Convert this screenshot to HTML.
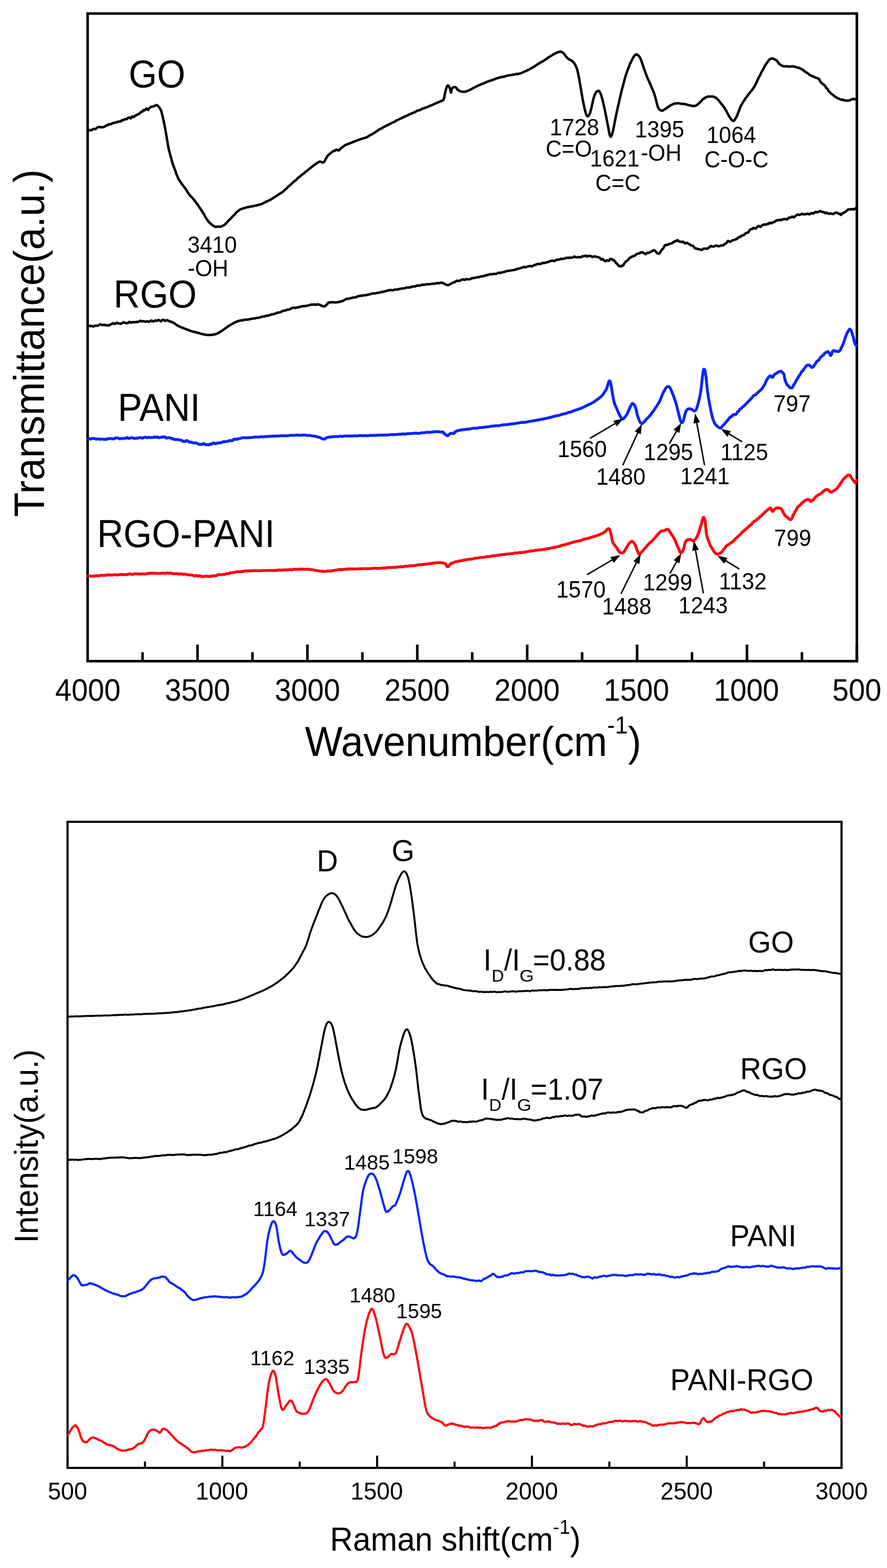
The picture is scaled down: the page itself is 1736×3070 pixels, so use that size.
<!DOCTYPE html>
<html><head><meta charset="utf-8"><title>FTIR and Raman spectra</title>
<style>
html,body{margin:0;padding:0;background:#fff;}
body{width:1736px;height:3070px;overflow:hidden;}
svg{display:block;}
text{font-family:"Liberation Sans",Arial,sans-serif;fill:#000;}
</style></head><body>
<svg width="1736" height="3070" viewBox="0 0 1736 3070">
<rect width="1736" height="3070" fill="#fff"/>
<rect x="171.5" y="26.5" width="1505.5" height="1268.0" fill="none" stroke="#000" stroke-width="5"/>
<line x1="1677.0" y1="1294.5" x2="1677.0" y2="1262" stroke="#000" stroke-width="5"/>
<text transform="translate(1628.97,1371.80) scale(0.9540,1)" font-size="60.3">500</text>
<line x1="1569.5" y1="1294.5" x2="1569.5" y2="1277" stroke="#000" stroke-width="5"/>
<line x1="1461.9" y1="1294.5" x2="1461.9" y2="1262" stroke="#000" stroke-width="5"/>
<text transform="translate(1396.92,1371.80) scale(0.9540,1)" font-size="60.3">1000</text>
<line x1="1354.4" y1="1294.5" x2="1354.4" y2="1277" stroke="#000" stroke-width="5"/>
<line x1="1246.9" y1="1294.5" x2="1246.9" y2="1262" stroke="#000" stroke-width="5"/>
<text transform="translate(1181.85,1371.80) scale(0.9540,1)" font-size="60.3">1500</text>
<line x1="1139.3" y1="1294.5" x2="1139.3" y2="1277" stroke="#000" stroke-width="5"/>
<line x1="1031.8" y1="1294.5" x2="1031.8" y2="1262" stroke="#000" stroke-width="5"/>
<text transform="translate(967.50,1371.80) scale(0.9540,1)" font-size="60.3">2000</text>
<line x1="924.2" y1="1294.5" x2="924.2" y2="1277" stroke="#000" stroke-width="5"/>
<line x1="816.7" y1="1294.5" x2="816.7" y2="1262" stroke="#000" stroke-width="5"/>
<text transform="translate(752.43,1371.80) scale(0.9540,1)" font-size="60.3">2500</text>
<line x1="709.2" y1="1294.5" x2="709.2" y2="1277" stroke="#000" stroke-width="5"/>
<line x1="601.6" y1="1294.5" x2="601.6" y2="1262" stroke="#000" stroke-width="5"/>
<text transform="translate(537.72,1371.80) scale(0.9540,1)" font-size="60.3">3000</text>
<line x1="494.1" y1="1294.5" x2="494.1" y2="1277" stroke="#000" stroke-width="5"/>
<line x1="386.6" y1="1294.5" x2="386.6" y2="1262" stroke="#000" stroke-width="5"/>
<text transform="translate(322.65,1371.80) scale(0.9540,1)" font-size="60.3">3500</text>
<line x1="279.0" y1="1294.5" x2="279.0" y2="1277" stroke="#000" stroke-width="5"/>
<line x1="171.5" y1="1294.5" x2="171.5" y2="1262" stroke="#000" stroke-width="5"/>
<text transform="translate(108.01,1371.80) scale(0.9540,1)" font-size="60.3">4000</text>
<path d="M172.4,256.0 173.2,255.2 174.1,254.7 175.1,255.2 176.3,255.2 177.5,254.6 178.9,254.7 180.3,254.5 181.7,253.2 183.3,252.3 184.9,252.5 186.5,252.6 188.1,252.0 189.8,250.2 191.5,249.4 193.2,248.7 194.8,248.2 196.5,249.0 198.1,249.1 199.7,248.7 201.2,249.2 202.6,249.0 204.0,248.2 205.4,247.6 206.8,246.7 208.3,245.3 209.8,245.4 211.2,244.7 212.7,243.2 214.2,243.3 215.7,243.2 217.2,243.0 218.6,242.0 220.1,241.5 221.5,241.0 223.0,240.3 224.4,240.3 225.7,239.9 227.1,239.4 228.4,238.9 229.7,239.1 230.9,238.6 232.1,237.8 233.8,237.8 235.4,238.1 236.9,237.2 238.3,235.3 239.7,235.5 241.1,235.3 242.4,234.2 243.7,233.6 245.0,233.8 246.2,233.0 247.5,233.3 248.7,233.0 250.0,231.1 251.3,230.4 252.7,230.1 254.0,230.9 255.3,231.9 256.7,231.0 258.1,228.3 259.5,227.9 260.9,228.8 262.3,229.0 263.6,227.5 265.0,226.1 266.3,225.7 267.6,225.1 268.9,224.2 270.1,223.5 271.2,223.5 272.3,223.1 273.3,222.1 274.9,220.5 276.4,218.9 277.6,218.7 278.8,218.6 279.9,216.8 280.8,215.5 281.8,216.0 282.7,216.1 283.6,215.8 285.1,214.0 286.4,212.6 287.6,212.7 288.8,214.8 290.0,215.3 291.1,212.9 292.1,211.6 293.1,211.3 294.1,210.1 295.3,209.4 296.6,209.0 297.9,209.0 299.3,208.7 300.8,207.9 302.3,207.3 303.8,206.6 305.2,206.1 306.5,205.7 307.8,206.4 309.1,207.5 310.2,208.5 311.3,209.7 312.2,211.0 313.1,212.3 313.7,213.4 314.3,214.4 314.7,215.3 315.2,216.4 315.6,217.6 316.0,219.0 316.4,220.5 316.7,221.7 317.1,223.1 317.4,224.3 317.7,225.4 318.0,226.6 318.4,228.1 318.7,229.8 319.0,231.3 319.4,232.7 319.7,233.9 320.0,235.2 320.3,236.9 320.5,238.3 320.8,239.7 321.1,240.9 321.4,241.9 321.6,243.3 321.9,244.8 322.2,246.2 322.4,247.7 322.7,249.0 323.0,250.3 323.3,251.5 323.5,252.9 323.8,254.4 324.0,255.9 324.3,257.4 324.5,258.9 324.8,260.5 325.0,261.9 325.3,263.3 325.5,264.7 325.8,266.1 326.0,267.5 326.3,269.0 326.5,270.5 326.8,272.0 327.0,273.4 327.2,274.7 327.5,276.3 327.7,277.6 327.9,279.0 328.1,280.5 328.4,282.0 328.6,283.5 328.9,284.8 329.1,286.0 329.3,287.5 329.6,289.0 329.9,290.5 330.3,291.7 330.6,293.1 331.0,294.6 331.3,296.1 331.7,297.3 332.0,298.6 332.4,300.0 332.8,301.1 333.1,302.6 333.5,304.2 333.8,305.5 334.2,306.8 334.6,308.2 334.9,309.5 335.3,310.8 335.7,312.2 336.0,313.5 336.4,314.8 336.8,316.2 337.1,317.4 337.5,318.6 337.9,320.1 338.3,321.8 338.8,323.0 339.2,324.0 339.6,325.3 340.1,326.4 340.5,327.6 341.0,328.7 341.4,329.8 342.0,331.3 342.5,332.8 342.9,333.9 343.4,335.0 343.9,336.4 344.4,338.0 344.9,339.7 345.4,341.3 346.0,342.6 346.5,343.9 347.1,345.0 347.6,346.2 348.1,347.6 348.7,349.0 349.2,350.0 349.9,351.5 350.7,352.7 351.4,353.6 352.1,354.5 352.9,355.7 353.6,356.8 354.4,357.9 355.2,359.1 356.0,360.3 356.8,361.2 357.6,362.3 358.5,363.6 359.3,364.7 360.2,365.8 361.1,366.8 362.0,368.1 362.8,369.4 363.6,370.2 364.3,371.0 365.1,372.4 365.7,373.6 366.3,374.5 366.8,375.4 367.4,376.5 368.1,377.4 368.8,378.7 369.8,379.9 370.6,380.9 371.4,382.2 372.4,383.2 373.4,384.2 374.5,385.5 375.6,386.5 376.7,387.5 377.7,388.9 378.8,390.3 379.8,391.6 380.7,392.6 381.5,393.6 382.6,394.9 383.6,396.2 384.4,397.5 385.3,398.6 386.0,399.7 386.8,400.7 387.6,401.6 388.4,402.9 389.2,404.3 389.9,405.4 390.7,406.4 391.5,407.6 392.3,408.7 393.0,409.9 393.8,411.0 394.5,412.1 395.2,413.1 396.0,414.5 396.7,415.5 397.4,416.5 398.1,417.7 398.7,419.0 399.4,420.0 400.1,421.1 400.7,422.5 401.4,424.1 402.1,424.8 402.7,425.9 403.3,427.0 404.0,428.1 404.7,429.0 405.5,430.2 406.4,431.6 407.3,432.9 408.3,434.1 409.3,435.0 410.4,436.3 411.4,437.5 412.4,438.0 413.6,438.8 414.7,439.9 415.9,440.9 417.0,441.8 418.1,442.4 419.3,442.8 420.6,443.6 421.8,444.4 423.1,444.3 424.5,443.8 426.2,443.7 427.3,443.8 428.5,443.8 429.7,443.8 431.1,443.8 432.4,443.5 433.8,443.0 435.3,442.3 436.7,441.6 438.2,440.9 439.1,440.3 440.1,439.5 441.1,438.5 442.1,437.7 443.1,436.7 444.1,435.5 445.2,434.3 446.2,433.2 447.2,431.9 448.3,430.8 449.3,430.1 450.3,429.1 451.4,428.0 452.4,427.1 453.4,426.0 454.4,424.7 455.5,423.3 456.5,422.4 457.5,421.7 458.6,420.8 459.6,419.8 460.6,418.4 461.6,416.8 462.7,415.6 463.7,415.0 464.7,414.2 465.8,413.4 466.8,412.6 468.1,411.5 469.4,410.6 470.7,410.1 471.9,409.5 473.2,409.0 474.5,408.5 475.8,408.0 477.1,407.6 478.5,407.2 479.8,406.9 481.2,406.4 482.5,405.9 483.9,405.6 485.2,405.6 486.6,405.3 488.0,405.0 489.4,404.7 490.9,404.3 492.3,404.0 493.7,404.0 495.0,403.8 496.4,403.5 497.7,403.0 499.2,402.7 500.6,402.6 502.0,402.3 503.3,401.7 504.6,401.5 506.0,401.2 507.4,400.8 508.9,400.3 510.4,399.9 512.1,399.4 513.2,398.9 514.4,398.3 515.6,397.6 516.8,397.0 518.1,396.5 519.4,395.8 520.7,395.0 522.0,394.4 523.4,393.9 524.7,393.3 526.1,392.5 527.4,391.8 528.7,391.3 530.1,390.7 531.4,389.9 532.7,389.0 533.9,388.1 535.1,387.3 536.3,386.7 537.5,386.1 538.8,385.2 540.0,384.3 541.2,383.5 542.4,382.8 543.6,382.0 544.8,381.1 546.0,380.3 547.2,379.7 548.5,378.8 549.7,377.9 550.9,377.4 552.1,376.6 553.3,375.5 554.4,374.7 555.5,373.6 556.6,372.6 557.6,371.6 558.7,370.7 559.8,370.0 560.9,369.0 562.0,367.8 563.1,366.6 564.1,365.5 565.2,364.7 566.3,363.8 567.4,362.5 568.5,361.6 569.6,360.8 570.6,360.0 571.7,359.0 572.8,357.7 573.9,356.7 575.0,355.8 576.0,354.9 577.1,354.0 578.1,353.4 579.2,352.6 580.2,351.5 581.2,350.4 582.3,349.5 583.3,348.3 584.3,347.5 585.4,346.8 586.5,346.3 587.5,345.3 588.6,344.2 589.8,343.0 590.9,341.9 592.1,341.3 593.3,340.6 594.5,339.4 595.6,338.6 596.7,337.6 597.8,336.5 599.1,335.8 600.3,335.0 601.6,333.8 602.9,332.7 604.2,331.6 605.5,330.4 606.8,329.5 608.1,328.6 609.5,327.5 610.7,326.6 612.0,325.4 613.3,324.2 614.5,323.4 615.6,322.7 616.7,321.9 617.8,321.1 618.8,320.5 619.7,319.8 620.5,319.2 621.3,318.6 623.9,317.1 625.3,316.6 626.0,316.5 626.6,316.5 627.5,316.6 628.7,317.1 629.9,317.8 631.1,318.2 632.3,318.3 633.7,317.5 634.3,316.7 635.0,315.9 635.6,315.0 636.3,313.8 636.9,312.4 637.6,311.1 638.4,309.8 639.2,308.3 640.0,306.9 640.9,305.5 641.9,304.3 642.9,303.4 644.0,302.4 645.3,301.3 646.6,300.2 647.9,299.3 649.3,298.2 650.6,297.2 652.0,296.3 653.2,295.8 654.4,295.4 655.5,294.8 656.4,294.1 658.2,293.2 659.5,293.4 660.6,293.9 661.5,294.5 662.5,294.7 663.5,294.2 664.3,293.3 665.3,292.2 666.7,290.7 667.5,290.0 668.4,289.4 669.3,288.8 670.3,288.1 671.4,287.4 672.6,286.4 673.9,285.3 675.4,284.4 677.0,283.6 678.1,282.9 679.2,282.6 680.4,282.3 681.7,281.9 683.0,281.3 684.4,280.6 685.8,280.0 687.3,279.5 688.7,278.9 690.2,278.4 691.7,277.9 693.2,277.2 694.7,276.5 696.2,276.0 697.6,275.6 698.9,275.1 700.3,274.6 701.6,274.1 702.9,273.4 704.2,273.0 705.5,272.7 706.8,272.2 708.2,271.6 709.5,271.2 710.9,270.9 712.3,270.4 713.8,269.9 715.2,269.6 716.8,269.1 718.4,268.3 720.0,267.5 721.1,266.8 722.2,266.0 723.3,265.3 724.5,264.7 725.6,264.2 726.8,263.5 728.0,263.0 729.3,262.1 730.5,261.1 731.7,260.6 733.0,260.0 734.3,259.0 735.6,258.1 736.8,257.1 738.1,256.3 739.4,255.4 740.7,254.7 742.0,253.6 743.3,252.7 744.6,252.5 745.9,252.1 747.1,251.1 748.4,250.3 749.7,249.6 750.9,248.8 752.2,248.3 753.5,247.6 754.8,246.7 756.1,246.1 757.3,245.4 758.6,244.6 759.9,244.3 761.2,243.8 762.5,242.9 763.8,242.3 765.1,241.6 766.4,240.9 767.6,240.4 768.9,239.7 770.2,239.1 771.5,238.7 772.8,238.0 774.1,237.2 775.4,236.1 776.6,235.5 777.9,235.2 779.2,234.5 780.5,233.8 781.8,233.1 783.1,232.5 784.5,231.9 785.8,231.4 787.2,230.6 788.5,230.0 789.9,229.4 791.2,228.8 792.5,228.0 793.9,227.4 795.2,226.9 796.6,226.3 797.9,225.7 799.3,224.9 800.6,224.3 802.0,223.7 803.3,223.1 804.6,222.5 806.0,221.8 807.3,221.3 808.7,220.9 810.0,220.4 811.4,219.6 812.7,219.0 814.1,218.4 815.4,217.4 816.8,216.6 818.2,216.2 819.6,216.1 821.0,215.9 822.4,215.2 823.9,214.5 825.3,213.6 826.7,212.6 828.1,212.1 829.5,212.1 830.9,211.6 832.3,210.9 833.6,210.5 835.0,209.9 836.3,209.6 837.6,209.2 838.8,208.4 840.1,207.8 841.3,207.4 842.5,206.9 843.6,206.5 845.2,205.7 846.8,205.2 848.3,204.5 849.9,203.7 851.3,203.0 852.8,202.4 854.2,201.6 855.6,201.1 856.9,200.7 858.1,200.2 859.3,199.6 860.4,199.3 861.5,198.6 862.5,198.1 863.4,198.0 864.2,197.7 866.4,196.5 867.3,196.2 867.7,195.8 868.4,194.1 868.7,193.3 869.0,192.4 869.4,190.9 869.7,189.4 870.0,187.8 870.3,186.1 870.6,184.6 870.9,182.9 871.2,181.1 871.6,179.7 871.9,178.5 872.2,177.0 872.5,175.8 873.1,174.1 873.7,172.2 874.3,170.5 874.8,169.3 875.4,168.2 876.0,167.6 876.6,167.4 877.5,167.6 878.3,168.6 879.2,170.2 880.0,172.0 880.7,173.7 881.2,175.2 881.7,177.2 882.1,179.2 882.4,180.5 882.8,181.1 883.1,180.5 883.3,178.9 883.5,177.0 883.8,175.4 884.2,173.9 884.8,172.7 885.8,171.8 887.0,171.2 888.3,170.7 889.7,170.3 891.0,170.7 892.0,171.2 893.0,172.0 894.0,173.3 895.0,174.9 896.0,175.9 897.2,176.5 898.4,177.3 899.7,178.1 901.1,178.7 902.5,179.1 904.0,179.4 905.5,179.8 906.6,179.7 907.7,179.7 908.8,179.6 909.9,179.5 911.1,179.4 912.5,179.0 914.0,178.2 915.8,177.5 916.8,177.2 917.9,176.9 919.0,176.4 920.2,175.7 921.5,175.0 922.8,174.3 924.1,173.5 925.5,172.8 926.8,172.3 928.2,171.4 929.6,170.7 931.0,170.2 932.4,169.5 933.8,168.6 935.1,167.8 936.4,167.1 937.8,166.8 939.1,166.3 940.5,165.6 941.9,165.1 943.3,164.3 944.6,163.8 946.0,163.4 947.4,162.9 948.8,162.4 950.1,161.6 951.5,160.9 952.9,160.3 954.3,159.8 955.6,159.3 957.0,158.9 958.4,158.6 959.7,157.9 961.1,157.4 962.4,157.3 963.8,156.6 965.2,155.9 966.5,155.8 967.9,155.3 969.2,154.4 970.6,153.7 972.0,153.4 973.4,153.3 974.8,152.7 976.2,152.2 977.6,151.9 979.0,151.6 980.3,151.0 981.7,150.6 983.1,150.4 984.5,150.6 985.9,150.4 987.4,149.9 988.8,149.4 990.2,148.9 991.7,148.4 993.1,148.2 994.5,147.8 995.9,147.5 997.3,147.3 998.6,147.2 1000.0,147.1 1001.4,146.9 1002.8,146.5 1004.2,146.1 1005.6,146.0 1007.0,145.9 1008.4,145.7 1009.7,145.1 1011.1,144.6 1012.4,144.8 1013.8,145.0 1015.2,144.6 1016.5,144.1 1017.9,143.8 1019.2,143.4 1020.6,142.9 1021.9,142.3 1023.2,141.8 1024.5,141.3 1025.8,140.5 1027.0,139.9 1028.3,139.5 1029.6,139.0 1030.9,138.4 1032.2,137.7 1033.5,137.1 1034.8,136.6 1036.1,135.7 1037.3,135.0 1038.6,134.3 1039.9,133.4 1041.2,132.7 1042.5,132.1 1043.8,131.5 1045.1,130.6 1046.4,129.7 1047.6,128.8 1048.9,128.0 1050.2,127.4 1051.5,126.4 1052.8,125.4 1054.1,124.7 1055.4,123.8 1056.7,123.1 1057.9,122.5 1059.2,121.7 1060.5,121.0 1061.8,120.1 1063.0,119.4 1064.3,118.8 1065.5,118.2 1066.8,117.2 1068.1,116.2 1069.4,115.3 1070.7,114.4 1072.0,113.6 1073.2,112.6 1074.5,111.8 1075.7,111.0 1076.9,110.2 1078.1,109.5 1079.3,109.0 1080.4,108.1 1081.4,107.4 1082.4,106.9 1084.2,106.0 1085.8,105.1 1087.4,104.4 1088.8,103.7 1090.2,102.9 1091.4,102.4 1092.6,102.0 1093.7,101.7 1094.8,101.3 1096.4,101.0 1097.5,101.1 1098.5,101.5 1099.6,102.0 1101.0,102.9 1101.8,103.5 1102.6,104.0 1103.5,104.7 1104.4,106.0 1105.4,107.4 1106.4,108.9 1107.4,110.1 1108.4,111.1 1109.4,112.5 1110.3,113.6 1111.3,114.3 1112.5,115.3 1113.7,116.3 1114.9,116.8 1116.1,117.3 1117.3,117.9 1118.5,118.5 1119.6,119.4 1120.6,120.3 1121.6,121.3 1122.5,122.2 1123.3,123.2 1124.0,124.3 1124.8,125.3 1125.4,126.4 1126.0,127.5 1126.6,128.8 1127.2,130.0 1127.8,131.4 1128.3,132.5 1128.8,133.5 1129.2,134.9 1129.6,136.5 1130.0,137.9 1130.4,139.0 1130.7,140.3 1131.1,142.1 1131.5,143.9 1131.9,145.7 1132.2,147.0 1132.4,148.4 1132.6,149.7 1132.9,150.8 1133.1,151.9 1133.3,153.2 1133.6,154.5 1133.8,155.8 1134.1,157.4 1134.3,158.9 1134.6,160.4 1134.8,162.1 1135.1,163.8 1135.4,165.4 1135.7,167.2 1136.0,168.7 1136.2,169.7 1136.4,171.0 1136.7,172.5 1136.9,173.8 1137.2,175.3 1137.4,177.0 1137.7,178.7 1137.9,180.2 1138.2,181.6 1138.4,183.1 1138.7,184.7 1139.0,186.3 1139.2,187.8 1139.5,189.5 1139.8,191.0 1140.1,192.4 1140.3,194.1 1140.6,195.5 1140.9,196.9 1141.1,198.1 1141.4,199.5 1141.7,200.8 1141.9,202.0 1142.2,203.4 1142.6,205.6 1143.0,207.4 1143.4,209.1 1143.8,211.0 1144.1,212.6 1144.5,214.2 1144.9,215.7 1145.3,217.3 1145.7,218.9 1146.1,220.4 1146.5,221.5 1146.9,222.4 1147.2,223.4 1147.6,224.6 1148.0,225.7 1148.4,226.4 1149.6,227.6 1150.7,227.5 1151.9,226.6 1153.1,224.9 1154.5,222.0 1154.8,221.2 1155.1,220.3 1155.5,219.1 1155.8,217.6 1156.2,216.3 1156.5,215.1 1156.9,213.6 1157.3,212.2 1157.6,210.7 1158.0,208.8 1158.4,206.9 1158.8,205.1 1159.2,203.5 1159.5,202.0 1159.9,200.3 1160.3,198.6 1160.7,197.0 1161.0,195.3 1161.4,193.5 1161.8,192.1 1162.1,191.6 1162.5,190.5 1162.8,189.1 1163.7,186.5 1164.5,184.6 1165.3,183.0 1166.1,181.3 1166.9,180.3 1167.7,179.6 1168.5,178.9 1169.2,178.4 1170.0,178.1 1170.9,178.1 1171.8,177.9 1172.7,178.3 1173.5,179.6 1174.4,181.2 1175.3,183.0 1176.2,185.2 1176.5,186.0 1176.9,187.0 1177.2,188.5 1177.6,189.9 1178.0,191.1 1178.3,192.0 1178.7,193.2 1179.1,194.7 1179.4,196.4 1179.8,198.1 1180.2,199.6 1180.5,201.0 1180.9,202.7 1181.3,204.4 1181.6,206.1 1182.0,207.7 1182.4,209.3 1182.7,210.9 1183.1,212.5 1183.4,213.9 1183.7,215.2 1184.0,216.7 1184.3,217.9 1184.6,219.2 1184.9,220.8 1185.2,222.4 1185.5,224.0 1185.8,225.4 1186.1,226.8 1186.3,228.3 1186.6,229.7 1186.9,231.0 1187.2,232.4 1187.5,234.1 1187.7,235.3 1188.0,236.8 1188.3,238.4 1188.6,239.8 1188.8,241.2 1189.1,242.6 1189.3,243.9 1189.6,245.2 1189.9,247.0 1190.3,248.3 1190.6,250.0 1190.9,251.8 1191.3,253.6 1191.6,255.6 1191.9,257.4 1192.2,258.8 1192.5,260.3 1192.8,262.0 1193.1,263.6 1193.4,264.9 1193.8,265.9 1194.1,266.5 1194.4,267.0 1194.7,267.5 1195.3,267.6 1195.8,267.2 1196.4,266.5 1196.9,265.4 1197.5,263.7 1198.1,261.9 1198.7,260.1 1199.3,257.8 1199.9,255.3 1200.2,254.0 1200.4,252.8 1200.7,251.8 1200.9,250.8 1201.2,249.6 1201.4,248.4 1201.7,247.3 1201.9,245.9 1202.2,244.3 1202.4,242.9 1202.7,241.6 1202.9,240.1 1203.2,238.6 1203.5,237.2 1203.8,235.8 1204.1,234.1 1204.4,232.4 1204.7,230.8 1205.0,229.3 1205.4,227.8 1205.7,226.1 1206.1,224.2 1206.4,222.8 1206.6,221.8 1206.9,220.5 1207.2,219.1 1207.5,217.6 1207.8,216.0 1208.1,214.7 1208.5,213.4 1208.8,212.0 1209.1,210.2 1209.5,208.3 1209.8,207.1 1210.1,205.9 1210.5,204.6 1210.8,203.1 1211.2,201.8 1211.5,200.2 1211.9,198.5 1212.2,196.7 1212.6,194.9 1212.9,193.5 1213.3,192.0 1213.6,190.4 1214.0,188.9 1214.3,187.4 1214.7,185.8 1215.0,184.4 1215.4,183.0 1215.7,181.6 1216.1,180.2 1216.4,178.8 1216.8,177.0 1217.2,175.4 1217.6,173.8 1218.0,172.4 1218.4,171.1 1218.8,169.6 1219.2,168.0 1219.6,166.6 1220.0,165.2 1220.4,163.5 1220.8,161.9 1221.2,160.3 1221.6,158.9 1221.9,157.5 1222.3,156.1 1222.7,154.8 1223.1,153.4 1223.5,151.9 1223.9,150.5 1224.3,149.1 1224.7,147.7 1225.1,146.5 1225.5,145.4 1225.9,144.3 1226.3,143.1 1226.7,142.0 1227.3,140.3 1227.9,138.8 1228.4,137.1 1229.0,135.4 1229.6,133.9 1230.2,132.5 1230.8,131.1 1231.4,129.6 1232.0,127.7 1232.6,126.0 1233.1,124.5 1233.7,123.6 1234.3,122.7 1234.9,121.5 1235.4,120.3 1235.9,119.0 1236.5,117.9 1237.0,117.0 1238.0,115.1 1239.0,113.3 1239.9,111.8 1240.8,110.3 1241.7,109.1 1242.5,108.2 1243.4,107.4 1244.3,106.8 1245.2,106.5 1246.2,106.6 1247.2,107.0 1248.2,107.9 1249.2,108.5 1250.2,109.4 1251.2,110.8 1252.3,112.4 1253.4,114.5 1253.8,115.7 1254.3,116.8 1254.8,117.8 1255.2,119.0 1255.7,120.2 1256.2,121.7 1256.6,123.2 1257.1,124.6 1257.6,126.0 1258.1,127.4 1258.6,129.0 1259.1,130.5 1259.6,132.0 1260.1,133.6 1260.6,135.0 1261.1,136.4 1261.7,138.0 1262.2,139.4 1262.7,140.8 1263.3,142.3 1263.8,143.9 1264.4,145.2 1264.9,146.4 1265.5,148.3 1266.1,150.2 1266.8,151.5 1267.4,152.7 1268.0,154.1 1268.7,155.8 1269.3,157.3 1270.0,158.6 1270.6,160.0 1271.2,161.6 1271.9,163.0 1272.5,164.1 1273.1,165.5 1273.6,167.0 1274.2,168.3 1274.7,169.6 1275.2,170.8 1275.7,171.8 1276.1,172.6 1277.0,174.5 1277.6,176.4 1278.2,177.9 1278.7,179.0 1279.1,179.7 1279.5,180.6 1279.9,182.0 1280.4,183.5 1281.0,185.2 1281.3,186.2 1281.7,187.4 1282.1,188.8 1282.5,190.1 1282.9,191.7 1283.3,193.3 1283.7,194.8 1284.1,196.3 1284.5,198.2 1285.0,200.1 1285.4,201.8 1285.8,203.3 1286.2,205.0 1286.6,206.6 1287.1,207.9 1287.4,208.9 1287.8,210.0 1288.2,210.9 1289.3,212.8 1290.3,214.1 1291.3,214.9 1292.2,215.5 1293.1,216.0 1294.0,216.1 1295.0,216.4 1295.8,216.7 1296.9,216.7 1298.5,215.7 1299.4,215.0 1300.5,214.4 1301.6,213.6 1302.9,212.9 1304.2,212.0 1305.6,210.8 1306.9,210.0 1308.3,209.3 1309.6,208.2 1310.9,207.3 1312.2,206.4 1313.5,205.5 1314.8,205.1 1316.1,204.7 1317.4,203.8 1318.7,203.1 1320.1,202.8 1321.7,202.6 1323.3,202.5 1324.5,202.4 1325.9,202.3 1327.2,202.2 1328.7,202.2 1330.2,202.6 1331.7,202.9 1333.2,203.2 1334.7,203.4 1336.2,203.5 1337.7,203.6 1339.1,203.6 1340.5,203.8 1341.8,204.2 1343.4,204.6 1345.0,204.9 1346.6,205.5 1348.1,205.9 1349.6,206.2 1351.1,206.4 1352.5,206.6 1353.8,207.2 1355.0,207.5 1356.2,207.5 1357.9,207.5 1359.2,207.5 1360.3,207.4 1361.5,206.9 1362.8,206.1 1364.5,205.3 1365.3,204.5 1366.3,203.8 1367.2,203.0 1368.2,202.0 1369.3,200.9 1370.3,200.0 1371.4,199.0 1372.5,197.9 1373.7,196.7 1374.8,195.1 1375.8,193.8 1376.9,193.4 1377.9,193.0 1378.9,192.3 1380.4,191.2 1381.8,190.5 1383.3,189.9 1384.7,189.2 1386.0,189.0 1387.4,189.0 1388.7,189.1 1390.0,189.0 1391.3,189.1 1392.7,188.9 1393.9,188.8 1395.1,189.2 1396.3,189.3 1397.5,189.8 1398.8,190.4 1400.1,190.9 1401.6,191.8 1402.4,192.8 1403.3,193.4 1404.2,194.0 1405.1,194.9 1406.0,196.0 1407.0,197.2 1407.9,198.3 1408.9,199.6 1409.9,200.9 1410.9,202.2 1411.9,203.4 1412.9,204.5 1413.9,205.6 1415.0,207.2 1416.0,208.6 1416.7,209.5 1417.5,210.5 1418.3,211.6 1419.1,213.1 1420.0,214.7 1420.8,216.1 1421.7,217.6 1422.5,219.3 1423.4,221.0 1424.2,222.5 1425.1,224.1 1425.9,225.7 1426.7,227.0 1427.5,228.4 1428.3,229.6 1429.1,230.9 1429.8,232.1 1430.6,233.1 1431.2,233.8 1431.9,234.5 1432.5,235.1 1434.1,236.4 1435.4,236.9 1436.5,236.5 1437.5,235.3 1438.4,233.9 1439.5,232.1 1440.7,230.1 1441.2,229.0 1441.7,228.0 1442.3,227.1 1442.8,225.8 1443.4,224.2 1443.9,222.6 1444.5,221.3 1445.0,219.8 1445.6,218.5 1446.2,217.2 1446.7,215.7 1447.3,214.1 1447.9,212.7 1448.5,211.1 1449.1,209.3 1449.8,207.7 1450.4,206.7 1451.0,205.7 1451.8,204.5 1452.5,203.1 1453.3,201.6 1454.2,200.2 1455.0,198.6 1455.8,197.4 1456.6,196.3 1457.5,195.3 1458.3,193.8 1459.2,192.3 1460.0,191.4 1460.9,190.3 1461.7,189.2 1462.6,188.0 1463.4,186.9 1464.3,185.7 1465.2,184.4 1466.1,183.2 1467.0,182.3 1467.9,181.1 1468.8,179.9 1469.7,178.8 1470.6,177.7 1471.5,176.8 1472.4,175.5 1473.3,174.3 1474.1,173.0 1475.0,171.5 1475.8,170.2 1476.5,169.2 1477.2,168.2 1477.8,167.1 1478.5,165.7 1479.1,164.3 1479.7,163.2 1480.3,162.0 1481.0,160.8 1481.6,159.2 1482.2,157.8 1482.8,156.6 1483.4,155.2 1484.1,153.8 1484.7,152.3 1485.4,151.1 1486.1,149.8 1486.7,148.9 1487.4,147.8 1488.1,146.3 1488.7,144.5 1489.4,143.1 1490.1,141.8 1490.8,140.7 1491.5,139.4 1492.2,138.0 1493.0,136.7 1493.7,135.5 1494.4,134.3 1495.1,133.1 1495.8,131.6 1496.4,130.2 1497.1,128.8 1497.8,127.7 1498.4,126.8 1499.4,125.3 1500.4,124.0 1501.4,122.7 1502.3,121.2 1503.2,119.8 1504.1,118.6 1505.0,117.6 1505.9,116.6 1506.9,115.9 1507.8,115.3 1508.7,114.8 1510.0,114.5 1511.4,114.4 1512.7,114.7 1514.1,115.3 1515.4,115.8 1516.7,116.5 1517.9,117.1 1519.0,117.7 1520.1,118.5 1521.0,119.5 1521.8,120.6 1522.6,121.8 1523.4,123.0 1524.2,124.3 1525.2,125.2 1526.2,126.0 1527.2,126.7 1528.3,127.3 1529.4,127.8 1530.6,128.5 1532.0,129.4 1533.5,129.7 1534.7,129.8 1536.1,129.9 1537.5,129.9 1539.1,129.6 1540.6,129.7 1542.2,130.3 1543.7,130.5 1545.2,130.2 1546.6,130.1 1547.9,130.2 1549.5,130.1 1551.0,129.8 1552.3,129.9 1553.5,130.3 1554.8,130.3 1556.1,130.6 1557.5,131.2 1558.8,131.7 1560.2,132.3 1561.5,132.7 1562.9,132.9 1564.3,133.0 1565.7,133.6 1567.1,134.6 1568.5,135.3 1569.7,135.7 1570.9,136.6 1572.2,137.4 1573.4,138.5 1574.6,139.7 1575.8,140.2 1577.1,141.1 1578.3,142.0 1579.5,142.5 1580.7,143.2 1581.9,144.5 1583.1,145.5 1584.3,146.3 1585.5,147.0 1586.7,147.7 1587.9,148.2 1589.1,148.9 1590.4,149.2 1591.7,149.9 1593.2,150.3 1594.6,151.2 1596.1,152.1 1597.6,152.3 1599.0,152.7 1600.3,153.5 1601.5,153.9 1602.5,154.4 1603.7,155.8 1604.5,157.7 1605.0,158.9 1605.6,159.7 1606.1,160.5 1606.9,161.7 1607.9,162.4 1609.0,163.4 1610.2,164.3 1611.4,165.4 1612.5,165.7 1613.5,167.0 1614.3,167.8 1615.0,167.9 1615.6,169.4 1616.2,171.3 1616.9,172.1 1617.9,172.5 1618.6,173.1 1619.3,174.0 1620.1,175.1 1621.0,176.8 1621.9,178.7 1622.8,179.5 1623.8,180.1 1624.7,181.2 1625.7,182.5 1626.7,183.3 1627.8,184.0 1629.0,185.1 1630.1,185.6 1631.3,186.5 1632.5,188.0 1633.8,189.1 1635.1,189.4 1636.4,190.3 1637.7,191.4 1638.9,192.1 1640.2,192.8 1641.6,193.4 1642.9,193.7 1644.3,194.4 1645.7,194.9 1647.0,195.3 1648.4,195.6 1649.7,195.0 1650.9,195.6 1652.4,196.8 1653.9,196.8 1655.4,196.6 1656.9,197.0 1658.3,197.2 1659.6,196.9 1660.8,196.9 1661.9,196.6 1663.6,196.1 1664.9,195.6 1666.0,195.0 1667.4,194.0 1668.6,194.0 1670.1,194.2 1671.5,193.8 1673.0,193.9 1674.1,194.7 1675.0,194.9" fill="none" stroke="#000" stroke-width="4.8" stroke-linejoin="round" stroke-linecap="round"/>
<path d="M172.4,639.1 173.2,638.7 174.1,638.1 175.0,637.8 176.1,638.2 177.3,638.5 178.5,638.4 179.9,638.1 181.3,638.7 182.7,639.5 184.2,638.6 185.8,637.7 187.4,637.9 189.1,637.7 190.7,637.7 192.5,637.3 194.2,636.0 195.9,634.9 197.7,635.5 199.4,636.2 201.2,635.9 202.5,636.3 203.8,636.3 205.1,635.9 206.4,636.7 207.8,637.2 209.2,637.0 210.6,636.8 212.1,637.0 213.5,637.1 215.0,635.9 216.5,635.2 218.0,634.9 219.5,633.7 221.0,632.9 222.6,633.4 224.1,634.3 225.6,634.0 227.2,632.4 228.7,631.8 230.3,632.6 231.8,633.1 233.3,633.3 234.9,633.8 236.4,634.0 237.9,633.3 239.4,632.5 240.9,631.2 242.4,630.9 243.9,631.9 245.4,632.6 246.8,632.7 248.3,632.6 249.8,632.6 251.3,631.8 252.8,630.2 254.3,630.5 255.8,631.5 257.3,631.3 258.8,630.6 260.3,631.2 261.8,630.8 263.3,630.6 264.7,630.9 266.2,630.7 267.7,629.9 269.2,630.5 270.7,630.2 272.1,629.4 273.6,628.7 275.0,627.9 276.5,628.6 277.9,629.3 279.4,629.0 280.8,629.0 282.2,629.2 283.6,629.6 285.2,629.9 286.8,629.3 288.4,628.9 290.0,629.7 291.6,630.1 293.3,629.0 294.9,628.1 296.6,627.7 298.2,628.8 299.8,629.3 301.4,629.1 303.0,627.9 304.6,627.4 306.2,628.2 307.7,628.1 309.2,626.8 310.7,626.4 312.1,627.4 313.5,628.4 314.8,629.2 316.1,627.8 317.3,626.9 318.5,626.6 319.6,626.0 320.7,626.8 323.0,628.1 324.9,627.6 326.5,626.9 327.8,627.0 328.9,628.0 330.0,628.6 331.0,628.7 332.2,628.9 333.5,629.6 335.1,630.2 336.2,630.5 337.3,631.0 338.4,631.2 339.6,632.0 340.8,632.9 342.0,633.6 343.2,634.4 344.4,635.3 345.7,636.3 347.0,637.1 348.4,637.8 349.8,638.6 351.2,639.3 352.7,639.8 354.2,640.7 355.8,641.5 357.0,641.8 358.3,642.3 359.6,642.8 360.9,643.2 362.3,643.7 363.7,644.4 365.2,645.0 366.6,645.4 368.1,645.8 369.6,646.4 371.1,647.1 372.6,647.7 374.1,648.2 375.6,648.7 377.1,649.2 378.6,649.5 380.0,649.7 381.4,650.1 382.8,650.3 384.2,650.5 385.5,651.1 386.7,651.8 388.4,651.9 390.0,652.1 391.5,652.8 393.1,653.5 394.6,653.8 396.1,654.1 397.5,654.3 398.9,654.7 400.3,655.1 401.6,655.3 403.0,655.4 404.3,655.6 405.6,655.8 406.8,655.7 408.1,655.8 409.3,655.8 410.9,655.8 412.4,655.9 413.8,655.7 415.2,655.4 416.5,655.1 417.8,655.0 419.1,655.1 420.4,654.6 421.7,654.3 423.0,653.8 424.4,653.4 425.8,652.8 427.0,652.0 428.2,651.4 429.4,650.8 430.7,650.0 432.0,649.2 433.2,648.3 434.5,647.6 435.8,646.8 437.1,645.7 438.3,644.6 439.6,643.7 440.8,642.9 442.1,642.2 443.2,641.5 444.4,640.5 445.7,639.5 447.0,638.6 448.2,637.8 449.5,637.1 450.7,636.6 451.9,635.7 453.1,634.9 454.2,634.3 455.4,633.5 456.6,633.0 457.7,632.5 458.9,631.8 460.0,631.1 461.4,630.4 462.6,630.0 463.8,629.5 464.8,628.8 466.0,628.6 467.2,628.5 468.6,628.0 470.2,627.6 472.1,627.3 474.3,627.0 475.3,627.1 476.5,627.0 477.6,626.5 478.9,625.9 480.2,625.8 481.5,625.7 482.9,625.8 484.3,625.8 485.7,625.5 487.2,625.4 488.7,625.2 490.2,624.7 491.8,624.2 493.4,623.9 494.9,623.6 496.5,623.6 498.1,623.5 499.6,623.3 501.2,622.8 502.7,622.3 504.3,622.3 505.8,622.2 507.3,621.9 508.7,621.3 510.1,620.8 511.6,620.6 513.0,620.1 514.4,619.7 515.9,619.7 517.3,619.7 518.7,619.1 520.1,618.5 521.6,618.2 523.0,618.1 524.4,618.0 525.8,617.6 527.3,617.2 528.7,616.7 530.1,616.2 531.6,615.6 533.0,615.3 534.4,615.3 535.8,614.9 537.3,614.5 538.7,613.9 540.1,613.4 541.6,612.8 543.0,612.2 544.4,612.0 545.8,611.9 547.2,611.6 548.6,611.2 550.0,610.7 551.4,610.0 552.8,609.1 554.2,608.2 555.6,608.1 557.0,608.4 558.4,607.9 559.8,607.3 561.2,606.6 562.6,606.2 564.0,606.4 565.4,606.0 566.9,605.6 568.3,604.9 569.8,603.9 571.3,603.1 572.8,603.0 574.3,602.4 575.8,602.1 577.4,602.8 578.8,602.8 580.2,602.4 581.7,601.9 583.2,601.6 584.7,601.4 586.2,601.0 587.8,600.7 589.4,600.2 591.0,599.4 592.7,599.6 594.3,599.5 595.9,599.5 597.6,599.3 599.2,598.7 600.8,598.6 602.4,598.4 604.0,597.7 605.5,597.4 607.0,597.0 608.5,596.4 610.0,596.5 611.4,596.7 612.7,596.3 614.0,595.9 615.3,596.2 616.4,596.8 617.6,596.8 618.6,596.2 621.0,595.8 623.0,596.2 624.8,596.5 626.2,596.9 627.5,597.6 628.7,598.5 629.7,598.8 630.7,598.7 631.8,599.5 632.8,600.0 634.0,600.0 635.3,599.6 636.5,599.1 637.6,598.1 638.7,596.6 639.8,596.2 640.9,595.1 642.0,593.2 643.2,592.2 644.5,592.1 646.0,591.9 647.2,592.0 648.6,591.8 650.0,591.7 651.4,591.8 652.9,591.8 654.5,592.0 656.0,592.1 657.6,592.0 659.1,592.1 660.6,591.9 662.1,591.3 663.5,591.2 664.9,591.1 666.3,590.6 667.5,589.9 668.6,589.8 669.6,589.7 670.6,589.5 671.7,589.0 672.8,588.0 674.0,587.2 675.3,586.6 676.8,586.0 678.5,585.2 680.4,584.6 681.5,584.9 682.6,585.1 683.8,584.6 685.0,583.8 686.3,583.7 687.7,583.8 689.0,583.2 690.4,582.7 691.9,582.4 693.4,582.4 694.9,582.4 696.4,582.2 697.9,581.5 699.4,580.7 701.0,579.9 702.6,579.6 704.1,579.4 705.7,579.1 707.2,578.9 708.8,579.0 710.3,578.6 711.8,578.2 713.3,577.9 714.7,578.1 716.1,578.2 717.6,577.5 719.0,577.2 720.4,577.0 721.9,576.7 723.3,576.4 724.7,575.8 726.2,575.5 727.6,575.1 729.0,574.6 730.5,574.5 731.9,574.6 733.3,574.3 734.8,574.3 736.2,574.0 737.6,573.5 739.1,573.4 740.5,573.1 741.9,573.1 743.4,573.0 744.8,572.1 746.2,571.5 747.7,571.5 749.1,571.9 750.5,571.1 752.0,570.4 753.4,570.5 754.8,570.2 756.3,569.8 757.7,569.0 759.1,568.5 760.5,568.5 762.0,568.3 763.4,567.9 764.8,567.8 766.3,568.0 767.7,568.3 769.1,568.3 770.5,567.8 772.0,567.1 773.4,566.7 774.8,566.9 776.3,567.1 777.7,566.9 779.1,566.4 780.5,566.1 782.0,565.8 783.4,565.3 784.8,565.1 786.2,565.1 787.6,564.6 789.0,564.6 790.4,564.6 791.7,564.3 793.1,563.9 794.4,563.2 795.8,563.1 797.2,563.0 798.5,563.0 799.9,562.8 801.3,562.7 802.7,562.8 804.1,562.3 805.5,561.5 806.9,561.1 808.4,560.9 809.9,560.9 811.4,561.1 812.9,560.6 814.5,559.8 816.1,559.2 817.7,558.9 819.0,559.1 820.4,559.4 821.7,559.1 823.2,558.6 824.7,558.0 826.2,557.5 827.7,557.7 829.3,557.7 830.9,557.7 832.5,557.1 834.1,556.7 835.7,556.6 837.3,556.5 839.0,556.6 840.6,556.4 842.2,556.1 843.8,555.8 845.4,555.5 846.9,555.5 848.5,555.5 850.0,555.6 851.4,555.2 852.9,554.8 854.2,554.4 855.6,554.2 856.9,554.3 858.1,554.6 859.3,554.4 860.4,554.3 861.4,553.9 862.4,553.4 865.0,553.4 867.1,554.5 868.7,555.4 870.0,555.7 871.0,556.4 871.9,556.9 872.6,557.1 873.4,557.7 874.3,557.8 875.4,558.1 876.8,558.4 878.1,557.8 879.4,557.1 880.6,556.8 881.9,555.8 883.3,555.0 884.7,554.4 886.4,553.6 887.5,552.9 888.7,552.5 890.0,552.5 891.3,551.5 892.6,550.3 894.0,549.6 895.4,549.8 896.8,550.1 898.2,550.1 899.6,549.9 900.9,549.1 902.3,548.1 903.6,547.7 904.9,547.7 905.9,547.3 906.7,547.0 907.4,546.9 908.2,547.5 909.1,548.1 910.2,547.7 911.8,547.0 913.8,546.4 916.5,546.8 920.0,546.6 920.9,546.5 921.9,545.8 922.9,544.8 924.0,544.5 925.1,544.8 926.2,544.5 927.4,544.0 928.6,543.9 929.9,543.8 931.2,543.8 932.5,543.2 933.8,542.6 935.2,542.6 936.6,542.7 938.1,542.8 939.5,541.9 941.0,541.1 942.5,541.1 944.0,541.0 945.6,540.8 947.1,540.3 948.7,539.6 950.3,539.3 951.9,538.9 953.5,538.2 955.1,538.1 956.7,537.8 958.4,537.1 960.0,536.8 961.7,536.9 963.3,537.0 965.0,536.7 966.6,536.1 968.3,536.2 969.9,536.4 971.5,536.2 973.2,535.2 974.8,534.2 976.4,533.9 978.0,534.3 979.6,534.3 981.1,533.5 982.7,533.3 984.2,533.3 985.7,532.8 987.2,532.1 988.7,531.8 990.2,531.2 991.6,530.7 993.1,530.7 994.5,530.4 996.0,529.9 997.5,530.1 998.9,530.1 1000.4,529.1 1001.9,529.2 1003.3,529.2 1004.8,528.7 1006.2,528.3 1007.7,528.1 1009.2,527.9 1010.6,527.1 1012.1,526.4 1013.6,525.9 1015.0,526.1 1016.5,525.8 1017.9,524.8 1019.4,524.6 1020.9,524.7 1022.3,524.0 1023.8,523.0 1025.2,522.4 1026.7,523.2 1028.2,523.6 1029.6,522.7 1031.1,522.3 1032.6,522.0 1034.0,521.5 1035.5,521.2 1036.9,520.8 1038.4,520.7 1039.9,521.6 1041.3,521.5 1042.8,520.5 1044.3,519.9 1045.7,518.9 1047.2,518.6 1048.6,518.4 1050.1,517.4 1051.6,516.9 1053.0,516.8 1054.5,516.5 1055.9,517.1 1057.4,516.9 1058.9,516.4 1060.4,515.8 1061.8,514.9 1063.4,514.6 1064.9,515.0 1066.4,514.9 1067.9,514.2 1069.5,513.6 1071.0,513.3 1072.6,513.2 1074.2,512.1 1075.8,511.6 1077.3,511.3 1078.9,510.6 1080.5,510.3 1082.1,510.4 1083.6,511.1 1085.2,511.1 1086.8,510.0 1088.4,508.8 1089.9,508.6 1091.5,508.5 1093.1,508.3 1094.6,508.0 1096.2,507.6 1097.7,506.7 1099.2,506.7 1100.7,507.0 1102.2,506.9 1103.7,506.5 1105.2,506.0 1106.6,505.4 1108.1,505.0 1109.5,504.9 1110.9,504.6 1112.3,504.4 1113.7,504.9 1115.0,504.8 1116.3,504.2 1117.6,504.4 1118.9,504.6 1120.2,504.2 1121.4,503.8 1122.6,503.4 1123.7,502.3 1124.9,502.3 1126.0,503.3 1128.2,503.8 1130.3,503.8 1132.2,503.2 1134.1,503.6 1135.9,504.0 1137.6,503.6 1139.2,502.1 1140.8,501.6 1142.3,501.9 1143.7,501.6 1145.1,500.8 1146.4,500.5 1147.7,501.1 1149.0,502.4 1150.3,501.9 1151.5,501.1 1152.8,500.9 1154.0,501.3 1155.3,501.7 1156.5,501.4 1157.8,502.0 1159.1,503.2 1160.4,503.0 1162.0,502.3 1163.5,502.0 1165.1,502.2 1166.6,502.5 1168.2,503.2 1169.7,503.3 1171.2,503.7 1172.7,504.2 1174.2,505.0 1175.7,506.8 1177.1,508.3 1178.5,507.4 1179.8,507.2 1181.1,508.8 1182.4,510.0 1183.6,511.1 1184.8,511.2 1185.9,511.0 1186.9,510.0 1187.9,509.7 1190.0,510.6 1191.6,510.7 1192.8,509.1 1193.8,507.6 1194.7,507.2 1195.7,506.9 1196.8,506.9 1198.2,508.0 1199.1,509.4 1200.1,509.1 1201.2,508.9 1202.2,509.9 1203.3,511.5 1204.4,512.8 1205.6,515.0 1206.7,515.9 1207.9,516.4 1209.0,518.3 1210.2,519.9 1211.4,520.9 1212.5,520.6 1213.6,521.2 1214.8,521.7 1215.9,521.5 1217.0,520.1 1218.1,519.8 1219.2,520.3 1220.3,518.6 1221.4,516.3 1222.5,515.3 1223.7,513.7 1224.9,512.0 1226.2,510.9 1227.6,510.4 1229.1,508.9 1230.1,508.0 1231.2,506.7 1232.4,505.0 1233.6,504.4 1234.8,504.0 1236.1,502.6 1237.4,502.2 1238.7,501.8 1240.1,501.4 1241.4,500.9 1242.8,500.1 1244.1,499.0 1245.4,498.1 1246.6,497.0 1247.9,496.7 1249.0,496.7 1250.2,496.2 1251.2,496.3 1252.2,495.9 1253.1,494.7 1255.0,494.1 1256.5,493.8 1257.7,494.2 1258.7,494.6 1259.6,495.6 1260.7,496.0 1261.9,496.5 1263.4,497.7 1264.6,496.9 1266.0,495.1 1267.4,494.9 1268.9,494.9 1270.5,495.1 1272.1,493.9 1273.7,492.8 1275.2,492.1 1276.7,491.6 1278.2,490.6 1279.4,489.9 1280.6,490.0 1282.1,490.9 1283.3,492.4 1284.3,493.5 1285.2,494.4 1286.1,495.4 1287.0,496.3 1288.0,496.7 1289.2,495.9 1289.9,496.3 1290.7,496.5 1291.5,494.9 1292.3,493.4 1293.2,492.2 1294.0,490.5 1294.9,489.4 1295.8,488.7 1296.6,487.6 1297.5,487.2 1298.5,485.5 1299.4,483.5 1300.3,482.0 1301.2,480.7 1302.5,479.3 1303.8,479.7 1305.2,479.9 1306.6,479.1 1307.9,478.1 1309.3,478.0 1310.7,477.6 1312.1,476.8 1313.5,476.6 1314.9,476.4 1316.3,475.4 1317.6,474.3 1318.9,473.8 1320.2,473.0 1321.5,472.0 1322.9,472.1 1324.2,471.6 1325.6,470.3 1327.1,470.9 1328.6,472.8 1329.9,473.1 1331.2,473.2 1332.6,473.1 1333.9,473.8 1335.3,473.6 1336.8,473.2 1338.2,474.2 1339.7,475.9 1341.2,476.7 1342.7,476.0 1344.2,475.3 1345.8,475.8 1347.0,477.2 1348.2,478.2 1349.5,478.4 1350.8,479.0 1352.1,480.1 1353.4,480.9 1354.8,481.1 1356.1,481.1 1357.4,482.7 1358.8,484.8 1360.1,485.7 1361.4,486.9 1362.7,486.8 1364.0,486.6 1365.2,487.4 1366.4,487.8 1368.0,487.8 1369.6,488.2 1371.1,488.7 1372.7,489.3 1374.2,488.7 1375.7,488.0 1377.2,486.9 1378.6,486.7 1379.9,487.0 1381.2,486.8 1382.5,486.9 1383.6,487.1 1385.2,486.5 1386.5,485.0 1387.6,484.7 1388.6,484.4 1389.7,482.9 1391.0,481.7 1392.8,481.9 1394.0,482.9 1395.3,482.8 1396.7,482.7 1398.2,482.1 1399.8,481.7 1401.4,480.7 1403.1,480.8 1404.7,481.6 1406.3,482.3 1407.9,482.0 1409.3,481.5 1410.7,480.5 1411.9,480.3 1413.4,480.9 1414.7,480.9 1415.8,480.2 1416.8,479.0 1417.7,478.0 1418.7,477.9 1419.8,477.0 1421.1,476.4 1422.6,474.9 1423.7,472.8 1424.8,471.7 1426.1,472.0 1427.3,473.1 1428.6,473.6 1430.0,473.0 1431.3,472.3 1432.8,471.0 1434.2,470.3 1435.7,470.0 1437.2,469.6 1438.7,468.8 1440.2,468.7 1441.7,468.3 1442.8,467.1 1443.9,465.9 1445.0,465.1 1446.2,464.1 1447.4,463.8 1448.6,464.0 1449.9,463.0 1451.1,461.3 1452.3,461.0 1453.6,461.0 1454.8,460.7 1456.1,459.9 1457.3,459.0 1458.5,457.6 1459.7,456.5 1460.8,455.9 1462.0,455.9 1463.1,455.6 1464.2,455.2 1465.2,453.8 1466.7,451.3 1468.2,449.5 1469.6,448.7 1471.0,448.7 1472.3,448.6 1473.6,447.0 1474.9,446.0 1476.1,446.7 1477.3,447.3 1478.6,447.3 1479.8,446.9 1481.0,445.4 1482.2,444.1 1483.6,443.2 1484.8,442.3 1486.0,442.6 1487.1,443.9 1488.2,444.4 1489.3,443.5 1490.5,442.1 1491.9,441.2 1493.4,440.4 1495.1,439.4 1497.1,440.0 1498.2,440.3 1499.3,439.6 1500.5,438.8 1501.8,438.1 1503.1,438.8 1504.5,438.1 1505.9,436.1 1507.4,436.2 1508.8,437.1 1510.4,437.0 1511.9,435.4 1513.4,435.0 1515.0,435.1 1516.5,434.1 1518.0,432.7 1519.5,431.9 1521.0,431.4 1522.5,431.0 1523.9,431.0 1525.2,430.4 1526.6,430.6 1527.8,431.1 1529.0,430.9 1530.7,429.9 1532.4,429.3 1533.9,429.1 1535.4,429.0 1536.9,429.1 1538.3,428.9 1539.6,429.8 1541.0,429.6 1542.3,427.6 1543.6,426.5 1544.9,425.9 1546.2,426.2 1547.5,425.9 1548.9,424.8 1550.3,424.0 1551.7,424.6 1553.1,425.6 1554.6,425.1 1556.0,423.6 1557.4,422.2 1558.8,421.6 1560.2,420.7 1561.7,419.9 1563.1,420.1 1564.5,420.8 1565.9,420.7 1567.3,419.9 1568.8,418.8 1570.2,418.7 1571.6,419.6 1573.0,419.7 1574.5,419.7 1576.0,419.2 1577.5,419.4 1579.0,419.1 1580.5,418.4 1582.0,418.7 1583.5,419.7 1585.0,419.2 1586.4,418.1 1587.8,417.4 1589.2,417.1 1590.5,418.4 1591.7,418.4 1592.9,417.1 1594.7,415.9 1596.4,414.6 1598.0,415.5 1599.4,415.7 1600.8,415.3 1602.1,415.1 1603.3,414.3 1604.5,413.3 1605.7,413.2 1607.2,414.0 1608.4,414.9 1609.4,415.0 1610.6,415.0 1612.1,415.6 1614.2,416.2 1615.3,417.5 1616.5,417.0 1617.8,416.3 1619.2,417.0 1620.7,418.0 1622.2,418.5 1623.8,418.5 1625.4,417.7 1627.0,418.4 1628.6,418.6 1630.1,419.0 1631.6,419.0 1633.0,417.4 1634.3,416.7 1635.5,416.8 1637.3,416.3 1639.0,416.4 1640.6,418.0 1642.0,418.8 1643.4,418.5 1644.7,419.5 1645.9,420.8 1647.1,419.3 1648.3,417.8 1649.7,417.4 1650.8,417.0 1651.7,416.3 1652.7,415.8 1653.8,415.1 1655.1,414.3 1656.8,413.1 1657.9,412.0 1659.2,410.7 1660.7,410.0 1662.3,410.1 1663.9,410.0 1665.5,409.9 1667.2,409.4 1668.8,409.5 1670.4,410.2 1671.8,409.7 1673.0,408.8 1674.1,407.9 1674.9,408.4" fill="none" stroke="#000" stroke-width="4.8" stroke-linejoin="round" stroke-linecap="round"/>
<path d="M172.4,859.9 173.2,859.5 174.0,858.9 174.9,858.6 175.9,859.0 176.9,859.8 177.9,859.7 179.0,858.9 180.2,858.6 181.4,858.8 182.6,858.4 183.9,858.4 185.2,858.8 186.6,859.4 188.0,859.6 189.4,859.6 190.9,859.4 192.4,859.2 193.9,859.7 195.5,860.2 197.1,859.8 198.7,859.7 200.3,859.7 201.9,860.0 203.6,860.1 205.3,860.1 207.0,860.0 208.7,860.1 210.4,859.3 212.1,858.8 213.8,858.8 215.6,859.0 217.3,858.6 219.1,858.6 220.8,859.3 222.5,859.6 224.3,858.7 226.0,857.3 227.7,857.3 229.4,857.6 231.1,857.7 232.8,858.6 234.4,859.3 236.1,858.7 237.7,858.3 239.3,858.7 240.9,858.6 242.4,858.3 243.9,858.0 245.3,858.1 246.8,857.9 248.3,856.9 249.9,857.1 251.4,858.3 253.0,858.4 254.5,857.6 256.1,857.2 257.7,857.2 259.3,857.1 260.9,857.6 262.5,858.4 264.2,858.3 265.8,858.2 267.4,857.8 269.0,857.9 270.7,857.8 272.3,856.8 274.0,856.7 275.6,857.0 277.2,857.5 278.8,857.9 280.5,857.2 282.1,856.2 283.7,856.1 285.3,856.0 286.9,856.4 288.4,857.2 290.0,856.5 291.5,856.3 293.1,856.3 294.6,856.8 296.1,856.7 297.5,856.5 299.0,856.5 300.4,856.5 301.8,855.7 303.2,855.3 304.6,855.7 305.9,856.4 307.2,856.0 308.5,855.5 309.8,856.2 311.0,857.2 312.2,856.8 313.3,856.6 314.5,856.4 315.6,856.0 316.6,855.6 319.1,855.6 321.3,855.4 323.3,855.6 325.2,857.4 326.9,857.6 328.4,857.0 329.9,856.7 331.2,856.9 332.4,857.6 333.6,857.8 334.7,857.8 335.8,857.7 336.8,858.8 337.9,859.7 339.0,859.5 340.1,859.7 341.3,860.0 342.6,860.7 343.9,860.9 345.4,860.5 346.7,860.4 348.1,860.8 349.5,861.0 350.8,861.1 352.2,861.6 353.6,861.8 355.0,861.7 356.4,862.7 357.8,864.2 359.2,864.0 360.7,864.1 362.1,864.7 363.5,863.6 365.0,862.5 366.5,862.7 367.9,863.8 369.4,865.2 370.9,865.6 372.4,865.3 373.9,866.0 375.4,866.1 376.9,866.6 378.4,867.2 379.8,867.3 381.2,867.3 382.7,867.2 384.1,867.1 385.6,867.9 387.1,868.8 388.6,869.5 390.1,870.3 391.6,870.1 393.1,870.0 394.7,870.2 396.2,869.5 397.7,868.5 399.2,868.6 400.8,870.1 402.3,870.6 403.8,870.5 405.3,870.2 406.8,870.6 408.3,871.1 409.8,870.3 411.2,869.4 412.7,869.6 414.1,870.0 415.5,868.7 417.0,867.4 418.5,867.2 420.0,868.0 421.5,868.9 422.9,868.6 424.4,867.7 425.8,867.3 427.3,867.4 428.7,867.3 430.1,866.9 431.6,866.6 433.0,866.6 434.4,866.5 435.8,865.2 437.2,864.9 438.6,864.8 440.0,864.9 441.4,864.6 442.8,864.4 444.2,864.2 445.6,863.9 447.1,863.4 448.5,862.6 449.9,862.7 451.2,862.5 452.5,862.6 453.8,862.9 455.0,862.8 456.2,861.9 457.3,860.0 458.5,859.8 459.6,860.2 460.8,859.6 462.0,859.8 463.2,860.4 464.5,859.7 465.8,858.7 467.2,858.8 468.7,858.8 470.2,858.3 471.8,857.9 473.5,857.5 475.3,857.0 477.2,857.0 479.2,857.0 481.4,857.1 482.5,857.1 483.7,856.9 484.9,857.1 486.1,857.0 487.4,856.9 488.7,856.9 490.1,856.7 491.5,856.5 492.9,856.5 494.3,856.5 495.8,856.3 497.3,855.8 498.8,855.7 500.3,855.6 501.9,855.7 503.5,855.8 505.0,855.8 506.7,855.8 508.3,855.4 509.9,854.9 511.5,855.0 513.2,855.5 514.8,855.5 516.5,855.1 518.2,854.8 519.8,854.9 521.5,854.6 523.1,854.6 524.8,854.6 526.4,854.4 528.1,854.2 529.7,854.2 531.3,854.3 532.9,854.1 534.5,853.8 536.0,853.9 537.6,853.9 539.1,853.8 540.6,853.7 542.0,853.7 543.5,853.6 544.9,853.4 546.3,853.5 547.6,853.5 549.0,853.3 550.3,853.0 551.5,853.1 553.3,853.3 555.2,853.3 556.9,853.2 558.7,853.1 560.4,853.1 562.1,853.2 563.8,853.1 565.5,852.8 567.1,852.6 568.7,852.4 570.2,852.2 571.8,852.2 573.3,852.3 574.8,852.3 576.3,852.3 577.7,852.1 579.1,851.9 580.5,851.9 581.9,851.9 583.3,852.0 584.6,852.0 585.9,852.0 587.2,852.2 588.5,852.3 589.7,852.1 590.9,852.0 592.1,851.8 593.3,851.9 594.5,852.0 595.7,851.8 596.8,851.8 598.8,852.1 600.7,852.5 602.5,852.6 604.3,852.5 605.9,852.5 607.5,852.5 609.1,853.1 610.5,853.5 611.9,853.6 613.2,853.5 614.5,853.8 615.8,854.0 617.0,854.0 618.1,854.4 619.3,854.9 620.4,855.3 621.5,855.5 623.4,855.8 625.1,856.4 626.5,857.0 627.9,857.4 629.1,858.0 630.2,858.7 631.4,859.3 632.6,859.7 633.9,859.7 635.1,859.7 635.9,859.4 636.7,858.8 637.4,858.0 638.3,857.3 639.4,856.9 641.1,856.5 643.3,856.0 646.3,855.6 647.3,855.5 648.3,855.4 649.4,855.2 650.6,855.0 651.8,855.0 653.1,855.1 654.4,855.1 655.8,854.8 657.2,854.7 658.7,854.6 660.2,854.8 661.8,854.7 663.3,854.5 664.9,854.0 666.5,853.9 668.2,854.2 669.8,854.4 671.5,854.2 673.2,853.8 674.9,853.7 676.6,853.5 678.2,853.5 679.9,853.7 681.6,853.8 683.3,853.6 684.9,853.5 686.5,853.6 688.1,853.9 689.7,853.9 691.3,853.4 692.8,853.2 694.3,853.3 695.7,853.5 697.2,853.5 698.8,853.4 700.3,853.1 701.7,853.0 703.2,852.9 704.6,852.8 706.0,852.8 707.4,852.9 708.8,853.3 710.1,853.1 711.5,852.8 712.9,852.8 714.2,853.1 715.6,852.9 717.0,853.0 718.4,853.0 719.8,853.1 721.2,852.9 722.6,852.7 724.0,852.4 725.5,852.3 727.0,852.5 728.5,852.6 730.0,852.5 731.6,852.4 733.2,852.4 734.8,852.6 736.5,852.3 738.2,852.0 740.0,852.0 741.3,852.1 742.5,852.0 743.9,851.7 745.2,851.8 746.5,851.8 747.9,851.9 749.3,852.0 750.7,851.9 752.1,851.6 753.5,851.7 755.0,852.0 756.4,851.9 757.9,851.7 759.4,851.5 760.9,851.5 762.4,851.3 763.9,851.0 765.4,850.9 767.0,851.0 768.5,851.1 770.0,851.0 771.6,850.9 773.1,850.8 774.7,850.7 776.2,850.7 777.8,850.5 779.3,850.2 780.9,850.0 782.4,850.1 784.0,850.1 785.5,850.1 787.0,849.8 788.5,849.5 790.1,849.8 791.6,850.1 793.1,850.0 794.5,849.5 796.0,849.4 797.5,849.3 798.9,849.1 800.4,849.0 801.8,848.9 803.2,848.8 804.8,848.7 806.3,848.7 807.9,848.6 809.5,848.4 811.1,848.3 812.8,848.1 814.4,848.0 816.1,848.2 817.7,848.7 819.4,848.5 821.1,848.2 822.7,847.9 824.4,847.5 826.1,847.4 827.7,847.3 829.4,847.3 831.0,847.2 832.6,846.9 834.2,846.3 835.8,846.3 837.4,846.5 838.9,846.3 840.5,846.3 842.0,846.4 843.4,846.3 844.9,846.3 846.3,846.0 847.7,845.7 849.0,845.3 850.3,845.1 851.6,845.3 852.8,845.4 854.0,845.2 855.2,845.1 856.3,845.3 857.3,845.3 858.3,845.2 859.2,845.2 860.1,845.5 864.0,845.7 866.3,845.9 867.6,846.3 868.2,847.2 868.4,848.2 868.7,849.0 869.5,849.2 871.0,849.7 872.3,850.8 873.5,852.1 874.7,852.7 875.9,852.9 877.0,852.7 878.0,851.9 879.1,850.6 880.1,849.5 881.2,848.9 882.2,848.5 883.4,848.4 884.6,848.4 885.7,848.8 887.0,849.0 888.5,848.7 889.2,848.5 889.4,848.0 889.5,847.2 889.7,846.2 890.4,845.5 891.8,844.8 894.2,843.8 898.0,842.8 898.9,842.4 899.8,842.4 900.8,842.3 901.8,842.0 902.9,841.8 904.0,841.6 905.2,841.6 906.4,841.3 907.7,841.0 909.0,840.9 910.4,840.9 911.7,840.7 913.2,840.3 914.6,840.1 916.1,840.2 917.6,840.3 919.1,839.8 920.7,839.3 922.2,839.2 923.8,838.9 925.4,838.5 927.1,838.5 928.7,838.4 930.3,838.5 932.0,838.5 933.7,838.4 935.3,838.0 937.0,837.6 938.7,837.4 940.4,837.3 942.1,837.2 943.7,836.8 945.4,836.7 947.0,836.7 948.7,836.5 950.3,836.1 951.9,835.9 953.5,835.8 955.1,835.7 956.7,835.5 958.2,835.3 959.7,834.9 961.2,834.6 962.7,834.3 964.2,834.3 965.6,834.4 967.1,834.1 968.6,833.8 970.2,833.6 971.7,833.4 973.2,833.5 974.7,833.7 976.2,833.5 977.8,833.2 979.3,832.8 980.8,832.4 982.3,832.0 983.9,831.9 985.4,831.9 986.9,831.8 988.5,831.6 990.0,831.3 991.5,831.4 993.0,831.4 994.5,831.0 996.1,830.8 997.6,830.6 999.1,830.2 1000.6,829.9 1002.0,829.9 1003.5,829.8 1005.0,829.7 1006.5,829.5 1007.9,829.2 1009.4,828.9 1010.8,828.7 1012.2,828.5 1013.6,828.3 1015.0,828.2 1016.4,827.9 1017.8,827.6 1019.1,827.4 1020.5,827.1 1021.8,827.2 1023.1,827.1 1024.4,826.9 1026.1,826.8 1027.7,826.9 1029.3,826.6 1030.9,826.2 1032.5,825.8 1034.0,825.4 1035.6,825.1 1037.1,824.9 1038.6,824.7 1040.1,824.4 1041.5,824.2 1043.0,824.1 1044.4,823.7 1045.8,823.6 1047.3,823.4 1048.7,823.0 1050.0,822.7 1051.4,822.6 1052.8,822.6 1054.2,822.2 1055.5,821.8 1056.9,821.5 1058.3,821.1 1059.6,820.6 1061.0,820.7 1062.3,820.7 1063.7,820.4 1065.0,819.8 1066.4,819.4 1067.7,819.4 1069.1,819.1 1070.4,818.9 1071.8,818.7 1073.3,818.2 1074.8,817.7 1076.3,817.2 1077.8,816.9 1079.3,816.6 1080.8,816.3 1082.3,815.8 1083.8,815.2 1085.3,814.9 1086.8,814.7 1088.3,814.3 1089.8,813.9 1091.2,813.6 1092.7,813.5 1094.2,813.3 1095.6,812.7 1097.1,812.3 1098.5,811.7 1099.9,811.2 1101.4,810.8 1102.8,810.6 1104.2,810.3 1105.6,810.0 1107.0,809.7 1108.3,809.2 1109.7,808.6 1111.0,808.1 1112.4,807.7 1113.7,807.3 1115.0,807.0 1116.5,806.8 1118.0,806.3 1119.5,805.7 1121.0,805.1 1122.4,804.3 1123.9,803.8 1125.3,803.2 1126.8,802.8 1128.2,802.5 1129.6,802.1 1131.0,801.6 1132.4,801.0 1133.7,800.5 1135.1,800.0 1136.4,799.7 1137.8,799.1 1139.1,798.2 1140.4,797.8 1141.6,797.4 1142.9,796.8 1144.1,796.1 1145.3,795.5 1146.5,794.9 1147.7,794.4 1148.9,793.9 1150.0,793.3 1151.5,792.4 1153.0,791.7 1154.5,791.1 1155.9,790.4 1157.3,789.7 1158.6,788.9 1160.0,788.3 1161.3,787.6 1162.5,786.7 1163.8,786.0 1165.0,785.1 1166.1,784.3 1167.3,783.4 1168.4,782.5 1169.5,781.9 1170.5,781.2 1171.5,780.3 1172.5,779.6 1173.4,778.9 1174.7,777.7 1175.9,776.7 1177.0,775.8 1178.1,774.8 1179.0,773.6 1180.0,772.6 1180.8,771.4 1181.6,770.2 1182.3,769.1 1183.0,767.8 1183.7,766.7 1184.4,765.9 1185.0,765.1 1185.9,763.6 1186.7,762.1 1187.3,760.7 1187.8,759.2 1188.3,757.7 1188.7,756.7 1189.1,755.4 1189.5,754.0 1190.0,752.3 1190.5,750.6 1190.9,749.3 1191.2,748.3 1191.6,747.2 1192.0,746.3 1192.8,745.7 1193.7,746.2 1194.5,748.0 1194.8,748.8 1195.0,749.6 1195.3,750.8 1195.5,752.1 1195.8,753.4 1196.0,754.8 1196.3,756.2 1196.6,757.8 1197.0,759.8 1197.2,760.8 1197.4,762.2 1197.6,764.0 1197.8,765.5 1198.1,766.6 1198.3,767.8 1198.5,769.7 1198.8,771.4 1199.0,772.9 1199.3,774.5 1199.6,776.0 1199.9,777.3 1200.1,778.9 1200.4,780.5 1200.8,781.8 1201.1,783.5 1201.4,785.0 1201.8,786.7 1202.3,788.3 1202.7,789.8 1203.2,791.2 1203.7,792.5 1204.2,793.8 1204.7,795.1 1205.3,796.2 1205.8,797.3 1206.3,798.5 1206.9,799.6 1207.4,801.1 1207.9,802.7 1208.4,803.7 1209.0,805.0 1209.7,806.3 1210.4,807.6 1211.0,809.2 1211.7,810.7 1212.4,812.2 1213.0,813.5 1213.7,814.5 1214.3,815.5 1214.9,816.8 1215.4,817.7 1216.7,819.2 1217.8,820.1 1218.8,820.5 1220.1,820.1 1220.9,819.4 1221.7,818.2 1222.5,817.1 1223.4,815.9 1224.3,815.0 1225.2,813.9 1226.2,812.4 1227.1,810.7 1227.7,809.5 1228.3,808.1 1229.0,806.7 1229.7,805.2 1230.4,803.4 1231.1,801.8 1231.8,800.4 1232.4,798.7 1233.1,797.4 1233.7,796.1 1234.3,794.9 1234.8,793.9 1235.3,793.1 1236.8,790.7 1237.7,790.0 1238.8,790.3 1239.5,790.7 1240.3,791.5 1241.1,792.5 1241.9,793.5 1242.7,794.8 1243.5,796.6 1243.9,797.5 1244.2,798.7 1244.5,800.0 1244.9,801.4 1245.2,803.0 1245.6,804.4 1245.9,806.1 1246.2,807.7 1246.6,809.2 1247.0,810.9 1247.3,812.6 1247.7,814.0 1248.1,815.1 1248.6,816.7 1249.2,818.3 1249.8,819.8 1250.4,821.3 1251.0,822.8 1251.6,824.1 1252.2,825.4 1252.8,826.5 1253.4,827.4 1254.0,827.9 1255.2,829.2 1256.2,829.5 1257.6,828.9 1259.8,826.8 1260.5,826.0 1261.3,825.3 1262.1,824.5 1263.0,823.5 1263.9,822.3 1264.9,821.0 1265.9,820.0 1267.0,819.1 1268.0,818.1 1269.1,816.7 1270.2,815.4 1271.2,814.2 1272.3,813.2 1273.3,812.3 1274.3,810.9 1275.3,809.3 1276.2,807.9 1277.1,806.8 1278.0,805.7 1278.9,804.7 1279.8,803.6 1280.7,802.0 1281.6,800.4 1282.4,799.2 1283.3,798.0 1284.1,797.1 1285.0,795.9 1285.8,794.5 1286.6,793.0 1287.4,791.9 1288.1,790.8 1288.8,789.4 1289.5,788.1 1290.2,787.1 1291.0,785.8 1291.7,784.3 1292.3,782.9 1292.9,781.4 1293.5,779.9 1294.1,778.5 1294.6,777.1 1295.1,775.7 1295.6,774.4 1296.2,773.2 1296.7,772.0 1297.2,770.7 1297.7,769.3 1298.3,768.1 1299.1,766.8 1300.0,765.3 1300.8,763.8 1301.6,762.2 1302.5,760.8 1303.3,759.7 1304.1,758.7 1304.9,758.0 1305.7,757.5 1306.5,757.1 1307.5,756.8 1308.5,756.7 1309.5,757.0 1310.4,758.1 1311.4,759.5 1312.4,761.4 1313.5,763.7 1313.9,764.5 1314.4,765.8 1314.9,767.2 1315.3,768.4 1315.8,769.5 1316.3,770.6 1316.8,771.5 1317.3,772.7 1317.8,774.2 1318.3,775.5 1318.8,777.1 1319.3,778.4 1319.9,779.8 1320.4,781.6 1320.9,783.2 1321.4,784.9 1321.9,786.1 1322.4,787.6 1322.9,789.3 1323.3,790.5 1323.7,791.7 1324.0,793.3 1324.4,794.9 1324.8,796.3 1325.2,797.7 1325.6,799.3 1326.0,801.1 1326.4,802.9 1326.8,804.5 1327.2,806.0 1327.6,807.7 1328.0,809.5 1328.4,810.9 1328.8,812.4 1329.2,813.8 1329.6,815.7 1329.9,817.0 1330.3,818.1 1330.6,819.7 1331.0,821.1 1331.3,822.1 1331.6,823.0 1331.9,823.8 1332.2,824.4 1333.7,827.2 1334.8,827.6 1335.8,826.4 1336.9,824.4 1337.3,823.8 1337.7,822.6 1338.1,821.1 1338.4,819.8 1338.8,818.4 1339.2,816.9 1339.6,815.3 1340.0,813.4 1340.3,811.8 1340.7,810.6 1341.1,809.3 1341.5,807.9 1342.3,805.9 1343.0,804.6 1343.7,803.4 1344.5,802.4 1345.3,801.6 1346.2,801.0 1347.5,800.6 1348.9,800.2 1350.4,800.3 1351.8,800.8 1353.2,801.3 1354.5,801.9 1355.7,802.7 1356.8,803.7 1357.9,804.6 1359.0,804.8 1360.0,804.3 1360.8,803.8 1361.7,803.1 1362.6,801.6 1363.7,799.0 1364.0,798.0 1364.3,796.9 1364.6,795.8 1365.0,794.8 1365.3,793.8 1365.7,792.3 1366.1,790.9 1366.4,789.7 1366.8,788.2 1367.2,786.7 1367.6,785.2 1368.0,783.8 1368.3,782.1 1368.7,780.5 1369.1,778.9 1369.4,777.1 1369.8,775.4 1370.1,773.9 1370.4,772.3 1370.7,770.7 1370.9,769.4 1371.1,768.0 1371.4,766.5 1371.6,765.1 1371.8,763.7 1372.0,762.4 1372.2,760.9 1372.4,759.2 1372.6,757.5 1372.8,756.2 1373.0,754.8 1373.2,752.9 1373.3,751.0 1373.5,749.2 1373.7,747.6 1373.9,746.1 1374.0,744.7 1374.2,743.2 1374.4,741.7 1374.5,740.3 1374.7,738.7 1374.8,737.3 1375.0,736.4 1375.1,735.5 1375.3,734.4 1375.4,733.3 1375.8,730.4 1376.1,728.3 1376.4,726.8 1376.6,725.4 1376.9,724.0 1377.1,723.3 1377.4,722.9 1377.7,722.8 1378.1,722.9 1378.5,723.2 1379.0,723.8 1379.5,725.1 1380.0,727.0 1380.5,729.4 1381.0,732.1 1381.1,733.0 1381.3,734.0 1381.4,735.1 1381.6,735.9 1381.7,737.0 1381.9,738.5 1382.0,740.2 1382.2,741.8 1382.3,743.3 1382.5,744.7 1382.6,746.1 1382.8,747.5 1382.9,749.0 1383.1,750.7 1383.2,752.3 1383.4,754.1 1383.5,755.7 1383.7,757.2 1383.9,758.7 1384.1,760.4 1384.2,762.1 1384.4,763.6 1384.6,765.0 1384.8,766.7 1385.0,768.3 1385.2,769.6 1385.4,771.0 1385.7,772.3 1385.9,773.7 1386.1,775.4 1386.3,776.9 1386.6,778.5 1386.8,780.1 1387.1,781.5 1387.3,782.9 1387.6,784.5 1387.8,785.9 1388.1,787.2 1388.4,788.9 1388.6,790.4 1388.9,791.7 1389.1,793.1 1389.4,794.4 1389.7,795.7 1389.9,797.2 1390.2,798.4 1390.5,799.5 1390.7,801.0 1391.0,802.4 1391.4,804.0 1391.7,805.6 1392.1,807.3 1392.4,809.0 1392.8,810.7 1393.1,812.0 1393.5,813.5 1393.8,815.3 1394.2,816.9 1394.5,818.3 1394.9,819.6 1395.3,820.6 1395.7,821.7 1396.2,823.0 1396.6,824.2 1397.1,825.2 1397.6,826.5 1398.4,828.2 1399.4,829.7 1400.3,831.4 1401.4,832.5 1402.4,833.3 1403.5,834.2 1404.6,835.3 1405.6,836.3 1406.7,836.9 1407.7,837.3 1408.6,837.6 1409.8,837.8 1410.9,837.4 1412.0,836.4 1413.0,835.4 1414.0,834.2 1415.1,833.0 1416.2,832.0 1417.4,830.6 1418.2,829.5 1419.1,828.5 1419.9,827.8 1420.7,826.9 1421.6,825.9 1422.5,824.7 1423.4,823.2 1424.3,822.7 1425.3,821.8 1426.3,819.7 1427.3,818.4 1428.4,817.9 1429.4,817.2 1430.5,815.8 1431.7,815.0 1432.9,814.8 1434.1,813.1 1435.3,811.6 1436.5,811.8 1437.8,811.9 1439.0,811.6 1440.2,811.1 1441.4,810.1 1442.6,807.8 1443.7,806.0 1444.8,805.2 1445.8,805.0 1446.8,803.5 1447.8,801.6 1448.8,800.6 1449.8,800.3 1450.8,799.6 1451.8,798.7 1452.7,797.4 1453.7,796.5 1454.8,795.9 1455.8,795.0 1456.9,794.1 1457.9,793.0 1458.8,792.0 1459.8,791.1 1460.8,790.1 1461.8,789.2 1462.8,788.1 1463.8,786.8 1464.8,785.7 1465.9,784.8 1466.9,783.9 1468.0,782.7 1469.0,781.5 1470.1,780.4 1471.2,779.1 1472.3,777.9 1473.3,776.4 1474.4,775.2 1475.5,774.5 1476.6,773.4 1477.7,773.2 1478.8,773.1 1480.0,771.8 1481.1,770.4 1482.2,769.7 1483.4,768.7 1484.5,767.3 1485.6,766.4 1486.7,765.4 1487.8,764.5 1488.9,763.4 1489.9,762.1 1490.7,762.0 1491.5,761.5 1492.3,759.6 1493.1,757.8 1493.9,756.8 1494.7,755.9 1495.5,754.2 1496.3,753.1 1497.1,752.0 1497.9,749.7 1498.7,747.9 1499.4,746.2 1500.2,744.8 1500.9,743.5 1501.6,742.1 1502.3,741.2 1502.9,740.3 1503.6,739.6 1504.2,738.6 1504.8,737.8 1505.3,737.3 1507.2,735.7 1508.7,736.0 1509.8,737.3 1510.9,738.8 1511.9,739.0 1512.8,738.4 1513.5,737.1 1514.2,735.7 1515.0,734.0 1516.3,732.5 1517.3,732.0 1518.4,731.6 1519.6,731.0 1521.0,730.1 1522.4,729.0 1523.7,728.1 1525.0,727.8 1526.2,727.6 1527.3,726.8 1528.7,726.7 1529.9,728.0 1531.0,729.3 1532.0,729.8 1532.9,730.6 1533.8,732.0 1534.3,733.0 1534.7,734.3 1535.0,736.0 1535.3,738.3 1535.6,740.1 1535.9,741.3 1536.3,742.8 1536.7,744.4 1537.1,745.7 1537.6,747.1 1538.2,748.5 1538.9,749.9 1539.7,752.0 1540.6,753.8 1541.5,754.3 1542.5,755.0 1543.4,755.9 1544.4,757.1 1545.4,758.4 1546.4,759.3 1547.3,759.6 1548.1,759.6 1549.0,759.8 1549.9,759.4 1550.7,758.7 1551.5,757.5 1552.3,756.1 1553.1,754.3 1553.9,752.5 1554.8,751.5 1555.8,749.8 1556.5,748.9 1557.2,747.8 1557.9,746.0 1558.6,744.5 1559.4,743.6 1560.2,742.2 1561.0,741.0 1561.8,739.9 1562.6,738.1 1563.4,736.3 1564.2,735.3 1565.1,734.5 1565.9,733.2 1566.8,731.9 1567.6,730.1 1568.5,728.5 1569.4,727.1 1570.4,726.4 1571.3,725.9 1572.3,724.5 1573.3,722.6 1574.2,721.2 1575.2,720.4 1576.1,718.9 1577.0,717.6 1577.8,717.0 1578.6,715.7 1579.3,715.2 1580.0,715.1 1581.9,714.5 1583.3,715.0 1584.4,715.5 1585.5,716.0 1586.4,717.1 1587.2,718.2 1588.0,718.7 1588.8,719.4 1589.9,719.2 1590.6,718.6 1591.4,718.6 1592.2,717.9 1593.0,716.4 1593.9,714.6 1594.8,713.4 1595.8,712.4 1596.7,710.8 1597.6,709.1 1598.5,707.7 1599.4,707.0 1600.3,706.4 1601.2,705.5 1602.1,705.2 1603.1,704.2 1604.1,702.1 1605.2,700.0 1606.4,699.2 1607.4,698.8 1608.4,697.3 1609.5,696.0 1610.7,695.6 1611.9,695.0 1613.1,692.9 1614.3,691.0 1615.5,690.7 1616.7,690.3 1617.7,689.6 1618.7,688.9 1619.6,688.4 1620.9,688.6 1622.0,689.9 1623.0,691.3 1623.9,692.9 1624.7,694.4 1625.4,696.0 1626.2,696.1 1626.8,695.3 1627.3,694.1 1627.7,692.5 1628.1,691.1 1628.5,690.1 1629.0,688.9 1629.7,687.7 1630.5,686.8 1631.6,686.2 1632.9,686.7 1634.3,687.6 1635.9,687.5 1637.4,687.4 1638.9,688.1 1640.3,688.5 1641.5,688.3 1642.4,687.6 1643.2,686.7 1643.9,686.1 1644.6,685.2 1645.3,684.0 1645.9,682.2 1646.6,680.6 1647.3,679.5 1648.1,678.1 1648.6,676.6 1649.1,675.8 1649.6,674.7 1650.2,673.3 1650.8,671.5 1651.3,670.0 1651.9,668.7 1652.5,667.3 1653.1,665.1 1653.7,662.9 1654.2,661.1 1654.8,659.5 1655.4,657.9 1655.9,656.7 1656.4,655.7 1656.9,654.5 1657.8,652.0 1658.8,650.3 1659.6,649.2 1660.5,647.6 1661.3,646.3 1662.1,645.2 1662.8,644.3 1663.5,644.5 1664.4,645.3 1665.1,646.4 1665.8,646.9 1666.5,648.7 1667.2,651.1 1667.9,652.6 1668.3,653.4 1668.6,655.4 1669.0,656.9 1669.4,657.8 1669.8,659.2 1670.2,661.0 1670.5,662.9 1670.9,664.4 1671.3,665.8 1671.6,667.6 1672.0,669.1 1672.3,670.1 1673.1,672.5 1673.9,673.9 1674.6,675.1 1675.2,676.0 1675.6,676.6" fill="none" stroke="#0a24ff" stroke-width="5.6" stroke-linejoin="round" stroke-linecap="round"/>
<path d="M172.4,1128.0 173.2,1127.8 174.0,1127.5 174.9,1127.5 175.9,1127.6 176.9,1128.0 177.9,1128.1 179.0,1127.9 180.2,1127.7 181.4,1128.0 182.6,1128.0 183.9,1128.1 185.2,1127.7 186.6,1127.1 188.0,1127.1 189.4,1127.0 190.9,1127.3 192.4,1127.5 193.9,1127.4 195.5,1127.0 197.1,1126.4 198.7,1126.5 200.3,1126.8 201.9,1126.8 203.6,1126.4 205.3,1126.5 207.0,1126.2 208.7,1125.6 210.4,1125.6 212.1,1125.8 213.8,1125.4 215.6,1125.5 217.3,1126.0 219.1,1126.0 220.8,1125.7 222.5,1125.6 224.3,1125.4 226.0,1125.3 227.7,1125.3 229.4,1125.7 231.1,1125.8 232.8,1125.3 234.4,1125.0 236.1,1124.8 237.7,1124.6 239.3,1125.0 240.9,1125.1 242.4,1124.9 243.8,1125.0 245.3,1125.0 246.8,1125.3 248.3,1125.3 249.8,1124.5 251.3,1123.9 252.8,1124.0 254.3,1123.8 255.8,1123.8 257.4,1124.4 258.9,1124.8 260.5,1124.4 262.0,1123.9 263.6,1123.4 265.1,1123.4 266.7,1123.5 268.3,1123.8 269.8,1123.7 271.4,1123.6 273.0,1123.6 274.5,1123.7 276.1,1123.9 277.7,1123.8 279.2,1123.5 280.8,1123.5 282.3,1123.8 283.9,1123.9 285.4,1123.7 287.0,1123.5 288.5,1123.0 290.0,1122.6 291.5,1122.4 293.0,1122.6 294.5,1122.3 296.0,1122.2 297.5,1122.5 299.0,1122.3 300.4,1122.2 301.9,1122.5 303.3,1122.5 304.7,1122.5 306.1,1122.4 307.5,1122.6 308.8,1122.8 310.2,1122.7 311.5,1122.8 312.8,1122.4 314.1,1122.2 315.4,1122.4 316.6,1122.5 318.4,1122.2 320.2,1122.1 321.9,1122.4 323.6,1122.6 325.3,1122.1 326.9,1121.8 328.5,1122.1 330.1,1122.4 331.7,1122.3 333.2,1122.2 334.7,1122.0 336.2,1122.5 337.7,1122.9 339.1,1123.2 340.5,1123.4 342.0,1123.4 343.4,1123.1 344.7,1123.2 346.1,1122.9 347.5,1123.3 348.8,1124.0 350.2,1123.9 351.5,1123.4 352.8,1123.7 354.1,1123.7 355.5,1123.7 356.8,1124.1 358.1,1124.5 359.4,1124.6 360.7,1124.1 362.0,1124.2 363.3,1124.3 364.7,1124.4 366.0,1125.3 367.6,1125.8 369.1,1125.4 370.6,1125.5 372.1,1125.7 373.5,1125.8 374.9,1126.0 376.3,1126.3 377.6,1126.5 379.0,1127.1 380.3,1127.6 381.6,1127.8 382.9,1127.1 384.2,1127.0 385.6,1127.1 386.9,1127.6 388.2,1127.9 389.6,1127.6 391.0,1127.3 392.4,1127.5 393.9,1128.4 395.3,1129.2 396.9,1129.2 398.5,1128.7 400.1,1128.3 401.8,1128.2 403.5,1127.9 405.3,1128.0 407.2,1128.6 408.4,1128.5 409.6,1128.4 410.9,1128.4 412.2,1128.7 413.5,1128.5 414.8,1127.6 416.2,1127.2 417.6,1127.3 418.9,1127.7 420.4,1127.6 421.8,1127.2 423.2,1127.3 424.7,1126.5 426.2,1125.4 427.7,1124.9 429.2,1125.3 430.7,1125.3 432.2,1125.0 433.7,1125.0 435.3,1125.0 436.8,1124.6 438.4,1124.5 439.9,1124.5 441.5,1123.8 443.1,1123.2 444.6,1123.1 446.2,1123.2 447.8,1123.1 449.3,1122.1 450.9,1121.4 452.5,1121.5 454.0,1121.4 455.5,1121.1 457.1,1121.0 458.6,1120.9 460.1,1120.6 461.6,1119.8 463.1,1119.4 464.6,1119.4 466.1,1119.4 467.6,1119.6 469.0,1119.4 470.4,1119.1 471.8,1119.2 473.2,1119.1 474.8,1118.9 476.3,1118.6 477.9,1118.2 479.4,1118.0 480.9,1117.8 482.5,1117.6 483.9,1117.7 485.4,1117.9 486.9,1117.7 488.4,1117.6 489.8,1117.8 491.3,1117.6 492.7,1117.6 494.2,1117.7 495.6,1117.6 497.1,1117.3 498.5,1117.3 499.9,1117.4 501.3,1117.5 502.8,1117.5 504.2,1117.4 505.6,1117.5 507.1,1117.7 508.5,1117.6 509.9,1117.4 511.4,1117.2 512.8,1117.2 514.3,1117.1 515.7,1117.3 517.2,1117.2 518.7,1117.0 520.2,1116.9 521.7,1117.0 523.2,1117.1 524.7,1117.0 526.2,1116.9 527.8,1116.9 529.3,1116.8 530.9,1116.9 532.3,1117.0 533.8,1117.1 535.2,1116.9 536.7,1116.8 538.2,1117.0 539.7,1116.9 541.2,1116.6 542.8,1116.6 544.3,1116.3 545.9,1116.1 547.5,1116.1 549.1,1116.4 550.7,1116.2 552.3,1116.0 553.9,1115.9 555.5,1115.8 557.1,1115.8 558.7,1115.9 560.3,1115.9 561.9,1115.6 563.5,1115.7 565.1,1115.4 566.7,1115.1 568.3,1115.3 569.9,1115.5 571.5,1115.4 573.1,1115.1 574.6,1114.8 576.2,1114.5 577.7,1114.7 579.2,1114.7 580.7,1114.5 582.2,1114.5 583.6,1114.6 585.0,1114.8 586.5,1114.4 587.8,1114.1 589.2,1114.0 590.6,1114.2 591.9,1114.4 593.1,1114.4 594.4,1114.4 595.6,1114.5 596.8,1114.6 598.8,1114.7 600.7,1114.5 602.6,1114.4 604.3,1114.6 606.0,1114.8 607.6,1115.2 609.2,1115.3 610.7,1115.5 612.1,1115.6 613.5,1115.7 614.9,1116.1 616.2,1116.6 617.6,1116.7 618.9,1116.9 620.1,1117.2 621.4,1117.3 622.7,1117.6 624.0,1117.9 625.3,1118.0 626.7,1118.2 628.0,1118.2 629.4,1118.2 630.9,1118.4 632.4,1118.9 633.9,1119.0 635.3,1118.8 636.7,1118.8 638.0,1118.8 639.4,1118.6 640.7,1118.2 642.0,1117.8 643.4,1117.7 644.7,1117.9 646.0,1118.1 647.3,1118.0 648.7,1117.5 650.0,1117.3 651.4,1117.4 652.8,1117.3 654.2,1116.7 655.6,1116.5 657.0,1116.3 658.5,1116.0 660.0,1115.8 661.5,1115.6 663.0,1115.3 664.6,1115.0 666.3,1115.1 667.9,1115.1 669.7,1115.1 671.4,1114.9 673.2,1114.7 675.1,1114.6 676.3,1114.7 677.6,1114.4 678.8,1114.4 680.1,1114.4 681.4,1114.1 682.8,1113.8 684.1,1113.8 685.5,1113.8 686.9,1113.9 688.3,1113.9 689.7,1114.1 691.1,1114.1 692.6,1113.9 694.1,1113.9 695.5,1114.0 697.0,1114.2 698.5,1114.1 700.0,1113.8 701.6,1113.7 703.1,1113.8 704.6,1113.6 706.2,1113.6 707.7,1113.6 709.3,1113.5 710.8,1113.4 712.4,1113.3 714.0,1113.3 715.5,1113.5 717.1,1113.4 718.7,1113.4 720.2,1113.4 721.8,1113.4 723.3,1113.4 724.9,1113.3 726.4,1113.2 728.0,1113.1 729.5,1112.8 731.0,1112.7 732.6,1112.7 734.1,1112.6 735.6,1112.5 737.1,1112.7 738.5,1112.9 740.0,1112.8 741.5,1112.6 743.0,1112.6 744.5,1112.8 746.0,1112.8 747.4,1112.3 748.9,1112.1 750.4,1112.0 751.9,1112.1 753.4,1112.0 754.9,1111.9 756.4,1111.9 757.9,1111.6 759.3,1111.0 760.8,1111.0 762.3,1111.2 763.8,1111.1 765.3,1111.2 766.7,1111.2 768.2,1110.8 769.7,1110.7 771.2,1110.9 772.6,1111.0 774.1,1110.9 775.6,1110.5 777.1,1110.2 778.5,1110.1 780.0,1110.0 781.5,1109.8 782.9,1109.8 784.4,1109.6 785.8,1109.6 787.3,1109.7 788.8,1109.6 790.2,1109.5 791.7,1109.1 793.1,1108.8 794.6,1108.5 796.0,1108.6 797.5,1108.7 798.9,1108.4 800.3,1108.0 801.8,1108.2 803.2,1107.9 804.7,1107.7 806.3,1107.5 807.8,1107.4 809.4,1107.6 811.0,1107.5 812.6,1107.1 814.2,1106.9 815.8,1106.6 817.5,1106.3 819.1,1106.0 820.8,1105.7 822.4,1105.6 824.1,1105.6 825.7,1105.6 827.4,1105.2 829.0,1105.1 830.7,1105.0 832.3,1104.6 833.9,1104.4 835.6,1104.5 837.2,1104.3 838.7,1103.8 840.3,1103.5 841.8,1103.5 843.4,1103.4 844.9,1103.0 846.3,1102.8 847.8,1102.7 849.2,1102.3 850.6,1102.3 851.9,1102.3 853.3,1102.1 854.5,1101.8 855.8,1101.6 857.0,1101.6 858.1,1101.5 859.2,1101.5 860.3,1101.6 861.3,1101.6 862.3,1101.8 863.2,1101.8 866.4,1102.1 868.9,1102.7 870.7,1103.2 872.0,1104.1 872.9,1105.5 873.6,1106.7 874.1,1107.6 874.5,1108.4 875.1,1109.3 875.9,1109.5 877.2,1109.3 878.1,1108.8 878.9,1108.0 879.6,1106.3 880.7,1104.8 882.2,1103.9 883.0,1103.4 883.7,1102.9 884.4,1102.7 885.0,1102.4 885.7,1102.1 886.5,1101.7 887.6,1101.4 888.9,1100.9 890.5,1100.3 892.5,1099.9 895.0,1099.5 898.0,1098.6 898.9,1098.1 899.9,1098.0 901.0,1098.0 902.1,1097.9 903.2,1097.7 904.4,1097.5 905.6,1097.2 906.8,1096.9 908.1,1096.7 909.5,1096.5 910.8,1096.3 912.2,1096.0 913.6,1095.6 915.1,1095.3 916.5,1095.3 918.0,1095.1 919.6,1094.9 921.1,1094.7 922.7,1094.6 924.2,1094.4 925.8,1094.0 927.4,1093.8 929.1,1093.1 930.7,1092.8 932.3,1092.8 934.0,1092.6 935.6,1092.3 937.3,1092.1 938.9,1091.7 940.6,1091.4 942.2,1091.4 943.9,1091.4 945.5,1091.2 947.2,1090.9 948.8,1090.7 950.4,1090.4 952.0,1089.9 953.6,1089.9 955.1,1090.1 956.7,1090.0 958.2,1089.8 959.7,1089.5 961.2,1089.2 962.7,1088.7 964.1,1088.1 965.6,1088.1 967.1,1088.2 968.6,1088.1 970.1,1087.8 971.6,1087.5 973.1,1087.4 974.6,1087.1 976.1,1087.0 977.6,1086.9 979.1,1086.6 980.6,1086.3 982.1,1085.8 983.6,1085.7 985.1,1085.8 986.6,1085.8 988.1,1085.4 989.6,1085.1 991.1,1085.0 992.6,1084.9 994.1,1084.6 995.6,1084.5 997.1,1084.4 998.6,1084.2 1000.1,1084.0 1001.6,1084.0 1003.1,1083.9 1004.5,1083.6 1006.0,1083.1 1007.5,1082.8 1008.9,1082.8 1010.4,1082.8 1011.8,1082.7 1013.2,1082.5 1014.7,1082.1 1016.1,1081.9 1017.5,1081.8 1018.9,1082.1 1020.3,1082.0 1021.7,1081.7 1023.0,1081.6 1024.4,1081.5 1026.0,1081.2 1027.6,1081.1 1029.1,1080.8 1030.7,1080.1 1032.3,1079.9 1033.8,1079.7 1035.4,1079.3 1036.9,1078.9 1038.5,1078.9 1040.0,1078.9 1041.6,1078.6 1043.1,1078.5 1044.6,1078.2 1046.2,1077.9 1047.7,1077.6 1049.2,1077.4 1050.7,1077.3 1052.2,1077.2 1053.6,1076.9 1055.1,1076.8 1056.6,1076.6 1058.0,1076.5 1059.4,1076.5 1060.9,1076.1 1062.3,1075.8 1063.7,1075.7 1065.0,1075.5 1066.4,1075.3 1067.8,1075.3 1069.1,1074.9 1070.5,1074.5 1071.8,1074.2 1073.1,1074.1 1074.3,1074.1 1075.6,1073.9 1076.9,1073.5 1078.1,1073.1 1079.8,1072.6 1081.5,1072.2 1083.1,1072.3 1084.7,1072.0 1086.3,1071.5 1087.8,1071.1 1089.3,1070.7 1090.8,1070.6 1092.2,1070.1 1093.6,1069.7 1095.0,1069.5 1096.4,1068.9 1097.7,1068.5 1099.1,1068.0 1100.4,1067.6 1101.7,1067.2 1103.0,1067.0 1104.3,1066.9 1105.6,1066.5 1107.0,1066.0 1108.3,1065.8 1109.6,1065.3 1110.9,1064.7 1112.3,1064.3 1113.6,1063.9 1115.0,1063.7 1116.4,1063.1 1117.9,1062.6 1119.3,1062.4 1120.8,1061.9 1122.3,1061.5 1123.7,1061.0 1125.2,1060.7 1126.7,1060.3 1128.1,1059.7 1129.6,1059.5 1131.0,1059.3 1132.5,1059.3 1133.9,1059.1 1135.3,1058.5 1136.8,1058.1 1138.2,1057.7 1139.6,1057.2 1140.9,1056.4 1142.3,1055.9 1143.6,1055.6 1144.9,1055.3 1146.2,1055.0 1147.5,1054.8 1148.8,1054.4 1150.0,1054.3 1151.7,1053.9 1153.4,1053.3 1155.0,1052.7 1156.6,1052.2 1158.3,1051.6 1159.9,1051.0 1161.4,1050.5 1163.0,1050.3 1164.5,1050.0 1165.9,1049.4 1167.3,1048.8 1168.7,1048.2 1170.0,1047.9 1171.3,1047.6 1172.5,1047.1 1173.6,1046.6 1174.7,1046.0 1175.7,1045.6 1177.7,1045.0 1179.3,1044.4 1180.5,1043.4 1181.6,1042.5 1182.5,1041.9 1183.3,1041.4 1184.2,1041.0 1185.1,1040.3 1186.4,1038.9 1187.6,1037.5 1188.7,1036.4 1189.7,1035.5 1190.7,1034.9 1191.6,1035.0 1192.2,1035.5 1192.8,1036.2 1193.3,1037.3 1193.8,1038.6 1194.2,1040.0 1194.7,1041.7 1195.1,1043.4 1195.6,1045.0 1195.9,1046.1 1196.2,1047.1 1196.4,1048.3 1196.7,1049.6 1196.9,1051.1 1197.2,1052.9 1197.4,1054.7 1197.7,1056.1 1198.0,1057.3 1198.3,1058.4 1198.7,1059.7 1199.1,1060.9 1199.7,1062.5 1200.4,1064.0 1201.2,1065.1 1202.0,1066.3 1202.8,1067.3 1203.6,1068.3 1204.5,1069.3 1205.3,1070.4 1206.1,1071.4 1207.0,1072.4 1207.8,1073.9 1208.7,1075.5 1209.6,1076.9 1210.5,1077.8 1211.3,1079.2 1212.2,1080.5 1213.1,1081.4 1214.5,1082.2 1215.9,1082.7 1217.3,1082.9 1218.7,1082.5 1220.1,1081.6 1220.9,1080.8 1221.7,1079.9 1222.4,1078.8 1223.2,1077.1 1224.0,1075.7 1224.8,1074.6 1225.5,1073.3 1226.3,1071.9 1227.1,1070.5 1228.0,1069.2 1228.9,1067.7 1229.8,1066.2 1230.7,1064.9 1231.6,1063.8 1232.5,1062.7 1233.3,1061.8 1234.1,1061.3 1235.4,1060.4 1236.6,1059.9 1237.7,1060.1 1238.8,1060.8 1239.6,1061.4 1240.4,1062.3 1241.2,1063.5 1241.9,1064.8 1242.7,1066.2 1243.5,1067.6 1244.0,1069.2 1244.5,1070.6 1245.1,1071.8 1245.6,1073.2 1246.1,1074.8 1246.6,1076.3 1247.1,1077.8 1247.6,1078.7 1248.1,1079.4 1248.8,1081.1 1249.3,1083.0 1249.9,1084.5 1250.8,1084.9 1252.3,1084.6 1253.0,1084.1 1253.7,1083.4 1254.5,1082.5 1255.4,1081.1 1256.4,1079.9 1257.4,1079.1 1258.4,1078.1 1259.5,1076.8 1260.5,1075.3 1261.6,1073.9 1262.7,1072.7 1263.8,1071.5 1264.8,1070.4 1265.8,1069.1 1266.8,1067.9 1267.8,1067.0 1268.8,1066.1 1269.9,1065.0 1270.9,1063.7 1271.9,1062.6 1273.0,1061.8 1274.0,1060.8 1275.0,1059.9 1276.0,1059.1 1277.0,1058.2 1278.0,1057.1 1278.9,1056.0 1279.9,1055.1 1280.8,1054.0 1281.9,1052.8 1282.9,1051.6 1284.0,1050.2 1285.0,1049.1 1286.1,1048.1 1287.1,1046.9 1288.1,1045.7 1289.0,1044.9 1290.0,1043.8 1290.8,1042.9 1291.7,1042.1 1292.5,1041.1 1294.2,1039.8 1295.6,1039.4 1296.9,1039.4 1298.2,1039.3 1299.5,1039.2 1300.9,1038.5 1302.3,1037.6 1303.7,1036.9 1305.1,1036.3 1306.5,1036.3 1307.4,1036.8 1308.2,1037.6 1309.1,1038.5 1310.0,1039.6 1310.9,1040.8 1311.8,1042.1 1312.6,1043.6 1313.5,1045.2 1314.2,1046.4 1314.9,1047.3 1315.6,1048.0 1316.3,1048.9 1317.0,1050.4 1317.7,1051.7 1318.4,1052.8 1319.1,1053.8 1319.8,1055.1 1320.5,1056.6 1321.1,1057.9 1321.7,1059.3 1322.3,1060.5 1322.9,1061.9 1323.5,1063.6 1324.1,1065.0 1324.7,1066.5 1325.3,1068.0 1325.9,1069.4 1326.5,1070.7 1327.0,1071.7 1327.5,1072.7 1328.3,1074.4 1329.0,1075.9 1329.7,1077.7 1330.3,1079.4 1330.9,1080.8 1331.5,1081.7 1332.2,1082.0 1333.1,1082.0 1334.1,1081.7 1335.0,1080.8 1336.0,1079.4 1336.9,1077.5 1337.3,1076.5 1337.7,1075.3 1338.1,1073.9 1338.4,1072.5 1338.8,1071.1 1339.2,1069.6 1339.6,1067.9 1340.0,1066.4 1340.3,1064.7 1340.7,1063.2 1341.1,1062.0 1341.5,1061.0 1342.4,1059.4 1343.3,1058.3 1344.1,1057.5 1345.1,1057.0 1346.2,1056.7 1347.5,1056.5 1348.9,1056.2 1350.5,1056.0 1351.9,1056.5 1353.2,1057.1 1354.5,1057.8 1355.5,1058.7 1356.6,1059.1 1357.9,1058.8 1358.7,1058.4 1359.5,1057.4 1360.4,1056.2 1361.3,1055.2 1362.2,1054.4 1363.1,1052.8 1364.0,1051.0 1364.9,1049.4 1365.4,1048.4 1365.9,1047.0 1366.3,1045.9 1366.8,1044.6 1367.3,1043.3 1367.8,1041.8 1368.3,1040.2 1368.8,1038.8 1369.3,1037.0 1369.7,1035.4 1370.2,1034.0 1370.6,1032.4 1371.1,1030.9 1371.5,1029.7 1371.9,1028.2 1372.4,1026.4 1372.9,1024.9 1373.4,1023.2 1373.8,1021.4 1374.3,1019.8 1374.7,1018.2 1375.1,1016.8 1375.5,1015.4 1375.8,1014.4 1376.2,1013.6 1376.6,1013.3 1377.3,1013.0 1377.9,1013.4 1378.4,1014.6 1379.0,1016.4 1379.5,1018.7 1380.1,1021.3 1380.3,1022.4 1380.4,1023.4 1380.6,1024.5 1380.7,1025.8 1380.9,1027.2 1381.0,1028.8 1381.1,1030.4 1381.3,1031.9 1381.4,1033.3 1381.6,1035.1 1381.7,1037.2 1381.9,1038.8 1382.1,1040.2 1382.3,1041.8 1382.5,1043.5 1382.7,1045.3 1383.0,1046.8 1383.3,1048.1 1383.6,1049.4 1384.0,1050.9 1384.4,1052.6 1384.9,1054.2 1385.4,1055.5 1385.9,1056.9 1386.4,1058.2 1387.0,1059.5 1387.5,1060.9 1388.1,1062.6 1388.7,1064.5 1389.3,1066.0 1389.9,1067.1 1390.5,1068.3 1391.1,1069.4 1391.7,1070.3 1392.3,1071.3 1392.9,1072.5 1393.8,1074.1 1394.7,1075.5 1395.6,1077.2 1396.6,1078.9 1397.5,1080.0 1398.4,1081.0 1399.4,1082.1 1400.3,1083.2 1401.2,1084.0 1402.1,1084.5 1403.0,1084.7 1404.3,1084.8 1405.6,1084.7 1406.9,1084.5 1408.1,1083.9 1409.4,1083.0 1410.7,1082.1 1412.0,1081.3 1412.8,1080.4 1413.6,1079.3 1414.3,1078.4 1415.1,1077.5 1415.8,1076.3 1416.6,1075.1 1417.5,1074.3 1418.4,1073.4 1419.4,1071.8 1420.5,1070.4 1421.8,1069.0 1422.7,1068.0 1423.6,1067.5 1424.6,1066.8 1425.6,1066.4 1426.7,1066.0 1427.8,1065.4 1428.9,1063.9 1430.1,1062.8 1431.3,1062.5 1432.5,1061.9 1433.7,1060.6 1434.9,1059.4 1436.1,1058.5 1437.2,1057.4 1438.4,1055.9 1439.4,1054.7 1440.5,1053.9 1441.5,1053.2 1442.6,1052.3 1443.7,1050.9 1444.8,1049.8 1445.8,1049.1 1446.8,1048.2 1447.8,1047.0 1448.7,1046.0 1449.7,1045.7 1450.6,1044.3 1451.6,1042.9 1452.6,1041.8 1453.6,1041.3 1454.7,1040.6 1455.8,1039.3 1456.9,1038.1 1457.9,1037.6 1458.9,1037.4 1460.0,1036.1 1461.1,1034.6 1462.2,1033.8 1463.3,1033.1 1464.5,1031.9 1465.6,1030.7 1466.8,1029.6 1468.0,1028.5 1469.1,1027.9 1470.3,1027.2 1471.4,1025.7 1472.5,1024.1 1473.6,1022.9 1474.7,1022.1 1475.7,1021.1 1476.7,1020.4 1477.9,1019.9 1479.1,1019.1 1480.3,1018.3 1481.5,1017.1 1482.6,1016.0 1483.7,1015.3 1484.7,1014.6 1485.8,1013.5 1486.9,1012.0 1487.9,1011.0 1489.0,1010.7 1490.0,1010.3 1491.0,1009.0 1492.1,1007.3 1493.3,1006.4 1494.4,1005.5 1495.7,1004.0 1496.9,1002.9 1498.1,1002.1 1499.3,1001.0 1500.5,1000.2 1501.6,999.3 1502.7,997.9 1503.7,996.7 1504.7,996.6 1505.6,996.0 1506.4,994.9 1507.8,994.5 1508.9,995.6 1509.8,997.7 1510.5,999.1 1511.1,1000.5 1511.9,1001.4 1512.8,1001.2 1513.5,999.9 1514.2,998.5 1515.1,997.6 1516.3,996.8 1517.5,995.8 1518.9,994.9 1520.4,994.4 1522.0,994.5 1523.5,994.2 1525.0,994.4 1526.2,994.8 1527.3,995.3 1528.3,995.9 1529.1,996.4 1529.9,997.6 1530.7,998.8 1531.6,1000.3 1532.3,1001.7 1532.9,1003.7 1533.6,1004.8 1534.3,1005.9 1535.0,1007.1 1535.7,1008.8 1536.5,1009.7 1537.3,1010.4 1538.2,1011.1 1539.3,1011.5 1540.5,1012.5 1541.9,1014.0 1543.2,1014.9 1544.6,1016.1 1545.9,1017.2 1547.1,1017.2 1548.1,1017.3 1548.9,1016.3 1549.6,1014.9 1550.1,1014.4 1550.7,1013.6 1551.2,1011.9 1551.7,1009.8 1552.2,1008.2 1552.9,1007.6 1553.6,1006.9 1554.3,1005.6 1555.0,1003.5 1555.7,1002.1 1556.5,1001.1 1557.3,1000.2 1558.1,998.8 1558.9,997.3 1559.8,995.3 1560.6,993.2 1561.5,992.4 1562.4,991.8 1563.3,990.9 1564.3,990.5 1565.3,989.1 1566.3,988.2 1567.4,987.5 1568.4,986.2 1569.5,984.5 1570.5,983.8 1571.5,983.6 1572.5,982.7 1573.4,981.6 1574.8,980.0 1576.2,979.8 1577.5,979.5 1578.8,978.7 1580.0,977.8 1581.1,977.8 1582.2,978.0 1583.4,978.3 1584.4,979.3 1585.3,981.0 1586.4,981.7 1587.7,981.4 1588.6,980.8 1589.6,979.5 1590.6,978.9 1591.7,978.4 1592.9,977.0 1594.1,975.4 1595.2,974.2 1596.4,972.9 1597.6,971.6 1598.8,970.7 1600.0,970.1 1601.2,969.4 1602.4,968.5 1603.7,967.5 1604.9,967.0 1606.1,966.5 1607.4,965.5 1608.6,965.0 1609.8,963.6 1611.1,962.3 1612.4,961.3 1613.7,960.2 1615.0,959.2 1616.3,958.8 1617.5,958.6 1618.6,958.6 1619.6,959.0 1620.9,959.0 1621.9,959.5 1622.8,960.8 1623.7,962.3 1624.8,963.3 1626.2,963.6 1627.2,963.7 1628.2,963.3 1629.4,962.2 1630.6,961.7 1631.8,961.0 1633.1,960.0 1634.4,959.0 1635.7,958.4 1637.0,957.5 1638.2,956.1 1639.3,954.8 1640.2,953.8 1641.1,952.3 1642.0,951.0 1642.8,950.4 1643.7,948.9 1644.5,947.0 1645.3,945.9 1646.2,945.2 1647.0,944.2 1647.8,942.5 1648.6,940.9 1649.5,939.5 1650.3,938.5 1651.4,937.6 1652.6,936.5 1653.7,935.4 1654.9,934.2 1656.1,933.2 1657.2,932.0 1658.3,931.0 1659.4,930.3 1660.4,930.1 1661.3,930.3 1662.5,930.0 1663.5,930.6 1664.5,932.1 1665.4,933.8 1666.2,935.3 1667.1,937.0 1667.9,937.7 1668.9,938.9 1669.9,940.5 1670.9,941.8 1671.8,942.8 1672.6,944.3 1673.4,945.0 1674.5,944.1 1675.4,942.6 1676.2,941.4 1676.7,940.6" fill="none" stroke="#ff0010" stroke-width="5.6" stroke-linejoin="round" stroke-linecap="round"/>
<text transform="translate(251.72,171.04) scale(0.9400,1)" font-size="76.0">GO</text>
<text transform="translate(222.35,601.64) scale(0.9400,1)" font-size="76.0">RGO</text>
<text transform="translate(230.48,823.80) scale(0.9400,1)" font-size="76.0">PANI</text>
<text transform="translate(190.00,1070.84) scale(0.9400,1)" font-size="76.0">RGO-PANI</text>
<text transform="translate(366.99,494.63) scale(0.9250,1)" font-size="47.0">3410</text>
<text transform="translate(367.23,540.63) scale(0.9250,1)" font-size="47.0">-OH</text>
<text transform="translate(1075.93,265.23) scale(0.9250,1)" font-size="47.0">1728</text>
<text transform="translate(1067.88,307.03) scale(0.9250,1)" font-size="47.0">C=O</text>
<text transform="translate(1154.69,325.73) scale(0.9250,1)" font-size="47.0">1621</text>
<text transform="translate(1254.13,314.73) scale(0.9250,1)" font-size="47.0">-OH</text>
<text transform="translate(1242.43,268.53) scale(0.9250,1)" font-size="47.0">1395</text>
<text transform="translate(1165.36,374.03) scale(0.9250,1)" font-size="47.0">C=C</text>
<text transform="translate(1382.86,279.53) scale(0.9250,1)" font-size="47.0">1064</text>
<text transform="translate(1378.57,327.93) scale(0.9250,1)" font-size="47.0">C-O-C</text>
<text transform="translate(1090.97,895.23) scale(0.9250,1)" font-size="47.0">1560</text>
<text transform="translate(1166.67,948.73) scale(0.9250,1)" font-size="47.0">1480</text>
<text transform="translate(1259.78,901.03) scale(0.9250,1)" font-size="47.0">1295</text>
<text transform="translate(1331.24,948.20) scale(0.9250,1)" font-size="47.0">1241</text>
<text transform="translate(1410.00,900.83) scale(0.9250,1)" font-size="47.0">1125</text>
<text transform="translate(1514.05,806.33) scale(0.9250,1)" font-size="47.0">797</text>
<text transform="translate(1088.67,1170.43) scale(0.9250,1)" font-size="47.0">1570</text>
<text transform="translate(1178.13,1203.13) scale(0.9250,1)" font-size="47.0">1488</text>
<text transform="translate(1258.14,1156.43) scale(0.9250,1)" font-size="47.0">1299</text>
<text transform="translate(1327.74,1200.73) scale(0.9250,1)" font-size="47.0">1243</text>
<text transform="translate(1406.92,1154.43) scale(0.9250,1)" font-size="47.0">1132</text>
<text transform="translate(1515.04,1068.73) scale(0.9250,1)" font-size="47.0">799</text>
<line x1="1154.7" y1="858.3" x2="1205.4" y2="828.4" stroke="#000" stroke-width="2.8"/><polygon points="1220.1,819.8 1207.0,835.0 1200.4,823.8" fill="#000"/>
<line x1="1218.9" y1="910.9" x2="1249.1" y2="845.7" stroke="#000" stroke-width="2.8"/><polygon points="1256.3,830.3 1254.2,850.3 1242.4,844.8" fill="#000"/>
<line x1="1310.0" y1="868.8" x2="1324.9" y2="842.7" stroke="#000" stroke-width="2.8"/><polygon points="1333.4,828.0 1329.6,847.7 1318.3,841.2" fill="#000"/>
<line x1="1378.9" y1="910.9" x2="1363.3" y2="826.0" stroke="#000" stroke-width="2.8"/><polygon points="1360.2,809.3 1370.0,826.8 1357.2,829.2" fill="#000"/>
<line x1="1452.5" y1="865.0" x2="1425.3" y2="848.6" stroke="#000" stroke-width="2.8"/><polygon points="1410.8,839.8 1430.4,844.1 1423.7,855.2" fill="#000"/>
<line x1="1148.9" y1="1125.3" x2="1199.6" y2="1095.4" stroke="#000" stroke-width="2.8"/><polygon points="1214.3,1086.8 1201.2,1102.0 1194.6,1090.8" fill="#000"/>
<line x1="1215.4" y1="1162.7" x2="1246.5" y2="1099.7" stroke="#000" stroke-width="2.8"/><polygon points="1254.0,1084.5 1251.4,1104.4 1239.8,1098.7" fill="#000"/>
<line x1="1311.2" y1="1123.0" x2="1325.1" y2="1098.1" stroke="#000" stroke-width="2.8"/><polygon points="1333.4,1083.3 1329.8,1103.1 1318.5,1096.7" fill="#000"/>
<line x1="1376.6" y1="1161.5" x2="1360.9" y2="1075.5" stroke="#000" stroke-width="2.8"/><polygon points="1357.9,1058.8 1367.7,1076.3 1354.9,1078.7" fill="#000"/>
<line x1="1447.0" y1="1114.3" x2="1418.7" y2="1096.8" stroke="#000" stroke-width="2.8"/><polygon points="1404.2,1087.9 1423.8,1092.3 1417.0,1103.4" fill="#000"/>
<text transform="translate(596.71,1480.3) scale(0.949,1)" font-size="82.3">Wavenumber(cm<tspan font-size="48.3" dy="-43.9">-1</tspan><tspan dy="43.9">)</tspan></text>
<text transform="translate(86.3,673.4) rotate(-90) scale(0.95,1) translate(-356.59,0)" font-size="83.0">Transmittance(a.u.)</text>
<rect x="132.2" y="1609" width="1514.8" height="1265" fill="none" stroke="#000" stroke-width="4.2"/>
<line x1="132.2" y1="2874" x2="132.2" y2="2850" stroke="#000" stroke-width="4"/>
<text transform="translate(93.69,2935.83) scale(0.9750,1)" font-size="47.3">500</text>
<line x1="283.7" y1="2874" x2="283.7" y2="2861.5" stroke="#000" stroke-width="4"/>
<line x1="435.2" y1="2874" x2="435.2" y2="2850" stroke="#000" stroke-width="4"/>
<text transform="translate(383.05,2935.83) scale(0.9750,1)" font-size="47.3">1000</text>
<line x1="586.6" y1="2874" x2="586.6" y2="2861.5" stroke="#000" stroke-width="4"/>
<line x1="738.1" y1="2874" x2="738.1" y2="2850" stroke="#000" stroke-width="4"/>
<text transform="translate(686.01,2935.83) scale(0.9750,1)" font-size="47.3">1500</text>
<line x1="889.6" y1="2874" x2="889.6" y2="2861.5" stroke="#000" stroke-width="4"/>
<line x1="1041.1" y1="2874" x2="1041.1" y2="2850" stroke="#000" stroke-width="4"/>
<text transform="translate(989.54,2935.83) scale(0.9750,1)" font-size="47.3">2000</text>
<line x1="1192.6" y1="2874" x2="1192.6" y2="2861.5" stroke="#000" stroke-width="4"/>
<line x1="1344.0" y1="2874" x2="1344.0" y2="2850" stroke="#000" stroke-width="4"/>
<text transform="translate(1292.50,2935.83) scale(0.9750,1)" font-size="47.3">2500</text>
<line x1="1495.5" y1="2874" x2="1495.5" y2="2861.5" stroke="#000" stroke-width="4"/>
<line x1="1647.0" y1="2874" x2="1647.0" y2="2850" stroke="#000" stroke-width="4"/>
<text transform="translate(1595.75,2935.83) scale(0.9750,1)" font-size="47.3">3000</text>
<path d="M132.7,1990.5 133.5,1990.3 134.3,1990.3 135.1,1990.5 136.0,1990.5 136.9,1990.4 137.9,1990.3 138.9,1990.2 140.0,1990.2 141.0,1990.2 142.2,1990.2 143.3,1990.3 144.5,1990.2 145.7,1990.1 147.0,1989.9 148.2,1989.8 149.5,1989.8 150.9,1989.8 152.2,1989.9 153.6,1989.8 155.0,1989.9 156.5,1990.0 157.9,1989.9 159.4,1989.7 160.9,1989.6 162.4,1989.4 164.0,1989.3 165.5,1989.4 167.1,1989.4 168.7,1989.2 170.3,1989.2 172.0,1989.2 173.6,1989.1 175.3,1989.1 176.9,1989.2 178.6,1989.2 180.3,1989.1 182.0,1989.0 183.7,1988.9 185.4,1988.8 187.1,1988.7 188.9,1988.6 190.6,1988.7 192.3,1988.7 194.1,1988.6 195.8,1988.6 197.5,1988.7 199.3,1988.6 201.0,1988.4 202.8,1988.3 204.5,1988.2 206.2,1988.2 207.9,1988.3 209.7,1988.3 211.4,1988.2 213.1,1988.1 214.8,1988.1 216.4,1988.1 218.1,1987.9 219.8,1987.7 221.4,1987.5 223.1,1987.6 224.7,1987.5 226.3,1987.4 227.9,1987.5 229.5,1987.4 231.0,1987.2 232.5,1987.2 234.1,1987.2 235.6,1987.2 237.0,1986.9 238.5,1986.9 239.9,1987.0 241.5,1987.0 243.0,1986.6 244.6,1986.3 246.2,1986.4 247.7,1986.7 249.3,1986.9 250.9,1986.9 252.4,1986.6 254.0,1986.4 255.6,1986.5 257.1,1986.4 258.7,1986.3 260.3,1986.3 261.8,1986.3 263.4,1986.0 265.0,1985.9 266.5,1985.9 268.1,1985.9 269.6,1985.7 271.2,1985.7 272.7,1985.9 274.3,1986.0 275.8,1985.9 277.4,1985.8 278.9,1985.6 280.5,1985.2 282.0,1985.1 283.5,1985.1 285.0,1985.1 286.6,1985.1 288.1,1985.1 289.6,1984.9 291.1,1984.8 292.6,1984.7 294.1,1984.8 295.6,1985.0 297.1,1984.9 298.6,1984.8 300.1,1984.8 301.5,1984.6 303.0,1984.6 304.5,1984.6 305.9,1984.5 307.4,1984.2 308.8,1984.0 310.3,1983.9 311.7,1984.0 313.1,1984.0 314.5,1983.9 315.9,1983.8 317.3,1983.8 318.7,1983.8 320.1,1983.7 321.5,1983.6 322.8,1983.3 324.2,1983.2 325.5,1983.3 326.9,1983.2 328.2,1983.0 329.5,1982.8 330.8,1982.8 332.2,1982.8 333.4,1982.7 334.7,1982.5 336.0,1982.4 337.7,1982.2 339.5,1982.0 341.2,1981.9 342.9,1981.7 344.6,1981.6 346.2,1981.5 347.9,1981.3 349.5,1981.2 351.1,1980.8 352.7,1980.4 354.3,1980.3 355.9,1980.2 357.5,1980.1 359.0,1979.9 360.5,1979.7 362.1,1979.4 363.6,1979.1 365.1,1978.9 366.6,1978.8 368.1,1978.5 369.5,1978.1 371.0,1977.8 372.4,1977.8 373.9,1977.8 375.3,1977.5 376.7,1977.0 378.1,1976.8 379.5,1976.7 380.9,1976.6 382.3,1976.3 383.6,1975.9 385.0,1975.7 386.4,1975.3 387.7,1974.9 389.0,1974.8 390.4,1974.7 391.7,1974.7 393.0,1974.5 394.3,1974.1 395.7,1973.8 397.0,1973.6 398.3,1973.1 399.6,1972.8 400.8,1972.8 402.1,1972.7 403.4,1972.3 404.7,1971.9 406.4,1971.8 408.0,1971.6 409.6,1971.3 411.3,1971.0 412.9,1970.7 414.5,1970.6 416.1,1970.3 417.6,1970.0 419.2,1969.7 420.7,1969.4 422.3,1969.0 423.8,1968.7 425.3,1968.4 426.8,1968.0 428.2,1967.9 429.7,1967.7 431.2,1967.5 432.6,1967.4 434.0,1967.2 435.4,1966.7 436.8,1966.5 438.2,1966.3 439.6,1965.7 440.9,1965.3 442.3,1964.9 443.6,1964.5 444.9,1964.3 446.2,1964.2 447.5,1963.9 448.8,1963.7 450.1,1963.4 451.3,1963.0 452.6,1962.6 453.8,1962.3 455.0,1962.0 456.2,1961.7 457.9,1961.3 459.5,1960.9 461.1,1960.6 462.7,1960.2 464.2,1959.7 465.6,1959.0 467.1,1958.5 468.5,1958.1 469.8,1957.8 471.2,1957.3 472.5,1956.7 473.8,1956.3 475.1,1956.0 476.4,1955.6 477.7,1955.1 478.9,1954.4 480.2,1953.8 481.5,1953.4 482.7,1953.0 484.0,1952.5 485.3,1951.9 486.6,1951.3 487.9,1950.9 489.2,1950.4 490.6,1949.7 491.9,1949.2 493.3,1948.7 494.6,1948.2 496.0,1947.6 497.4,1946.9 498.7,1946.2 500.1,1945.6 501.5,1945.2 502.9,1944.7 504.3,1943.9 505.7,1943.3 507.0,1942.9 508.4,1942.2 509.8,1941.5 511.1,1941.0 512.5,1940.4 513.8,1939.9 515.1,1939.1 516.4,1938.4 517.7,1937.9 519.0,1937.4 520.2,1936.8 521.4,1936.2 522.6,1935.6 523.8,1935.1 524.9,1934.5 526.3,1933.6 527.7,1932.8 529.1,1932.0 530.4,1931.3 531.7,1930.6 533.0,1929.9 534.2,1929.1 535.4,1928.4 536.6,1927.6 537.8,1926.9 538.9,1926.1 540.0,1925.2 541.2,1924.5 542.3,1923.9 543.4,1923.0 544.5,1922.2 545.6,1921.3 546.7,1920.5 547.8,1919.6 548.9,1918.7 550.1,1917.9 551.3,1917.0 552.5,1916.2 553.6,1915.3 554.8,1914.2 556.0,1913.2 557.2,1912.3 558.4,1911.2 559.5,1909.9 560.6,1908.8 561.7,1907.9 562.8,1906.9 563.9,1905.8 564.9,1904.9 565.9,1903.8 566.9,1902.8 567.9,1901.9 568.7,1901.0 569.6,1900.0 570.9,1898.6 572.0,1897.4 573.0,1896.3 574.0,1895.4 574.9,1894.3 575.8,1892.9 576.6,1891.6 577.3,1890.5 578.1,1889.4 578.9,1888.4 579.7,1887.2 580.5,1885.9 581.3,1884.9 582.0,1883.8 582.8,1882.7 583.5,1881.5 584.3,1880.2 585.0,1878.8 585.7,1877.3 586.4,1875.9 587.1,1874.6 587.8,1873.3 588.5,1871.9 589.3,1870.5 590.0,1869.3 590.6,1868.1 591.3,1866.8 591.9,1865.5 592.5,1864.1 593.1,1862.8 593.8,1861.9 594.4,1860.9 595.0,1859.6 595.7,1858.3 596.3,1857.1 596.9,1856.0 597.6,1854.5 598.3,1852.9 598.9,1851.3 599.6,1849.7 600.0,1848.6 600.5,1847.4 600.9,1846.0 601.3,1844.8 601.7,1843.4 602.2,1842.2 602.6,1840.9 603.1,1839.5 603.5,1838.2 603.9,1836.9 604.4,1835.4 604.8,1834.0 605.3,1832.4 605.7,1830.8 606.2,1829.4 606.6,1827.9 607.1,1826.2 607.6,1824.8 608.1,1823.6 608.5,1822.3 609.0,1820.8 609.5,1819.3 610.0,1818.0 610.5,1816.6 611.0,1815.2 611.5,1814.1 612.0,1812.6 612.5,1810.9 613.0,1809.7 613.6,1808.4 614.1,1807.0 614.6,1805.6 615.2,1804.3 615.7,1803.1 616.3,1801.7 616.8,1800.3 617.4,1798.8 617.9,1797.3 618.5,1795.8 619.0,1794.4 619.6,1793.2 620.1,1791.8 620.6,1790.4 621.2,1789.1 621.7,1787.7 622.2,1786.3 622.7,1785.1 623.2,1783.8 623.7,1782.6 624.4,1780.9 625.0,1779.4 625.6,1778.1 626.3,1776.6 626.9,1775.0 627.4,1773.5 628.0,1771.9 628.6,1770.5 629.2,1769.1 629.8,1767.7 630.4,1766.3 631.0,1765.2 631.5,1764.3 632.1,1763.2 632.8,1762.0 633.4,1760.8 634.0,1759.6 634.7,1758.8 635.8,1757.3 637.0,1755.8 638.2,1754.4 639.4,1753.5 640.7,1752.6 641.9,1751.6 643.2,1750.7 644.4,1750.1 645.6,1749.5 646.8,1749.1 647.9,1748.9 649.2,1748.8 650.5,1748.8 651.7,1749.0 652.9,1749.3 654.1,1749.9 655.3,1750.8 656.5,1751.8 657.7,1752.9 658.9,1754.2 659.6,1755.2 660.3,1756.2 660.9,1757.1 661.6,1757.7 662.3,1758.9 662.9,1760.4 663.6,1761.6 664.3,1762.8 664.9,1764.1 665.6,1765.5 666.3,1766.8 667.0,1768.1 667.7,1769.6 668.4,1771.3 669.2,1772.7 669.9,1774.1 670.5,1775.3 671.1,1776.6 671.7,1777.8 672.2,1779.1 672.8,1780.5 673.4,1782.0 674.1,1783.4 674.7,1784.6 675.3,1786.0 675.9,1787.4 676.5,1788.6 677.2,1790.2 677.8,1791.7 678.5,1793.1 679.1,1794.4 679.8,1796.0 680.4,1797.5 681.1,1798.7 681.7,1800.0 682.4,1801.4 683.1,1802.9 683.8,1804.2 684.5,1805.3 685.3,1806.4 686.0,1807.7 686.7,1809.2 687.5,1810.6 688.2,1812.0 689.0,1813.3 689.8,1814.6 690.5,1816.0 691.3,1817.2 692.1,1818.8 692.9,1820.0 693.7,1820.9 694.5,1821.8 695.3,1823.0 696.1,1824.2 696.9,1825.1 697.7,1825.8 698.5,1826.9 699.8,1828.2 701.1,1829.1 702.4,1829.9 703.7,1830.8 705.1,1831.6 706.4,1832.5 707.8,1833.2 709.2,1833.7 710.5,1834.0 711.9,1834.1 713.3,1834.2 714.6,1834.5 716.0,1834.7 717.4,1834.7 718.7,1834.4 720.1,1834.1 721.4,1833.7 722.8,1833.2 724.1,1832.9 725.5,1832.4 726.8,1831.6 728.2,1830.8 729.5,1829.8 730.9,1829.0 732.2,1828.2 733.6,1826.9 734.5,1826.1 735.4,1825.1 736.3,1824.0 737.2,1823.0 738.2,1822.0 739.1,1821.2 740.0,1819.8 741.0,1818.2 741.9,1817.0 742.8,1816.0 743.7,1814.7 744.6,1813.2 745.5,1811.7 746.4,1810.3 747.3,1809.1 748.1,1807.9 748.9,1806.6 749.7,1805.4 750.5,1804.1 751.2,1802.7 751.9,1801.4 752.6,1799.9 753.2,1798.7 753.8,1797.7 754.4,1796.8 754.9,1795.6 755.5,1794.3 756.0,1792.9 756.5,1791.7 757.0,1790.6 757.5,1789.5 758.0,1788.3 758.5,1787.1 758.9,1785.8 759.5,1784.3 760.0,1782.8 760.5,1781.2 761.0,1779.7 761.6,1778.0 762.2,1776.3 762.6,1775.1 763.0,1774.0 763.4,1772.9 763.8,1771.4 764.2,1770.0 764.6,1768.5 765.0,1767.0 765.5,1765.7 765.9,1764.3 766.3,1762.6 766.7,1761.0 767.1,1759.5 767.6,1758.2 768.0,1756.9 768.4,1755.2 768.9,1753.3 769.3,1751.6 769.8,1750.4 770.2,1749.0 770.6,1747.4 771.1,1745.8 771.5,1744.1 771.9,1742.7 772.4,1741.3 772.8,1739.9 773.2,1738.5 773.7,1737.2 774.1,1735.8 774.5,1734.5 775.0,1733.5 775.4,1732.3 776.1,1730.5 776.7,1728.8 777.4,1727.2 778.1,1725.6 778.8,1723.9 779.5,1722.2 780.2,1720.6 780.9,1719.2 781.6,1717.9 782.3,1716.7 783.0,1715.1 783.6,1713.8 784.3,1712.8 785.0,1711.5 785.6,1710.6 786.2,1709.7 786.9,1709.0 787.5,1708.2 788.0,1707.6 788.6,1707.0 789.9,1706.2 791.2,1706.1 792.3,1706.4 793.4,1707.3 794.5,1708.5 795.5,1710.2 796.4,1712.3 797.4,1714.7 797.8,1715.7 798.1,1716.6 798.5,1717.5 798.8,1718.6 799.1,1720.0 799.4,1721.3 799.8,1722.5 800.1,1723.8 800.4,1725.3 800.7,1726.7 801.0,1728.1 801.3,1729.9 801.6,1731.5 801.9,1733.0 802.2,1734.7 802.5,1736.4 802.8,1738.3 803.1,1740.3 803.4,1742.2 803.7,1743.7 804.0,1745.4 804.2,1746.5 804.4,1747.8 804.6,1749.2 804.8,1750.6 805.0,1752.0 805.2,1753.2 805.4,1754.5 805.6,1756.0 805.8,1757.4 806.0,1758.7 806.2,1759.9 806.4,1761.3 806.6,1762.8 806.8,1764.2 807.0,1765.7 807.2,1767.4 807.3,1769.0 807.5,1770.6 807.7,1772.2 807.9,1773.8 808.1,1775.2 808.3,1776.6 808.5,1778.1 808.7,1779.7 808.9,1781.4 809.1,1782.7 809.3,1784.2 809.5,1786.0 809.7,1787.7 809.9,1789.0 810.1,1790.6 810.3,1792.4 810.5,1794.2 810.7,1795.3 810.9,1796.6 811.0,1798.2 811.2,1799.6 811.4,1801.1 811.5,1802.7 811.7,1804.1 811.9,1805.8 812.0,1807.5 812.2,1808.9 812.4,1810.3 812.6,1811.8 812.7,1813.6 812.9,1815.3 813.1,1816.8 813.2,1818.5 813.4,1820.2 813.6,1821.5 813.7,1822.9 813.9,1824.6 814.1,1826.2 814.3,1827.9 814.4,1829.5 814.6,1831.0 814.8,1832.4 815.0,1834.0 815.2,1835.4 815.3,1836.8 815.5,1838.2 815.7,1839.7 815.9,1841.0 816.1,1842.3 816.3,1843.8 816.5,1845.0 816.7,1846.3 816.9,1847.6 817.1,1848.7 817.4,1850.6 817.8,1852.3 818.1,1854.1 818.5,1856.0 818.8,1857.8 819.2,1859.3 819.5,1861.0 819.9,1862.6 820.3,1864.0 820.7,1865.2 821.0,1866.7 821.4,1868.2 821.8,1869.5 822.2,1870.8 822.6,1872.2 823.0,1873.4 823.4,1874.5 823.8,1875.8 824.2,1877.1 824.6,1878.3 825.0,1879.4 825.5,1880.8 825.9,1882.0 826.5,1883.4 827.1,1884.9 827.7,1886.3 828.2,1887.5 828.8,1889.0 829.4,1890.3 830.1,1891.7 830.7,1893.1 831.3,1894.5 831.9,1895.8 832.6,1896.8 833.3,1897.8 834.0,1898.9 834.7,1900.1 835.4,1901.3 836.1,1902.6 836.9,1904.0 837.7,1905.2 838.5,1906.5 839.4,1907.7 840.2,1908.8 841.1,1909.9 842.0,1911.2 842.9,1912.8 843.9,1914.3 844.8,1915.4 845.7,1916.5 846.7,1917.7 847.6,1918.8 848.6,1919.7 849.5,1921.0 850.5,1922.0 851.4,1922.7 852.3,1923.3 853.7,1924.5 855.1,1925.7 856.6,1926.5 858.0,1926.7 859.5,1927.0 860.9,1927.6 862.3,1928.1 863.7,1928.4 865.1,1928.5 866.4,1928.9 867.7,1929.1 869.0,1929.0 870.0,1929.3 870.8,1929.8 871.5,1930.0 872.4,1929.7 873.5,1929.5 875.1,1929.9 877.2,1930.4 880.0,1931.4 880.9,1931.9 881.9,1932.0 882.9,1932.2 884.0,1932.4 885.1,1932.9 886.2,1933.0 887.4,1933.3 888.6,1934.1 889.9,1934.3 891.2,1934.2 892.5,1934.3 893.9,1935.1 895.3,1935.7 896.7,1935.5 898.1,1935.6 899.6,1936.0 901.1,1936.4 902.6,1936.5 904.2,1937.3 905.7,1938.1 907.3,1938.3 908.9,1938.7 910.6,1938.7 912.2,1938.8 913.9,1939.2 915.6,1939.4 917.3,1939.5 919.0,1939.5 920.7,1939.5 922.4,1939.9 924.2,1940.5 925.9,1940.8 927.1,1940.7 928.4,1940.6 929.7,1940.5 930.9,1940.7 932.2,1940.9 933.5,1941.1 934.8,1941.3 936.1,1941.6 937.5,1942.0 938.8,1942.1 940.1,1941.9 941.5,1941.6 942.8,1941.7 944.2,1942.1 945.6,1942.4 947.0,1942.4 948.4,1942.1 949.8,1942.3 951.2,1942.4 952.7,1942.2 954.1,1942.2 955.5,1942.3 957.0,1942.3 958.5,1942.1 960.0,1941.6 961.5,1941.8 963.0,1942.3 964.5,1942.1 966.0,1941.7 967.5,1941.6 969.1,1941.7 970.6,1942.3 972.2,1942.6 973.8,1942.5 975.4,1942.4 977.0,1942.3 978.6,1942.4 980.2,1942.3 981.8,1942.2 983.5,1941.8 985.2,1941.5 986.8,1941.3 988.5,1941.0 990.2,1941.1 991.9,1941.6 993.2,1941.9 994.5,1941.8 995.8,1941.7 997.2,1941.6 998.5,1941.4 999.8,1941.1 1001.2,1941.1 1002.5,1940.9 1003.9,1941.0 1005.3,1941.2 1006.6,1941.2 1008.0,1941.2 1009.4,1941.7 1010.8,1941.6 1012.2,1941.1 1013.6,1940.8 1015.0,1940.9 1016.4,1940.9 1017.8,1940.6 1019.2,1940.8 1020.7,1940.7 1022.1,1940.6 1023.6,1940.6 1025.0,1940.4 1026.5,1940.3 1027.9,1940.2 1029.4,1939.9 1030.9,1940.1 1032.4,1939.8 1033.9,1939.8 1035.3,1940.5 1036.9,1941.0 1038.4,1940.4 1039.9,1939.5 1041.4,1939.2 1042.9,1939.5 1044.5,1939.6 1046.0,1939.5 1047.5,1939.5 1049.1,1939.5 1050.7,1939.6 1052.2,1939.5 1053.8,1939.1 1055.4,1938.7 1057.0,1938.9 1058.5,1938.9 1060.1,1939.1 1061.7,1938.9 1063.4,1938.5 1065.0,1938.5 1066.6,1938.6 1068.2,1938.9 1069.9,1939.0 1071.5,1938.9 1073.1,1938.5 1074.8,1938.3 1076.5,1938.0 1078.1,1938.1 1079.8,1938.1 1081.1,1938.1 1082.5,1938.1 1083.8,1938.2 1085.2,1938.0 1086.6,1938.1 1088.0,1938.4 1089.3,1938.2 1090.7,1938.0 1092.1,1938.0 1093.5,1938.2 1095.0,1938.3 1096.4,1938.3 1097.8,1938.2 1099.2,1938.1 1100.7,1938.0 1102.1,1938.1 1103.5,1937.8 1105.0,1937.7 1106.5,1937.4 1107.9,1937.1 1109.4,1937.3 1110.9,1937.2 1112.3,1937.1 1113.8,1936.4 1115.3,1936.1 1116.8,1936.1 1118.3,1936.2 1119.8,1936.6 1121.3,1936.6 1122.8,1936.4 1124.3,1936.3 1125.8,1936.3 1127.3,1936.5 1128.8,1936.4 1130.3,1936.2 1131.9,1936.2 1133.4,1936.2 1134.9,1935.7 1136.4,1935.0 1138.0,1934.9 1139.5,1935.0 1141.0,1935.1 1142.5,1935.1 1144.1,1934.8 1145.6,1934.5 1147.1,1934.7 1148.7,1934.7 1150.2,1934.7 1151.7,1934.6 1153.3,1934.2 1154.8,1934.1 1156.3,1934.5 1157.9,1934.5 1159.4,1934.0 1160.9,1933.5 1162.5,1933.3 1164.0,1933.4 1165.5,1933.5 1167.1,1933.6 1168.6,1933.6 1170.1,1933.3 1171.6,1932.9 1173.2,1933.0 1174.7,1933.1 1176.2,1933.1 1177.7,1933.0 1179.2,1932.9 1180.7,1932.9 1182.2,1932.6 1183.7,1932.4 1185.2,1932.6 1186.7,1932.9 1188.2,1932.7 1189.7,1932.7 1191.2,1932.3 1192.7,1931.9 1194.2,1931.5 1195.7,1931.6 1197.2,1931.7 1198.7,1931.2 1200.2,1931.0 1201.8,1931.2 1203.3,1931.0 1204.8,1930.4 1206.3,1930.3 1207.9,1930.6 1209.4,1930.7 1211.0,1930.6 1212.5,1930.3 1214.1,1930.4 1215.6,1930.2 1217.2,1929.8 1218.7,1930.0 1220.3,1930.0 1221.8,1929.8 1223.4,1929.4 1225.0,1929.1 1226.5,1928.9 1228.1,1928.8 1229.6,1928.8 1231.2,1928.5 1232.8,1928.0 1234.3,1927.8 1235.9,1927.4 1237.4,1927.0 1239.0,1927.0 1240.5,1927.2 1242.1,1927.2 1243.6,1927.1 1245.2,1927.2 1246.7,1927.2 1248.3,1926.6 1249.8,1926.5 1251.3,1926.3 1252.8,1925.8 1254.4,1925.7 1255.9,1925.8 1257.4,1925.5 1258.9,1925.3 1260.4,1925.3 1261.9,1925.2 1263.4,1925.1 1264.9,1924.9 1266.4,1924.4 1267.9,1924.4 1269.3,1924.3 1270.8,1923.9 1272.3,1923.8 1273.7,1923.7 1275.2,1923.6 1276.6,1923.7 1278.0,1923.3 1279.4,1923.1 1280.9,1923.4 1282.3,1923.3 1283.7,1923.2 1285.0,1923.0 1286.4,1922.7 1287.8,1922.2 1289.1,1921.8 1290.5,1921.9 1291.8,1922.0 1293.1,1922.1 1294.5,1921.9 1295.8,1921.9 1297.1,1921.9 1298.3,1921.6 1299.6,1921.6 1301.4,1921.7 1303.2,1921.6 1304.9,1921.4 1306.6,1921.6 1308.3,1921.5 1310.0,1921.4 1311.7,1921.5 1313.4,1921.7 1315.0,1921.5 1316.6,1921.2 1318.2,1921.2 1319.8,1921.1 1321.4,1920.9 1323.0,1920.3 1324.5,1920.1 1326.1,1919.8 1327.6,1919.4 1329.1,1919.4 1330.6,1919.7 1332.1,1919.7 1333.6,1919.4 1335.0,1919.1 1336.5,1919.1 1337.9,1919.1 1339.4,1918.5 1340.8,1918.2 1342.2,1918.3 1343.6,1918.5 1345.0,1918.5 1346.4,1918.4 1347.8,1918.2 1349.2,1918.5 1350.6,1918.7 1352.0,1918.3 1353.4,1917.8 1354.7,1917.6 1356.1,1917.4 1357.5,1916.9 1358.8,1916.5 1360.2,1916.4 1361.5,1916.8 1362.9,1917.1 1364.3,1916.9 1365.6,1916.7 1367.0,1916.3 1368.3,1916.1 1369.7,1916.3 1371.0,1916.3 1372.4,1915.9 1373.8,1915.7 1375.1,1915.8 1376.5,1915.9 1378.1,1915.7 1379.7,1915.5 1381.2,1915.0 1382.8,1914.5 1384.4,1914.3 1386.0,1913.7 1387.5,1913.2 1389.1,1912.9 1390.6,1912.3 1392.2,1911.9 1393.7,1911.8 1395.3,1911.8 1396.8,1911.8 1398.4,1911.5 1399.9,1910.9 1401.4,1910.4 1402.9,1909.9 1404.4,1909.4 1405.9,1909.3 1407.4,1909.1 1408.9,1908.8 1410.4,1908.3 1411.9,1907.8 1413.4,1907.6 1414.8,1907.1 1416.3,1906.6 1417.7,1906.6 1419.2,1906.3 1420.6,1905.8 1422.1,1905.2 1423.5,1904.5 1424.9,1903.8 1426.3,1903.8 1427.7,1903.9 1429.1,1903.7 1430.4,1903.3 1431.8,1903.3 1433.2,1903.3 1434.5,1903.2 1435.9,1902.7 1437.2,1902.5 1438.5,1902.4 1439.8,1902.4 1441.1,1902.3 1442.4,1901.8 1444.1,1901.3 1445.7,1901.3 1447.3,1900.9 1448.9,1901.0 1450.5,1901.1 1452.0,1900.7 1453.5,1900.5 1454.9,1900.3 1456.4,1900.1 1457.8,1900.2 1459.2,1900.1 1460.6,1900.3 1462.0,1900.6 1463.4,1900.8 1464.8,1900.8 1466.1,1900.7 1467.5,1900.6 1468.8,1900.5 1470.2,1900.6 1471.6,1901.0 1472.9,1901.1 1474.3,1901.1 1475.7,1901.1 1477.0,1901.2 1478.4,1900.9 1479.9,1901.0 1481.3,1901.4 1482.7,1901.5 1484.2,1901.0 1485.7,1900.8 1487.2,1900.9 1488.7,1901.2 1490.3,1901.4 1491.9,1901.5 1493.2,1901.2 1494.6,1900.3 1496.0,1899.9 1497.4,1899.7 1498.8,1899.5 1500.2,1899.5 1501.6,1899.4 1503.1,1899.3 1504.5,1899.0 1506.0,1898.9 1507.5,1899.2 1508.9,1899.2 1510.4,1898.7 1511.9,1898.1 1513.4,1898.0 1514.9,1898.4 1516.4,1899.0 1518.0,1899.2 1519.5,1899.1 1521.0,1898.9 1522.5,1898.6 1524.0,1898.9 1525.6,1899.0 1527.1,1899.0 1528.6,1898.8 1530.1,1898.8 1531.7,1899.3 1533.2,1899.3 1534.7,1898.9 1536.2,1898.7 1537.7,1898.9 1539.2,1899.3 1540.7,1899.3 1542.2,1899.1 1543.6,1899.1 1545.1,1898.8 1546.6,1898.5 1548.0,1898.5 1549.5,1898.3 1550.9,1898.2 1552.3,1898.4 1553.9,1898.2 1555.4,1897.9 1557.0,1898.2 1558.6,1898.3 1560.1,1898.2 1561.7,1898.1 1563.3,1898.0 1564.9,1898.1 1566.4,1898.6 1568.0,1898.8 1569.6,1898.8 1571.1,1898.8 1572.7,1898.8 1574.2,1898.8 1575.8,1899.0 1577.3,1899.2 1578.9,1899.3 1580.4,1899.0 1581.9,1899.0 1583.5,1899.0 1585.0,1899.2 1586.5,1899.4 1587.9,1899.3 1589.4,1899.0 1590.9,1899.0 1592.3,1899.1 1593.8,1899.3 1595.2,1899.4 1596.6,1899.5 1598.0,1899.8 1599.4,1900.0 1600.7,1900.0 1602.1,1900.3 1603.4,1900.6 1604.7,1900.9 1606.0,1901.0 1607.3,1901.1 1609.1,1901.4 1610.9,1901.7 1612.7,1901.6 1614.5,1901.6 1616.3,1902.0 1618.1,1902.1 1619.8,1902.2 1621.6,1903.0 1623.3,1903.5 1625.0,1903.8 1626.7,1904.1 1628.3,1904.4 1629.9,1904.7 1631.5,1904.8 1633.0,1904.9 1634.5,1905.0 1635.9,1905.0 1637.3,1905.4 1638.6,1905.6 1639.8,1906.0 1641.0,1906.2 1642.1,1906.3 1643.1,1906.5 1644.0,1906.8 1644.9,1906.5 1645.7,1906.6" fill="none" stroke="#000" stroke-width="3.8" stroke-linejoin="round" stroke-linecap="round"/>
<path d="M134.1,2270.9 134.9,2270.8 135.8,2271.0 136.8,2270.8 137.8,2270.3 138.9,2270.7 140.1,2270.6 141.4,2270.3 142.8,2270.4 144.2,2270.7 145.6,2270.7 147.1,2270.6 148.7,2270.5 150.2,2270.8 151.9,2271.0 153.5,2271.0 155.2,2270.8 156.9,2270.8 158.6,2270.7 160.4,2270.3 162.1,2270.0 163.9,2269.9 165.6,2269.8 167.4,2269.5 169.1,2269.1 170.8,2269.2 172.5,2269.2 174.2,2268.8 175.9,2269.0 177.5,2269.5 179.0,2269.2 180.6,2269.2 182.1,2269.3 183.5,2269.1 184.9,2268.9 186.5,2268.8 188.1,2268.8 189.7,2268.8 191.3,2269.1 192.8,2269.3 194.3,2269.2 195.8,2269.2 197.3,2269.0 198.8,2268.8 200.2,2268.6 201.7,2268.3 203.1,2268.2 204.6,2268.0 206.0,2267.7 207.4,2267.8 208.8,2267.8 210.2,2267.5 211.6,2266.9 213.1,2266.6 214.5,2267.1 215.9,2266.8 217.3,2266.4 218.8,2266.6 220.2,2266.6 221.7,2266.6 223.2,2266.6 224.7,2266.7 226.2,2266.5 227.6,2266.4 229.0,2266.4 230.4,2266.3 231.9,2266.1 233.3,2266.3 234.7,2266.3 236.1,2266.0 237.5,2265.9 238.9,2265.9 240.3,2266.1 241.8,2266.2 243.2,2266.1 244.6,2266.4 246.0,2266.7 247.5,2266.9 248.9,2267.1 250.4,2267.1 251.8,2267.5 253.3,2267.9 254.8,2267.6 256.2,2267.4 257.7,2267.5 259.2,2267.6 260.7,2267.4 262.3,2267.2 263.8,2267.0 265.4,2267.0 266.9,2267.1 268.5,2267.1 270.1,2267.4 271.5,2267.7 272.9,2267.4 274.3,2267.2 275.7,2267.4 277.1,2267.2 278.5,2266.9 280.0,2266.8 281.4,2266.5 282.9,2266.3 284.3,2266.2 285.8,2266.2 287.3,2265.8 288.8,2265.5 290.2,2265.5 291.7,2265.5 293.2,2265.1 294.8,2264.6 296.3,2264.5 297.8,2264.4 299.3,2264.3 300.8,2264.0 302.3,2263.5 303.9,2263.3 305.4,2263.2 306.9,2263.3 308.5,2263.4 310.0,2263.0 311.5,2262.9 313.1,2263.1 314.6,2262.6 316.2,2262.3 317.7,2262.1 319.2,2261.9 320.8,2262.2 322.3,2262.2 323.8,2261.9 325.2,2261.6 326.7,2261.3 328.3,2261.0 329.8,2261.1 331.4,2260.9 332.9,2261.0 334.5,2261.3 336.1,2261.3 337.7,2261.1 339.3,2261.4 340.9,2261.5 342.5,2261.0 344.1,2260.7 345.7,2260.6 347.4,2260.4 349.0,2260.3 350.6,2260.6 352.1,2260.6 353.7,2260.4 355.3,2260.3 356.8,2260.3 358.4,2260.3 359.9,2260.2 361.4,2260.4 362.9,2260.9 364.3,2261.1 365.8,2261.3 367.2,2261.6 368.6,2261.4 369.9,2261.3 371.2,2261.0 372.5,2261.2 373.8,2261.4 375.0,2261.2 376.2,2260.7 377.3,2260.6 379.4,2260.8 381.3,2260.8 383.2,2260.9 384.9,2260.8 386.5,2260.6 388.0,2260.7 389.4,2260.9 390.8,2260.7 392.1,2260.7 393.3,2260.9 394.6,2261.1 395.8,2261.3 397.0,2261.6 398.2,2261.8 399.4,2261.9 400.7,2261.7 401.9,2261.5 403.3,2261.5 404.7,2261.5 406.1,2261.2 407.6,2261.0 409.0,2260.8 410.5,2260.7 411.9,2260.9 413.4,2261.2 414.8,2260.6 416.3,2260.2 417.7,2260.0 419.2,2259.7 420.6,2259.6 422.1,2259.6 423.5,2259.2 425.0,2259.0 426.4,2258.5 427.9,2257.8 429.3,2257.4 430.8,2257.1 432.2,2256.9 433.6,2257.1 435.1,2256.9 436.5,2256.4 438.0,2256.0 439.4,2255.8 440.9,2255.8 442.3,2255.9 443.8,2255.3 445.2,2254.9 446.7,2254.5 448.1,2254.0 449.6,2253.5 451.0,2253.3 452.5,2253.0 453.9,2252.5 455.4,2252.2 456.8,2251.9 458.3,2251.3 459.7,2250.7 461.1,2250.4 462.4,2250.3 463.8,2250.1 465.2,2250.1 466.6,2249.7 467.9,2249.2 469.3,2248.7 470.7,2248.5 472.0,2247.9 473.4,2247.3 474.8,2247.2 476.1,2247.2 477.5,2246.3 478.9,2245.7 480.2,2245.7 481.6,2245.3 483.0,2244.7 484.4,2244.3 485.7,2243.5 487.1,2242.9 488.5,2242.6 490.0,2242.7 491.5,2242.6 492.9,2242.5 494.4,2241.8 495.8,2241.0 497.3,2240.2 498.8,2239.7 500.2,2239.6 501.7,2239.4 503.2,2238.5 504.6,2237.9 506.1,2238.1 507.5,2237.9 508.9,2237.3 510.4,2237.1 511.8,2237.1 513.2,2236.6 514.6,2235.8 516.1,2235.5 517.5,2235.3 519.0,2235.2 520.4,2234.7 521.9,2234.2 523.3,2233.9 524.7,2233.6 526.1,2232.8 527.6,2232.3 529.0,2232.1 530.4,2231.8 531.8,2231.3 533.1,2230.6 534.5,2230.3 535.9,2230.1 537.3,2229.7 538.6,2229.1 540.0,2228.8 541.4,2228.4 542.7,2227.6 544.0,2226.8 545.4,2226.2 546.7,2225.7 548.0,2225.1 549.4,2224.4 550.7,2223.7 552.0,2223.1 553.3,2222.4 554.6,2221.6 555.9,2220.9 557.1,2219.9 558.4,2219.2 559.7,2218.5 560.9,2217.9 562.2,2217.1 563.4,2216.0 564.6,2215.0 565.7,2214.3 566.9,2213.7 568.1,2212.9 569.3,2211.9 570.4,2211.1 571.6,2210.3 572.8,2209.1 573.9,2207.9 575.1,2206.9 576.2,2206.1 577.3,2205.2 578.4,2204.2 579.4,2203.3 580.5,2202.1 581.5,2201.1 582.5,2199.8 583.5,2198.7 584.4,2197.5 585.2,2196.5 585.9,2195.6 586.6,2194.4 587.3,2192.9 588.0,2191.3 588.6,2189.8 589.3,2188.5 589.9,2187.8 590.5,2186.7 591.1,2185.3 591.7,2183.8 592.3,2182.7 592.8,2181.1 593.4,2179.6 594.0,2177.9 594.5,2176.7 595.1,2175.6 595.6,2174.1 596.2,2172.4 596.7,2171.1 597.3,2169.7 597.8,2168.1 598.4,2166.7 598.9,2165.3 599.4,2164.2 599.9,2162.9 600.4,2161.6 600.9,2160.1 601.4,2158.6 601.9,2157.2 602.4,2155.7 602.9,2154.3 603.4,2152.9 603.8,2151.6 604.3,2150.3 604.8,2149.0 605.2,2147.7 605.7,2146.3 606.2,2144.7 606.6,2143.1 607.1,2141.8 607.5,2140.6 608.0,2139.2 608.4,2137.8 608.8,2136.3 609.3,2134.5 609.7,2133.2 610.1,2131.9 610.5,2130.3 610.9,2128.8 611.3,2127.6 611.7,2126.5 612.1,2125.4 612.5,2124.0 612.9,2122.3 613.3,2120.7 613.6,2119.5 614.0,2118.2 614.4,2117.0 614.7,2115.9 615.1,2114.3 615.4,2112.9 615.8,2111.7 616.2,2110.3 616.5,2108.7 616.9,2107.4 617.2,2106.0 617.6,2104.6 617.9,2103.0 618.3,2101.5 618.7,2100.2 619.0,2098.7 619.4,2096.8 619.7,2095.7 620.0,2094.4 620.3,2092.9 620.6,2091.7 620.9,2090.4 621.2,2088.8 621.5,2087.5 621.8,2086.0 622.1,2084.3 622.4,2082.7 622.7,2081.0 623.0,2079.5 623.3,2078.1 623.6,2076.7 623.9,2075.3 624.2,2073.5 624.5,2071.8 624.8,2070.5 625.1,2069.1 625.4,2067.4 625.7,2065.7 626.0,2064.1 626.3,2062.7 626.5,2061.5 626.8,2060.0 627.1,2058.5 627.4,2057.0 627.6,2055.4 627.9,2053.9 628.2,2052.6 628.4,2051.2 628.7,2049.7 629.0,2047.9 629.4,2046.3 629.7,2044.9 630.0,2043.3 630.3,2041.4 630.6,2039.6 630.9,2038.0 631.2,2036.5 631.5,2034.8 631.8,2033.3 632.1,2031.9 632.3,2030.8 632.6,2029.1 632.9,2027.4 633.2,2026.1 633.5,2024.9 633.7,2023.6 634.0,2022.0 634.3,2020.5 634.6,2019.6 634.8,2018.6 635.1,2017.4 635.4,2016.2 635.7,2015.1 636.3,2013.0 637.0,2011.0 637.6,2009.2 638.2,2007.3 638.8,2005.8 639.4,2004.4 640.1,2003.3 640.7,2002.5 641.4,2002.0 642.0,2001.6 642.7,2000.9 643.6,2000.7 644.4,2001.0 645.3,2001.3 646.3,2002.0 647.2,2003.0 648.1,2004.3 649.1,2005.8 650.0,2008.1 650.9,2010.4 651.2,2011.0 651.5,2012.1 651.8,2013.3 652.1,2014.4 652.3,2015.5 652.6,2016.6 652.9,2017.9 653.2,2019.4 653.5,2020.7 653.8,2022.2 654.1,2023.9 654.4,2025.1 654.6,2026.3 654.9,2027.9 655.2,2029.4 655.5,2030.9 655.8,2032.4 656.1,2033.9 656.4,2035.4 656.7,2037.3 657.0,2039.1 657.3,2040.7 657.6,2042.2 657.9,2043.7 658.2,2045.4 658.5,2047.1 658.8,2048.8 659.1,2050.5 659.4,2051.7 659.6,2052.8 659.9,2054.1 660.2,2055.5 660.5,2057.2 660.7,2058.8 661.0,2060.3 661.3,2061.8 661.6,2063.3 661.8,2064.5 662.1,2066.0 662.4,2067.5 662.7,2068.8 663.0,2070.2 663.2,2071.7 663.5,2073.2 663.8,2074.9 664.1,2076.5 664.4,2078.0 664.7,2079.3 665.0,2080.9 665.3,2082.4 665.6,2083.9 665.9,2085.7 666.2,2087.2 666.5,2088.6 666.8,2090.3 667.1,2091.5 667.4,2092.4 667.8,2093.8 668.1,2095.3 668.4,2096.7 668.8,2098.2 669.2,2099.7 669.6,2101.2 670.0,2102.5 670.4,2104.4 670.8,2106.2 671.2,2107.6 671.6,2109.2 672.0,2110.7 672.5,2112.0 672.9,2113.4 673.3,2114.7 673.7,2116.2 674.2,2117.8 674.6,2119.1 675.1,2120.4 675.5,2121.9 675.9,2123.1 676.4,2124.0 676.8,2125.2 677.3,2126.7 677.8,2128.0 678.2,2129.0 678.7,2130.3 679.2,2131.8 679.6,2133.1 680.1,2134.1 680.7,2135.5 681.4,2137.0 682.1,2138.4 682.8,2139.9 683.4,2141.6 684.1,2143.1 684.8,2144.5 685.5,2145.5 686.2,2146.8 687.0,2148.3 687.7,2149.6 688.4,2150.9 689.1,2152.1 689.8,2153.1 690.5,2154.2 691.3,2155.4 692.0,2156.3 692.7,2157.5 693.4,2158.6 694.1,2159.8 695.2,2161.3 696.2,2162.7 697.2,2164.0 698.3,2165.1 699.3,2166.2 700.3,2167.5 701.3,2168.5 702.4,2169.4 703.4,2170.2 704.5,2170.9 705.7,2171.8 706.9,2172.4 708.1,2172.6 709.4,2172.6 710.8,2172.8 712.2,2173.0 713.7,2173.2 715.2,2173.1 716.7,2172.8 718.2,2172.4 719.7,2172.0 721.2,2171.7 722.7,2171.2 724.1,2170.8 725.5,2170.7 726.8,2170.4 728.2,2169.9 729.6,2169.4 730.8,2169.2 732.0,2169.3 733.2,2169.1 734.4,2168.8 735.6,2168.1 736.8,2167.4 738.0,2166.6 739.4,2165.8 740.8,2164.4 741.6,2163.9 742.5,2163.2 743.4,2162.0 744.3,2160.9 745.3,2159.9 746.2,2159.1 747.2,2158.3 748.2,2157.2 749.2,2156.0 750.1,2155.1 751.1,2154.1 752.1,2152.7 753.1,2151.4 754.1,2150.3 755.0,2148.6 756.0,2147.2 756.9,2146.0 757.8,2144.2 758.7,2142.3 759.5,2140.6 760.0,2139.5 760.6,2138.6 761.1,2137.6 761.6,2136.4 762.2,2135.5 762.7,2134.4 763.2,2132.9 763.7,2131.4 764.2,2130.1 764.7,2128.9 765.2,2127.6 765.7,2126.1 766.1,2124.2 766.6,2122.8 767.1,2121.4 767.5,2120.1 768.0,2118.9 768.5,2117.7 768.9,2116.0 769.3,2114.5 769.8,2112.9 770.2,2111.4 770.6,2110.0 771.1,2108.3 771.5,2106.9 771.9,2105.8 772.3,2104.4 772.7,2102.2 773.1,2100.3 773.5,2098.8 773.8,2097.6 774.2,2096.3 774.5,2095.1 774.8,2093.7 775.1,2092.2 775.4,2090.6 775.7,2088.9 776.0,2087.5 776.3,2086.0 776.5,2084.3 776.8,2083.1 777.1,2081.9 777.3,2080.3 777.6,2078.7 777.8,2077.1 778.1,2075.4 778.3,2074.0 778.6,2072.5 778.9,2071.0 779.1,2069.6 779.4,2068.0 779.6,2066.3 779.9,2065.1 780.1,2064.0 780.4,2062.4 780.6,2060.7 780.9,2059.3 781.2,2058.0 781.4,2056.5 781.7,2054.9 782.0,2053.8 782.3,2052.7 782.6,2051.2 782.9,2049.9 783.3,2048.2 783.8,2046.5 784.3,2044.6 784.7,2042.6 785.2,2040.7 785.7,2039.1 786.2,2037.6 786.7,2035.7 787.2,2033.9 787.7,2032.4 788.2,2031.0 788.7,2029.1 789.2,2027.3 789.7,2025.8 790.2,2024.5 790.7,2023.4 791.2,2022.3 791.7,2021.0 792.2,2019.8 792.7,2018.9 793.1,2018.1 793.6,2017.3 794.1,2016.7 794.5,2016.3 795.4,2015.6 796.2,2015.3 797.0,2015.4 797.8,2016.1 798.6,2017.2 799.3,2018.3 800.1,2020.0 800.9,2022.1 801.6,2024.0 802.4,2026.0 803.1,2028.3 803.9,2030.8 804.2,2031.9 804.4,2033.2 804.7,2034.5 804.9,2035.6 805.2,2036.5 805.4,2037.8 805.7,2039.2 806.0,2040.7 806.2,2042.1 806.5,2043.2 806.7,2044.5 807.0,2046.1 807.3,2047.6 807.5,2049.0 807.8,2050.3 808.1,2051.7 808.3,2053.3 808.6,2054.7 808.8,2056.4 809.1,2057.9 809.3,2059.3 809.6,2061.1 809.9,2062.7 810.1,2064.3 810.4,2066.0 810.6,2067.6 810.9,2069.0 811.1,2070.6 811.3,2072.5 811.6,2074.0 811.8,2075.4 812.1,2077.1 812.3,2078.6 812.5,2080.5 812.8,2082.1 813.0,2083.5 813.2,2084.8 813.4,2086.3 813.6,2087.9 813.8,2089.2 814.0,2090.8 814.2,2092.3 814.4,2093.7 814.6,2095.2 814.7,2096.8 814.9,2098.5 815.1,2100.2 815.3,2101.8 815.5,2103.0 815.6,2104.3 815.8,2105.9 816.0,2107.7 816.2,2109.1 816.3,2110.6 816.5,2111.9 816.7,2113.6 816.8,2115.3 817.0,2116.8 817.2,2118.3 817.3,2119.9 817.5,2121.4 817.7,2122.9 817.8,2124.3 818.0,2125.8 818.2,2127.3 818.3,2128.9 818.5,2130.2 818.7,2131.5 818.8,2132.9 819.0,2134.5 819.2,2135.8 819.3,2137.1 819.5,2138.6 819.7,2139.8 819.9,2141.2 820.0,2142.5 820.2,2143.4 820.5,2145.4 820.7,2147.3 820.9,2149.0 821.1,2150.7 821.4,2152.3 821.6,2154.1 821.8,2155.8 822.0,2157.3 822.2,2159.0 822.4,2160.6 822.6,2162.3 822.8,2163.9 823.0,2165.4 823.2,2166.8 823.4,2168.3 823.7,2169.9 823.9,2171.5 824.2,2173.1 824.4,2174.5 824.7,2175.4 825.0,2176.7 825.3,2177.9 825.7,2179.0 826.0,2180.1 826.4,2181.2 826.8,2182.3 827.2,2183.4 828.1,2185.3 829.2,2186.6 830.3,2187.8 831.5,2188.8 832.7,2189.8 834.0,2190.5 835.3,2190.6 836.7,2190.9 838.1,2191.5 839.5,2192.1 840.9,2192.5 842.2,2192.9 843.6,2193.2 844.9,2193.9 846.2,2194.7 847.5,2195.3 848.8,2196.0 850.1,2196.8 851.5,2197.4 852.9,2197.7 854.2,2198.2 855.6,2199.2 857.0,2200.1 858.3,2200.3 859.7,2200.3 861.0,2200.4 862.3,2200.9 863.6,2201.1 864.9,2200.5 866.1,2200.4 867.3,2200.1 868.4,2200.5 869.5,2200.3 870.7,2199.5 872.0,2199.3 873.3,2198.9 874.8,2197.9 876.3,2197.6 878.1,2197.1 880.0,2196.5 881.1,2196.1 882.2,2195.0 883.4,2194.6 884.6,2194.4 885.8,2194.6 887.0,2194.6 888.3,2194.1 889.6,2194.5 890.9,2194.8 892.3,2194.7 893.7,2195.1 895.1,2195.7 896.6,2196.1 898.1,2196.2 899.6,2195.6 901.1,2195.7 902.7,2196.3 904.4,2196.4 906.0,2196.9 907.7,2197.0 909.5,2196.9 911.2,2196.8 913.0,2197.1 914.9,2197.4 916.1,2197.1 917.4,2196.4 918.7,2195.8 920.0,2196.2 921.3,2196.4 922.7,2196.2 924.1,2195.6 925.5,2195.7 926.9,2195.6 928.3,2195.7 929.8,2196.0 931.3,2196.1 932.7,2196.0 934.2,2195.5 935.8,2195.0 937.3,2194.4 938.8,2193.8 940.4,2193.8 941.9,2193.1 943.5,2192.8 945.1,2192.6 946.6,2192.0 948.2,2191.1 949.8,2190.3 951.4,2190.2 952.9,2190.2 954.5,2190.3 956.1,2190.6 957.6,2190.4 959.2,2190.3 960.8,2190.7 962.3,2191.2 963.9,2191.5 965.4,2191.5 966.9,2191.7 968.4,2192.1 969.9,2192.3 971.4,2192.5 972.9,2192.8 974.4,2192.7 976.0,2192.3 977.5,2192.2 979.0,2192.5 980.6,2192.6 982.2,2192.2 983.8,2191.5 985.3,2191.1 986.9,2190.6 988.5,2190.5 990.1,2190.6 991.7,2189.5 993.2,2189.0 994.8,2189.5 996.4,2190.0 997.9,2190.0 999.5,2190.1 1001.1,2189.9 1002.6,2190.0 1004.1,2190.5 1005.6,2190.8 1007.1,2191.0 1008.6,2191.1 1010.1,2191.0 1011.5,2190.9 1013.0,2191.2 1014.4,2191.3 1015.8,2191.4 1017.1,2191.6 1018.5,2191.4 1019.8,2191.4 1021.1,2191.4 1022.4,2190.7 1023.6,2190.2 1024.8,2190.3 1026.6,2190.4 1028.3,2190.7 1029.9,2190.9 1031.4,2191.2 1032.8,2191.5 1034.1,2191.8 1035.4,2191.9 1036.6,2192.0 1037.8,2192.0 1038.9,2192.3 1040.0,2192.7 1041.2,2192.9 1042.3,2193.0 1043.5,2193.5 1044.8,2194.0 1046.0,2193.8 1047.4,2193.4 1048.8,2193.5 1050.4,2193.2 1052.0,2192.7 1053.8,2192.9 1055.7,2192.5 1057.8,2191.7 1058.9,2191.4 1060.1,2191.0 1061.3,2190.5 1062.6,2189.8 1063.9,2189.6 1065.3,2189.6 1066.7,2189.4 1068.1,2189.0 1069.6,2188.4 1071.1,2188.5 1072.6,2188.9 1074.2,2189.0 1075.7,2189.4 1077.3,2189.1 1079.0,2188.2 1080.6,2187.5 1082.2,2186.9 1083.9,2187.3 1085.6,2187.2 1087.2,2186.3 1088.9,2185.8 1090.6,2185.9 1092.3,2186.2 1093.9,2186.0 1095.6,2185.3 1097.3,2185.1 1098.9,2185.3 1100.6,2185.1 1102.2,2184.8 1103.8,2184.6 1105.3,2184.0 1106.9,2183.8 1108.4,2184.5 1109.9,2185.0 1111.4,2185.0 1112.8,2184.5 1114.2,2184.2 1115.5,2184.4 1116.9,2184.5 1118.1,2184.5 1119.3,2184.5 1120.5,2184.7 1121.6,2184.4 1122.7,2184.0 1123.7,2183.0 1126.3,2182.6 1128.6,2182.8 1130.5,2182.4 1132.3,2182.3 1133.8,2182.5 1135.2,2183.1 1136.4,2184.5 1137.4,2185.7 1138.4,2185.9 1139.4,2186.0 1140.3,2185.8 1141.2,2185.9 1142.2,2186.2 1143.3,2185.9 1144.4,2185.8 1145.7,2186.3 1147.0,2186.9 1148.1,2186.8 1149.2,2186.2 1150.2,2185.7 1151.1,2185.6 1152.0,2185.8 1153.0,2185.6 1154.0,2185.3 1155.0,2185.3 1156.2,2184.6 1157.6,2183.9 1159.1,2184.2 1160.9,2184.7 1162.8,2184.5 1165.1,2184.0 1167.7,2183.2 1168.7,2183.1 1169.8,2182.8 1170.9,2182.2 1172.1,2181.7 1173.3,2181.8 1174.6,2181.2 1176.0,2180.6 1177.3,2180.8 1178.8,2180.7 1180.2,2179.6 1181.7,2179.6 1183.3,2180.3 1184.8,2180.1 1186.4,2179.0 1188.0,2178.4 1189.7,2178.2 1191.3,2178.4 1193.0,2178.2 1194.7,2178.5 1196.4,2179.0 1198.1,2178.2 1199.8,2177.8 1201.5,2178.2 1203.2,2178.4 1204.9,2178.4 1206.6,2178.2 1208.3,2177.5 1210.0,2177.2 1211.6,2177.1 1213.3,2176.9 1214.9,2177.0 1216.5,2176.7 1218.0,2176.0 1219.6,2175.5 1221.1,2175.2 1222.5,2174.7 1224.0,2173.6 1225.3,2173.2 1226.7,2173.2 1228.0,2173.0 1229.2,2172.7 1230.4,2172.6 1231.5,2172.6 1232.6,2172.5 1233.6,2172.5 1236.3,2172.4 1238.7,2172.2 1240.8,2172.1 1242.6,2172.4 1244.2,2173.1 1245.6,2173.5 1246.8,2174.3 1247.9,2175.1 1248.9,2175.3 1249.9,2175.3 1250.9,2176.3 1251.9,2177.5 1253.0,2177.5 1254.2,2177.9 1255.6,2177.7 1256.9,2177.9 1258.2,2178.0 1259.3,2177.3 1260.5,2176.8 1261.6,2175.6 1262.6,2175.2 1263.7,2174.9 1264.9,2174.6 1266.1,2174.4 1267.3,2174.0 1268.7,2173.2 1270.2,2172.0 1271.8,2171.3 1273.5,2171.1 1275.5,2170.4 1277.6,2169.3 1278.7,2169.2 1279.8,2169.7 1281.1,2169.9 1282.4,2169.9 1283.7,2169.4 1285.1,2168.7 1286.5,2168.6 1288.0,2168.3 1289.6,2168.4 1291.1,2168.5 1292.7,2168.7 1294.3,2168.2 1296.0,2167.7 1297.6,2167.6 1299.3,2167.9 1301.0,2168.3 1302.6,2168.2 1304.3,2167.5 1306.0,2167.5 1307.6,2167.9 1309.3,2168.0 1310.9,2168.0 1312.5,2168.0 1314.0,2167.9 1315.6,2167.1 1317.1,2166.1 1318.5,2165.9 1319.9,2166.0 1321.2,2165.5 1322.5,2165.6 1323.8,2166.0 1324.9,2166.1 1326.0,2165.5 1327.0,2164.9 1329.5,2165.1 1331.7,2164.9 1333.6,2165.1 1335.1,2165.5 1336.5,2166.2 1337.7,2166.6 1338.7,2167.1 1339.6,2167.5 1340.5,2167.7 1341.4,2168.1 1342.4,2169.0 1343.5,2169.1 1344.7,2168.5 1345.5,2167.3 1345.9,2166.9 1346.4,2167.5 1346.9,2166.6 1347.8,2165.0 1349.2,2164.3 1351.4,2163.3 1354.5,2161.8 1355.4,2161.8 1356.4,2161.9 1357.4,2160.9 1358.5,2160.1 1359.6,2159.1 1360.8,2158.6 1362.1,2159.0 1363.4,2158.1 1364.7,2156.8 1366.1,2156.1 1367.5,2155.5 1369.0,2155.0 1370.5,2155.1 1372.0,2155.0 1373.6,2154.5 1375.1,2154.1 1376.7,2153.8 1378.3,2153.7 1379.9,2153.3 1381.6,2153.9 1383.2,2154.4 1384.9,2154.4 1386.5,2154.4 1388.2,2153.3 1389.8,2152.8 1391.5,2152.8 1393.1,2152.9 1394.7,2152.6 1396.3,2151.6 1397.9,2150.8 1399.4,2151.1 1401.0,2151.0 1402.5,2150.2 1404.0,2149.4 1405.4,2149.5 1406.8,2149.7 1408.2,2150.0 1409.5,2150.0 1411.1,2149.0 1412.7,2148.6 1414.3,2148.3 1415.9,2147.8 1417.4,2147.7 1419.0,2147.2 1420.6,2146.1 1422.2,2145.6 1423.7,2145.2 1425.3,2144.5 1426.8,2144.6 1428.3,2144.7 1429.8,2144.2 1431.3,2143.6 1432.8,2144.0 1434.2,2143.7 1435.7,2142.6 1437.1,2142.6 1438.5,2142.3 1439.9,2141.4 1441.3,2140.4 1442.6,2139.8 1443.9,2138.9 1445.2,2138.6 1446.4,2138.4 1447.7,2137.8 1448.9,2137.0 1450.1,2136.6 1451.2,2136.2 1452.3,2135.8 1453.4,2135.2 1455.3,2134.8 1457.0,2134.8 1458.6,2135.3 1459.9,2136.6 1461.2,2137.7 1462.3,2137.8 1463.4,2137.8 1464.4,2137.7 1465.4,2138.1 1466.5,2138.7 1467.6,2139.7 1468.9,2140.2 1470.2,2140.6 1471.8,2141.7 1473.5,2142.2 1475.4,2142.7 1476.5,2143.3 1477.7,2143.8 1478.9,2144.0 1480.2,2143.8 1481.4,2143.8 1482.8,2143.9 1484.1,2144.5 1485.5,2145.5 1487.0,2145.6 1488.4,2145.9 1489.9,2145.6 1491.4,2145.7 1492.9,2146.3 1494.4,2146.1 1496.0,2146.2 1497.5,2146.5 1499.1,2146.0 1500.7,2146.0 1502.3,2146.8 1503.8,2147.2 1505.4,2146.8 1507.0,2146.8 1508.6,2147.5 1510.2,2147.1 1511.7,2146.7 1513.3,2147.0 1514.8,2146.9 1516.3,2145.9 1517.8,2146.1 1519.3,2146.9 1520.8,2146.9 1522.3,2146.4 1523.8,2146.1 1525.3,2146.1 1526.8,2145.7 1528.4,2144.8 1529.9,2144.3 1531.5,2144.1 1533.0,2143.3 1534.6,2142.5 1536.1,2142.2 1537.7,2142.0 1539.2,2142.4 1540.8,2142.4 1542.3,2141.9 1543.9,2142.0 1545.4,2142.5 1546.9,2143.0 1548.4,2143.1 1549.9,2143.0 1551.3,2143.1 1552.7,2143.4 1554.2,2143.2 1555.6,2142.6 1556.9,2142.0 1558.3,2142.1 1559.6,2142.0 1560.8,2141.5 1562.1,2140.7 1563.3,2140.4 1565.1,2140.9 1566.9,2140.9 1568.6,2140.3 1570.3,2139.6 1571.9,2139.3 1573.4,2139.3 1574.9,2139.3 1576.3,2138.7 1577.7,2137.9 1579.1,2137.4 1580.5,2137.4 1581.8,2137.6 1583.1,2137.1 1584.4,2137.0 1585.7,2136.7 1586.9,2136.3 1588.2,2135.4 1589.5,2135.0 1590.8,2134.3 1592.4,2133.9 1593.9,2133.7 1595.4,2133.4 1596.8,2133.6 1598.1,2134.3 1599.4,2134.9 1600.7,2134.5 1602.1,2134.5 1603.4,2135.5 1604.8,2135.9 1606.2,2135.4 1607.7,2136.0 1609.3,2136.2 1610.9,2136.7 1612.7,2138.2 1613.9,2139.4 1615.2,2139.8 1616.5,2139.7 1617.9,2139.9 1619.4,2140.7 1620.9,2141.7 1622.5,2142.7 1624.1,2143.4 1625.7,2143.9 1627.3,2144.4 1629.0,2144.7 1630.6,2145.1 1632.2,2146.2 1633.7,2147.2 1635.3,2147.2 1636.7,2147.2 1638.2,2148.4 1639.5,2149.2 1640.8,2150.6 1642.0,2151.4 1643.1,2151.6 1644.1,2151.7 1644.9,2151.3 1645.7,2151.3" fill="none" stroke="#000" stroke-width="3.9" stroke-linejoin="round" stroke-linecap="round"/>
<path d="M132.7,2506.5 133.4,2505.4 134.3,2504.9 135.3,2504.4 136.5,2503.1 137.8,2501.3 139.1,2500.1 140.4,2498.9 141.6,2497.7 142.7,2496.9 143.7,2496.9 145.1,2496.7 146.2,2497.0 147.2,2497.8 148.3,2499.0 149.3,2500.0 150.6,2501.0 151.3,2501.9 152.0,2503.2 152.6,2504.1 153.3,2505.6 154.1,2507.1 154.8,2508.3 155.6,2509.7 156.4,2511.3 157.3,2513.0 158.2,2514.3 159.1,2515.5 160.2,2516.2 161.3,2516.6 162.5,2516.7 163.8,2516.7 165.1,2516.3 166.4,2515.8 167.8,2515.8 169.3,2515.6 170.7,2515.1 172.2,2514.2 173.7,2513.4 175.2,2512.7 176.7,2512.3 178.0,2513.0 179.3,2513.7 180.7,2513.7 182.1,2513.9 183.5,2514.7 184.9,2515.2 186.3,2515.7 187.7,2516.2 189.1,2516.9 190.5,2517.4 191.9,2517.7 193.3,2518.5 194.6,2519.3 195.9,2520.1 197.2,2520.7 198.5,2521.7 199.7,2522.5 200.8,2523.1 201.9,2523.5 203.1,2524.3 204.2,2524.9 205.4,2525.3 206.6,2526.1 207.9,2526.8 209.3,2527.4 210.8,2528.1 212.4,2528.7 213.5,2529.4 214.8,2530.0 216.0,2530.2 217.4,2530.7 218.8,2531.5 220.2,2532.0 221.6,2532.4 223.1,2532.9 224.6,2533.4 226.2,2534.0 227.7,2534.4 229.2,2534.8 230.7,2534.9 232.1,2535.3 233.5,2536.3 234.9,2537.1 236.3,2537.5 237.5,2537.9 238.8,2537.9 239.9,2537.8 241.6,2537.6 243.2,2537.8 244.7,2537.9 246.0,2537.4 247.3,2536.5 248.5,2536.0 249.7,2535.7 250.9,2534.9 252.1,2534.2 253.5,2533.5 254.9,2533.1 256.4,2532.8 257.6,2532.3 258.9,2531.7 260.3,2531.2 261.6,2530.7 263.1,2530.4 264.5,2530.3 265.9,2529.9 267.4,2529.1 268.9,2528.2 270.3,2527.8 271.8,2527.5 273.2,2526.8 274.5,2526.1 275.9,2526.0 277.2,2525.6 278.4,2524.3 279.5,2523.6 280.6,2523.0 281.7,2521.8 282.7,2520.6 283.7,2519.6 284.7,2518.5 285.7,2517.2 286.6,2515.9 287.6,2514.4 288.5,2513.5 289.4,2512.4 290.3,2511.2 291.2,2510.1 292.1,2509.2 293.0,2508.4 293.9,2507.3 294.8,2506.4 296.3,2505.2 297.7,2504.4 299.1,2503.9 300.5,2503.3 301.9,2502.9 303.2,2502.7 304.5,2502.6 305.9,2502.7 307.2,2502.4 308.6,2501.6 310.0,2501.4 311.4,2501.5 312.8,2501.2 314.2,2500.6 315.6,2499.6 317.0,2499.4 318.4,2499.6 319.7,2499.7 321.0,2499.8 322.3,2500.1 323.3,2500.5 324.3,2501.0 325.1,2501.9 325.9,2502.9 326.7,2503.8 327.5,2504.7 328.4,2505.3 329.4,2506.9 330.5,2508.7 331.8,2510.1 333.3,2511.2 334.2,2511.5 335.2,2511.9 336.3,2512.8 337.4,2513.7 338.6,2514.0 339.9,2514.6 341.1,2515.4 342.5,2516.4 343.8,2517.5 345.1,2518.4 346.5,2519.3 347.9,2520.5 349.2,2521.2 350.6,2521.7 351.9,2522.2 353.2,2523.1 354.5,2524.5 355.7,2525.7 356.9,2526.2 358.0,2526.8 359.2,2527.8 360.3,2528.8 361.4,2529.7 362.5,2530.8 363.5,2532.4 364.5,2534.1 365.5,2535.3 366.5,2536.4 367.5,2537.3 368.5,2538.5 369.5,2539.6 370.5,2540.5 371.5,2541.4 372.6,2542.3 373.7,2543.2 374.8,2543.7 376.0,2544.5 377.3,2545.1 378.6,2545.4 379.8,2545.3 381.2,2545.0 382.5,2544.8 383.9,2544.6 385.4,2544.2 386.8,2543.7 388.3,2543.3 389.7,2542.7 391.2,2542.2 392.7,2541.9 394.3,2541.3 395.8,2541.1 397.3,2541.0 398.8,2540.6 400.3,2540.0 401.8,2539.7 403.2,2539.6 404.7,2539.8 406.2,2539.7 407.6,2539.3 409.1,2538.9 410.6,2538.7 412.1,2538.8 413.6,2538.7 415.1,2538.6 416.6,2538.6 418.0,2538.1 419.5,2537.9 421.0,2538.0 422.5,2538.3 423.9,2538.5 425.4,2538.6 426.8,2538.6 428.2,2538.6 429.5,2539.2 430.9,2539.3 432.2,2539.1 433.8,2539.4 435.4,2539.8 437.0,2539.8 438.5,2539.7 439.9,2539.9 441.4,2539.9 442.8,2539.5 444.3,2539.4 445.7,2539.8 447.1,2540.3 448.5,2540.5 449.9,2540.4 451.3,2540.5 452.7,2540.4 454.2,2540.0 455.7,2539.7 457.2,2539.7 458.6,2540.0 460.1,2540.3 461.6,2540.0 463.1,2539.5 464.6,2539.4 466.1,2539.6 467.6,2539.4 469.1,2539.0 470.5,2539.0 472.0,2538.8 473.4,2538.3 474.8,2537.6 476.2,2537.0 477.4,2536.0 478.6,2535.1 479.8,2534.5 481.0,2534.3 482.1,2533.6 483.3,2532.3 484.4,2531.3 485.6,2530.4 486.7,2529.5 487.8,2528.5 489.0,2527.3 490.1,2526.0 491.1,2524.6 492.2,2523.2 493.3,2521.9 494.4,2521.1 495.4,2520.2 496.3,2519.3 497.3,2518.2 498.2,2516.9 499.2,2515.9 500.2,2515.1 501.1,2513.9 502.1,2512.5 503.0,2511.5 503.9,2510.6 504.8,2509.5 505.7,2508.3 506.6,2507.1 507.4,2506.0 508.2,2504.9 509.0,2503.9 509.7,2502.1 510.4,2500.7 511.1,2499.8 511.7,2498.3 512.4,2496.7 512.9,2495.3 513.4,2493.7 513.9,2492.8 514.3,2491.8 514.6,2490.5 515.0,2489.3 515.3,2488.4 515.5,2487.0 515.8,2485.5 516.0,2484.0 516.3,2482.3 516.6,2480.5 516.8,2478.5 517.2,2476.7 517.5,2474.9 517.7,2474.0 517.9,2472.8 518.0,2471.3 518.2,2469.9 518.4,2468.6 518.6,2467.5 518.8,2466.3 519.0,2464.9 519.1,2463.3 519.3,2461.5 519.5,2459.9 519.7,2458.1 519.9,2456.4 520.0,2455.1 520.2,2453.7 520.4,2452.2 520.6,2450.5 520.8,2448.6 521.0,2447.0 521.1,2445.6 521.3,2444.1 521.5,2442.5 521.7,2440.8 521.9,2439.4 522.0,2438.2 522.2,2436.8 522.4,2435.2 522.6,2433.9 522.8,2432.4 522.9,2431.0 523.1,2430.0 523.3,2428.6 523.6,2426.6 523.9,2425.0 524.3,2423.3 524.6,2421.4 524.9,2419.5 525.2,2417.8 525.5,2416.3 525.8,2414.6 526.1,2413.4 526.5,2412.4 526.8,2411.2 527.1,2410.0 527.4,2408.6 527.7,2407.2 528.0,2406.0 528.4,2404.8 528.7,2404.0 529.0,2403.1 529.6,2400.9 530.3,2399.1 530.9,2397.3 531.6,2395.5 532.2,2393.9 532.9,2393.0 533.5,2392.2 534.2,2391.4 534.8,2391.0 535.6,2391.0 536.5,2391.3 537.3,2392.3 538.1,2393.5 539.0,2395.1 539.8,2397.3 540.6,2400.2 540.8,2401.4 541.1,2402.1 541.3,2403.0 541.6,2404.5 541.8,2405.8 542.0,2407.0 542.3,2408.5 542.5,2410.2 542.7,2411.8 543.0,2413.5 543.2,2415.1 543.5,2416.6 543.7,2418.4 543.9,2420.0 544.2,2421.6 544.4,2423.1 544.6,2424.9 544.9,2426.6 545.1,2428.3 545.3,2429.6 545.6,2431.1 545.8,2432.5 546.1,2433.7 546.3,2434.8 546.7,2436.3 547.1,2437.8 547.5,2439.6 547.8,2441.6 548.2,2443.3 548.6,2444.8 549.0,2446.1 549.4,2447.5 549.8,2448.8 550.2,2450.1 550.6,2451.4 550.9,2452.4 551.3,2453.2 551.7,2454.0 552.1,2454.8 553.4,2456.7 554.7,2457.2 556.1,2456.9 557.9,2456.2 558.8,2455.6 559.9,2454.9 561.1,2454.3 562.3,2453.4 563.5,2452.2 564.7,2450.9 565.9,2449.8 567.0,2449.4 568.0,2449.3 569.2,2449.4 570.2,2449.8 571.2,2450.6 572.2,2452.0 573.1,2453.7 574.1,2454.9 575.2,2456.1 576.1,2457.1 576.9,2458.1 577.7,2459.0 578.6,2460.1 579.5,2461.2 580.4,2462.1 581.5,2462.9 582.6,2463.7 583.8,2464.6 584.9,2465.6 586.2,2466.4 587.5,2467.3 588.9,2468.4 590.3,2469.6 591.8,2470.5 593.2,2471.4 594.6,2472.0 595.9,2472.3 597.2,2472.6 598.3,2472.6 599.5,2472.4 600.6,2472.2 601.5,2471.7 602.4,2470.9 603.2,2469.9 604.0,2468.6 604.9,2467.3 605.8,2465.7 606.9,2463.4 607.4,2462.2 607.9,2461.5 608.4,2460.3 608.9,2458.9 609.5,2457.5 610.0,2456.1 610.5,2454.8 611.1,2453.4 611.7,2451.8 612.2,2450.3 612.8,2448.7 613.4,2447.2 614.0,2445.7 614.5,2444.3 615.1,2442.9 615.7,2441.3 616.3,2440.0 616.8,2438.6 617.4,2437.0 617.9,2435.8 618.5,2434.6 619.3,2433.0 620.1,2431.6 620.9,2430.0 621.7,2428.5 622.5,2427.4 623.3,2426.1 624.1,2424.8 624.9,2423.6 625.7,2421.9 626.5,2420.5 627.2,2419.5 628.0,2418.5 628.7,2417.6 629.4,2416.6 630.0,2415.8 631.3,2414.2 632.4,2412.6 633.4,2411.4 634.3,2410.8 635.3,2410.5 636.2,2410.3 637.2,2410.4 638.2,2410.8 639.2,2411.2 640.2,2411.8 641.2,2412.8 642.2,2414.3 643.3,2416.0 644.4,2417.7 645.0,2418.5 645.7,2419.6 646.4,2421.0 647.1,2422.6 647.8,2424.1 648.5,2425.3 649.2,2426.9 649.9,2428.5 650.6,2430.0 651.3,2431.4 651.9,2432.7 652.5,2433.8 653.1,2434.7 654.3,2436.2 655.3,2437.0 656.2,2437.1 657.3,2437.2 658.8,2436.8 659.7,2436.6 660.8,2436.0 661.9,2435.3 663.2,2434.3 664.4,2433.2 665.7,2432.4 667.0,2431.5 668.2,2430.4 669.3,2429.4 670.4,2428.9 671.6,2428.1 672.8,2427.0 674.0,2425.8 675.1,2424.8 676.1,2424.0 677.1,2423.0 678.1,2422.0 679.0,2421.4 680.6,2421.1 681.9,2421.1 683.2,2421.1 684.8,2421.5 685.9,2422.1 687.2,2422.7 688.5,2423.5 689.8,2424.0 691.1,2424.4 692.4,2424.5 693.5,2424.3 694.2,2423.8 694.8,2423.1 695.4,2422.5 696.0,2421.7 696.5,2420.7 697.1,2419.7 697.6,2418.2 698.1,2416.2 698.6,2413.9 699.2,2411.2 699.4,2410.3 699.6,2409.4 699.8,2408.4 700.0,2407.1 700.2,2405.8 700.4,2404.7 700.6,2403.5 700.8,2402.3 701.1,2400.9 701.3,2399.3 701.5,2398.0 701.7,2396.3 701.9,2394.5 702.1,2392.8 702.3,2391.3 702.5,2389.9 702.7,2388.4 702.9,2386.6 703.1,2384.9 703.3,2383.3 703.5,2381.8 703.8,2380.2 704.0,2378.7 704.2,2377.1 704.4,2375.6 704.6,2374.2 704.8,2372.9 705.0,2371.6 705.2,2369.6 705.4,2367.8 705.6,2366.5 705.8,2365.3 706.0,2363.8 706.2,2362.4 706.4,2360.8 706.6,2359.2 706.8,2357.6 707.0,2356.3 707.1,2354.8 707.3,2353.2 707.5,2352.0 707.7,2350.6 707.9,2348.7 708.1,2346.9 708.3,2345.5 708.5,2344.2 708.7,2343.0 708.9,2341.6 709.2,2339.9 709.4,2338.3 709.6,2336.9 709.8,2335.7 710.1,2334.4 710.3,2333.0 710.5,2332.0 710.8,2331.1 711.2,2329.3 711.6,2327.3 712.0,2325.4 712.5,2323.8 712.9,2322.1 713.4,2320.5 713.8,2319.0 714.3,2317.7 714.8,2316.7 715.3,2315.3 715.7,2313.8 716.2,2312.4 716.7,2311.3 717.2,2310.0 717.6,2308.8 718.1,2307.6 718.5,2306.6 719.0,2305.5 719.4,2304.6 720.5,2302.5 721.6,2300.8 722.6,2299.6 723.6,2298.7 724.6,2298.1 725.6,2298.0 726.6,2297.8 727.6,2297.7 728.6,2298.0 729.6,2298.5 730.6,2299.2 731.6,2300.2 732.7,2301.5 733.8,2303.5 734.2,2304.4 734.7,2305.2 735.2,2306.3 735.6,2307.7 736.1,2309.0 736.6,2310.0 737.1,2311.0 737.6,2312.3 738.1,2314.0 738.6,2315.5 739.0,2317.0 739.5,2318.7 740.0,2320.2 740.5,2321.7 741.0,2323.2 741.5,2325.0 742.0,2326.7 742.5,2328.2 742.9,2329.3 743.3,2330.5 743.7,2332.0 744.1,2333.6 744.5,2335.0 745.0,2336.4 745.4,2338.1 745.8,2339.7 746.2,2341.1 746.6,2342.6 747.0,2344.2 747.4,2346.0 747.9,2347.8 748.3,2349.4 748.7,2350.7 749.0,2352.3 749.4,2353.6 749.8,2354.8 750.2,2356.0 750.5,2357.3 750.9,2358.4 751.2,2359.6 751.9,2361.8 752.4,2363.9 752.9,2365.8 753.4,2367.3 753.9,2368.7 754.3,2370.1 754.9,2371.0 755.4,2371.8 756.1,2372.5 756.9,2372.8 757.8,2372.5 758.7,2371.8 759.8,2371.3 760.9,2370.7 762.1,2369.5 763.3,2368.1 764.5,2366.6 765.6,2365.4 766.7,2364.3 767.6,2363.3 768.5,2362.3 770.0,2361.2 771.1,2360.9 772.0,2360.8 773.0,2360.2 774.2,2358.3 774.7,2357.3 775.1,2356.2 775.6,2355.1 776.2,2354.0 776.7,2352.7 777.2,2351.5 777.8,2350.2 778.4,2348.9 778.9,2347.7 779.5,2346.1 780.1,2344.6 780.7,2343.2 781.2,2341.4 781.8,2339.6 782.4,2338.0 782.9,2336.6 783.3,2335.1 783.7,2333.6 784.2,2332.5 784.6,2331.0 785.0,2329.5 785.4,2328.1 785.9,2326.5 786.3,2325.0 786.7,2323.8 787.2,2322.5 787.6,2321.0 788.0,2319.4 788.4,2317.8 788.8,2316.5 789.2,2315.3 789.6,2313.9 790.0,2312.4 790.4,2311.0 790.8,2309.8 791.2,2308.7 791.5,2307.5 792.1,2305.6 792.7,2303.7 793.3,2301.7 793.8,2300.4 794.3,2298.9 794.8,2297.4 795.3,2296.1 795.8,2295.2 796.3,2294.4 796.8,2293.8 797.3,2293.4 798.1,2293.0 798.9,2292.9 799.6,2293.0 800.4,2294.0 801.2,2295.7 802.1,2297.8 803.1,2300.4 803.4,2301.1 803.7,2302.1 804.0,2303.2 804.3,2304.4 804.6,2305.4 805.0,2306.5 805.3,2307.9 805.6,2309.5 806.0,2311.0 806.3,2312.3 806.7,2313.7 807.0,2315.1 807.4,2316.5 807.8,2318.1 808.1,2319.8 808.5,2321.4 808.8,2323.1 809.2,2324.8 809.6,2326.6 809.9,2328.1 810.3,2329.6 810.6,2331.3 811.0,2333.2 811.4,2334.9 811.7,2336.5 812.0,2337.7 812.2,2338.9 812.5,2340.3 812.7,2341.6 813.0,2342.9 813.2,2344.5 813.5,2346.1 813.7,2347.3 814.0,2348.6 814.3,2350.0 814.5,2351.4 814.8,2353.0 815.0,2354.3 815.3,2355.6 815.5,2357.1 815.8,2358.7 816.0,2360.3 816.3,2361.7 816.6,2363.2 816.8,2364.5 817.1,2366.1 817.3,2367.8 817.6,2369.4 817.8,2370.9 818.1,2372.5 818.4,2374.0 818.6,2375.4 818.9,2376.9 819.1,2378.4 819.4,2379.6 819.6,2380.7 819.9,2382.2 820.1,2384.0 820.4,2385.7 820.7,2387.2 820.9,2388.7 821.2,2390.2 821.4,2391.6 821.7,2392.9 821.9,2394.4 822.2,2395.7 822.4,2397.1 822.7,2398.6 822.9,2400.2 823.2,2402.2 823.4,2403.9 823.7,2405.1 823.9,2406.3 824.2,2407.7 824.4,2409.4 824.7,2410.8 825.0,2412.1 825.2,2413.6 825.5,2415.3 825.7,2416.8 826.0,2418.3 826.2,2419.6 826.5,2421.0 826.7,2422.8 827.0,2424.2 827.2,2425.3 827.5,2426.5 827.7,2427.9 828.0,2429.5 828.2,2430.9 828.5,2432.2 828.7,2433.5 829.0,2434.7 829.4,2436.5 829.7,2438.1 830.1,2439.7 830.4,2441.5 830.8,2443.2 831.1,2444.8 831.4,2446.5 831.8,2447.9 832.1,2449.6 832.5,2451.2 832.8,2452.6 833.2,2454.3 833.5,2455.8 833.9,2457.0 834.2,2458.3 834.6,2459.8 835.0,2461.3 835.3,2462.7 835.7,2463.8 836.1,2464.9 836.5,2466.2 836.9,2467.4 837.3,2468.3 837.7,2468.9 838.6,2470.7 839.6,2472.4 840.6,2473.9 841.7,2475.0 842.7,2475.8 843.8,2476.6 844.9,2477.3 846.0,2477.8 847.1,2478.6 848.1,2479.8 849.2,2480.9 850.2,2482.0 851.2,2483.2 852.2,2484.3 853.2,2485.4 854.1,2486.5 855.1,2487.4 856.2,2488.2 857.2,2489.3 858.3,2490.4 859.5,2491.3 860.8,2492.3 861.9,2492.7 863.1,2493.0 864.3,2493.8 865.6,2494.5 866.8,2495.0 868.1,2494.8 869.5,2495.5 870.9,2496.8 872.3,2497.7 873.7,2498.3 875.1,2498.9 876.6,2498.7 878.1,2498.8 879.4,2499.2 880.8,2499.2 882.3,2499.5 883.8,2499.8 885.3,2499.5 886.9,2499.3 888.4,2499.3 890.0,2499.7 891.5,2500.2 893.0,2500.5 894.5,2500.7 896.0,2501.0 897.4,2500.8 898.7,2500.7 900.0,2501.0 901.6,2501.8 903.0,2502.1 904.2,2502.2 905.4,2502.5 906.5,2503.4 907.7,2503.8 908.8,2503.3 910.1,2503.7 911.5,2504.3 913.1,2504.7 914.9,2505.2 916.1,2505.3 917.3,2505.6 918.6,2506.1 920.0,2506.5 921.4,2506.4 922.8,2506.5 924.3,2506.8 925.9,2507.0 927.4,2507.0 929.0,2507.1 930.6,2507.8 932.1,2508.1 933.7,2507.7 935.2,2507.7 936.8,2507.4 938.2,2507.2 939.7,2508.1 941.1,2508.3 942.4,2507.8 943.9,2506.8 945.5,2505.2 947.0,2503.9 948.5,2503.7 950.1,2503.2 951.5,2502.1 953.0,2501.3 954.4,2500.8 955.8,2499.8 957.2,2498.6 958.5,2497.9 959.8,2497.9 961.0,2497.1 962.2,2495.9 963.3,2494.8 964.4,2494.2 966.3,2494.2 967.8,2495.6 969.1,2497.0 970.2,2498.0 971.4,2499.1 972.5,2500.1 973.8,2500.6 975.4,2500.1 976.6,2500.2 977.8,2500.8 979.0,2500.7 980.3,2500.1 981.6,2499.6 983.0,2499.7 984.4,2499.1 985.8,2498.2 987.3,2497.6 988.8,2497.5 990.3,2497.2 991.9,2497.0 993.2,2497.1 994.5,2496.6 995.8,2495.5 997.2,2494.5 998.6,2494.1 1000.0,2493.4 1001.4,2492.5 1002.9,2492.8 1004.4,2493.3 1005.9,2493.7 1007.4,2493.3 1009.0,2492.9 1010.6,2492.7 1012.2,2492.5 1013.8,2492.5 1015.1,2492.4 1016.4,2491.9 1017.7,2491.8 1019.0,2491.3 1020.4,2491.0 1021.7,2490.9 1023.0,2491.1 1024.4,2491.2 1025.8,2490.5 1027.2,2489.4 1028.7,2488.8 1030.1,2488.7 1031.6,2488.8 1033.1,2488.9 1034.7,2488.7 1036.3,2488.6 1037.9,2489.0 1039.6,2489.0 1041.3,2488.9 1042.5,2488.4 1043.8,2488.3 1045.1,2488.3 1046.4,2488.1 1047.8,2487.9 1049.1,2488.1 1050.5,2488.2 1051.9,2489.1 1053.3,2490.1 1054.8,2490.3 1056.2,2490.2 1057.7,2490.3 1059.1,2490.8 1060.6,2490.7 1062.1,2490.8 1063.6,2491.6 1065.1,2492.4 1066.6,2492.9 1068.1,2493.9 1069.6,2494.8 1071.0,2495.0 1072.5,2495.1 1074.0,2495.2 1075.5,2495.2 1076.9,2495.9 1078.4,2496.9 1079.8,2496.8 1081.3,2496.0 1082.8,2496.2 1084.2,2496.7 1085.7,2497.2 1087.2,2497.2 1088.7,2497.0 1090.1,2497.0 1091.6,2497.3 1093.1,2497.4 1094.6,2497.4 1096.0,2497.1 1097.5,2496.8 1099.0,2497.1 1100.5,2497.0 1102.0,2496.7 1103.4,2496.5 1104.9,2496.5 1106.4,2496.3 1107.9,2496.0 1109.3,2495.4 1110.8,2494.8 1112.3,2494.1 1113.8,2493.4 1115.2,2493.4 1116.7,2494.0 1118.2,2494.3 1119.6,2494.1 1121.1,2493.7 1122.5,2494.4 1123.9,2495.2 1125.4,2495.5 1126.9,2495.7 1128.3,2495.9 1129.8,2497.0 1131.2,2497.9 1132.7,2498.0 1134.1,2498.5 1135.6,2498.8 1137.1,2499.5 1138.5,2500.3 1140.0,2500.3 1141.4,2500.5 1142.8,2500.6 1144.3,2500.7 1145.7,2500.6 1147.1,2499.9 1148.5,2499.8 1149.9,2499.5 1151.3,2499.8 1152.7,2500.3 1154.0,2500.4 1155.4,2501.0 1156.7,2501.9 1158.2,2502.6 1159.7,2503.2 1161.2,2502.3 1162.6,2501.4 1164.0,2500.7 1165.4,2501.1 1166.8,2501.4 1168.2,2501.5 1169.5,2501.1 1170.8,2500.4 1172.2,2499.9 1173.5,2500.2 1174.9,2499.7 1176.3,2499.1 1177.6,2499.1 1179.0,2498.5 1180.5,2498.1 1181.9,2497.8 1183.4,2497.8 1184.9,2498.1 1186.5,2499.2 1188.1,2498.9 1189.7,2498.2 1191.0,2497.9 1192.4,2497.9 1193.7,2497.7 1195.2,2497.2 1196.6,2496.6 1198.1,2496.4 1199.7,2496.0 1201.2,2496.2 1202.8,2496.3 1204.3,2496.0 1205.9,2496.2 1207.5,2496.6 1209.1,2497.2 1210.7,2496.9 1212.3,2496.9 1213.9,2497.1 1215.5,2497.2 1217.1,2497.2 1218.6,2497.2 1220.2,2497.4 1221.7,2497.7 1223.2,2498.0 1224.6,2498.1 1226.0,2497.9 1227.4,2498.0 1228.8,2497.5 1230.0,2496.9 1231.3,2496.8 1232.5,2496.7 1233.6,2496.7 1235.7,2496.6 1237.5,2496.6 1239.0,2496.6 1240.5,2496.0 1241.7,2495.4 1242.9,2495.2 1244.0,2495.0 1245.1,2495.2 1246.3,2495.2 1247.4,2495.0 1248.7,2495.3 1250.1,2495.6 1251.7,2495.3 1253.5,2494.9 1255.6,2495.1 1256.7,2495.3 1257.9,2495.9 1259.2,2495.9 1260.5,2496.0 1261.9,2496.2 1263.3,2495.7 1264.7,2494.8 1266.2,2494.0 1267.7,2493.9 1269.3,2494.0 1270.8,2494.0 1272.4,2494.1 1274.0,2494.8 1275.6,2495.2 1277.3,2494.6 1278.9,2494.4 1280.5,2494.9 1282.1,2495.4 1283.8,2495.8 1285.3,2495.6 1286.9,2495.3 1288.5,2495.2 1290.0,2495.4 1291.5,2495.1 1293.0,2495.6 1294.4,2496.5 1295.8,2496.7 1297.1,2496.7 1298.4,2496.6 1299.6,2496.5 1301.4,2497.1 1303.2,2497.9 1304.9,2498.2 1306.5,2498.1 1308.0,2498.7 1309.5,2499.4 1310.9,2499.8 1312.3,2500.2 1313.7,2499.8 1315.0,2499.4 1316.3,2499.9 1317.6,2500.5 1318.9,2500.8 1320.2,2501.1 1321.5,2501.3 1322.8,2501.0 1324.2,2500.5 1325.6,2500.1 1327.0,2500.2 1328.4,2500.8 1329.9,2500.9 1331.3,2500.2 1332.7,2499.6 1334.1,2499.3 1335.5,2499.1 1336.9,2498.7 1338.3,2498.4 1339.7,2498.2 1341.1,2497.6 1342.5,2497.4 1344.0,2497.3 1345.4,2497.0 1346.9,2496.2 1348.3,2495.5 1349.8,2495.0 1351.4,2494.4 1352.9,2494.1 1354.5,2494.1 1355.8,2494.2 1357.2,2492.9 1358.5,2492.8 1359.8,2493.6 1361.2,2493.3 1362.6,2493.2 1364.0,2494.2 1365.4,2494.9 1366.8,2494.7 1368.2,2494.5 1369.6,2494.0 1371.0,2494.0 1372.5,2494.4 1373.9,2494.3 1375.4,2493.9 1376.9,2493.5 1378.4,2493.3 1379.9,2493.0 1381.4,2492.8 1382.9,2492.6 1384.4,2492.4 1386.0,2491.9 1387.5,2492.2 1388.8,2492.4 1390.2,2491.6 1391.5,2490.8 1392.9,2490.3 1394.3,2490.1 1395.7,2489.9 1397.1,2490.1 1398.5,2490.1 1399.9,2490.0 1401.3,2489.7 1402.8,2489.4 1404.2,2489.1 1405.6,2488.6 1407.1,2488.1 1408.5,2486.7 1410.0,2485.2 1411.4,2484.6 1412.9,2484.0 1414.3,2483.3 1415.8,2482.9 1417.3,2482.6 1418.7,2482.3 1420.2,2481.5 1421.6,2480.8 1423.0,2480.4 1424.5,2479.6 1425.9,2479.3 1427.4,2479.7 1428.8,2480.1 1430.3,2480.3 1431.7,2480.5 1433.1,2479.8 1434.6,2479.8 1436.0,2480.2 1437.4,2479.7 1438.8,2479.7 1440.2,2479.2 1441.6,2478.7 1443.0,2479.4 1444.5,2479.6 1445.9,2479.8 1447.3,2480.0 1448.8,2480.3 1450.3,2481.0 1451.7,2481.5 1453.2,2481.1 1454.8,2480.9 1456.3,2481.3 1457.9,2480.9 1459.5,2480.3 1461.1,2480.8 1462.7,2481.0 1464.4,2480.7 1465.7,2480.8 1467.1,2481.5 1468.5,2481.3 1470.0,2480.5 1471.5,2480.2 1472.9,2480.0 1474.5,2480.0 1476.0,2480.0 1477.5,2479.6 1479.1,2478.9 1480.7,2478.8 1482.3,2478.7 1483.8,2478.2 1485.4,2478.3 1487.0,2478.8 1488.6,2479.0 1490.2,2479.1 1491.8,2478.7 1493.4,2478.6 1495.0,2478.8 1496.6,2479.1 1498.1,2479.9 1499.7,2480.1 1501.2,2479.8 1502.7,2479.8 1504.2,2480.3 1505.7,2479.8 1507.1,2478.7 1508.5,2478.5 1509.9,2478.2 1511.2,2478.4 1512.5,2479.0 1513.8,2479.5 1515.5,2480.2 1517.2,2480.4 1518.8,2480.7 1520.2,2481.2 1521.7,2481.9 1523.0,2481.8 1524.3,2481.8 1525.6,2481.8 1526.9,2481.9 1528.1,2481.6 1529.3,2481.6 1530.6,2482.0 1531.8,2481.7 1533.1,2481.1 1534.3,2481.2 1535.7,2482.0 1537.0,2482.6 1538.5,2482.9 1540.0,2483.6 1541.5,2483.6 1543.2,2483.2 1544.9,2483.1 1546.8,2483.7 1548.0,2483.8 1549.3,2483.6 1550.6,2484.3 1552.0,2484.7 1553.4,2484.6 1554.9,2484.1 1556.4,2483.7 1557.9,2483.1 1559.5,2483.4 1561.1,2483.5 1562.7,2483.5 1564.4,2483.5 1566.0,2483.0 1567.7,2482.7 1569.4,2482.3 1571.1,2481.9 1572.8,2481.8 1574.5,2482.1 1576.2,2482.0 1577.9,2480.9 1579.5,2480.2 1581.2,2480.4 1582.8,2480.6 1584.4,2480.2 1586.0,2479.7 1587.6,2479.6 1589.1,2479.4 1590.6,2479.4 1592.1,2479.4 1593.5,2479.5 1594.8,2479.6 1596.1,2479.7 1597.4,2480.0 1598.6,2479.5 1599.7,2479.1 1600.8,2479.6 1601.8,2479.7 1604.5,2479.5 1606.6,2479.6 1608.4,2480.2 1609.7,2480.8 1610.8,2481.3 1611.8,2481.9 1612.6,2482.3 1613.4,2482.8 1614.3,2483.1 1615.3,2483.7 1616.6,2484.0 1618.2,2483.8 1619.5,2483.4 1620.9,2482.7 1622.4,2482.8 1624.0,2483.0 1625.6,2483.1 1627.4,2483.1 1629.1,2483.5 1630.9,2483.7 1632.6,2483.4 1634.4,2483.7 1636.0,2484.0 1637.7,2484.0 1639.2,2483.8 1640.6,2483.4 1642.0,2483.2 1643.1,2483.1 1644.2,2483.5 1645.0,2483.7" fill="none" stroke="#0a24ff" stroke-width="4.3" stroke-linejoin="round" stroke-linecap="round"/>
<path d="M132.7,2810.2 133.1,2809.5 133.7,2808.4 134.4,2806.8 135.2,2805.4 136.0,2804.2 136.9,2803.0 137.7,2801.3 138.6,2799.9 139.5,2798.8 140.3,2797.3 141.0,2796.2 142.2,2794.5 143.5,2793.4 144.6,2792.7 145.8,2791.8 146.8,2790.6 147.9,2790.4 148.7,2791.6 149.5,2792.6 150.3,2793.3 151.0,2794.5 151.8,2795.7 152.6,2796.8 153.4,2798.6 153.8,2800.2 154.3,2801.6 154.8,2802.7 155.3,2804.1 155.8,2805.6 156.3,2807.0 156.8,2808.7 157.3,2810.8 157.8,2812.2 158.3,2813.5 158.8,2814.9 159.3,2816.3 159.8,2817.3 160.2,2818.3 161.2,2820.0 162.1,2821.4 163.0,2822.3 163.9,2822.9 164.8,2823.0 165.7,2823.3 167.0,2823.9 168.2,2824.2 169.5,2823.5 171.2,2822.3 172.1,2821.3 173.0,2820.4 173.9,2819.3 174.9,2818.4 175.9,2817.4 177.0,2816.6 178.2,2815.5 179.5,2815.0 180.8,2814.6 182.0,2814.6 183.2,2814.6 184.6,2815.1 185.9,2815.6 187.4,2816.2 188.8,2816.9 190.3,2817.4 191.7,2818.2 193.2,2819.1 194.6,2819.7 195.9,2820.2 197.2,2820.9 198.5,2821.3 199.8,2821.9 201.1,2822.6 202.4,2823.6 203.7,2824.8 204.9,2825.7 206.2,2825.7 207.4,2826.6 208.6,2827.7 209.7,2828.2 211.2,2828.6 212.5,2829.0 213.8,2829.4 215.0,2829.4 216.3,2829.4 217.6,2829.7 219.1,2830.4 220.7,2831.2 221.8,2831.5 223.0,2832.0 224.2,2832.4 225.5,2833.5 226.9,2834.6 228.2,2835.8 229.6,2836.7 230.9,2837.4 232.3,2838.1 233.6,2838.5 234.8,2838.7 236.0,2839.3 237.1,2839.7 238.7,2840.4 240.2,2840.4 241.5,2840.4 242.8,2840.2 244.0,2840.1 245.3,2840.0 246.6,2839.6 248.1,2839.2 249.4,2839.2 250.8,2838.6 252.2,2838.0 253.7,2837.4 255.2,2837.5 256.6,2837.5 258.1,2837.1 259.5,2836.4 260.7,2835.6 261.9,2834.7 263.2,2833.9 264.3,2833.1 265.3,2832.2 266.2,2831.1 267.1,2830.3 268.0,2829.6 269.0,2828.7 270.1,2827.7 271.2,2827.0 272.4,2826.7 273.7,2826.6 275.0,2826.4 276.2,2825.8 277.5,2825.2 278.8,2824.4 280.0,2823.7 281.1,2822.3 281.8,2821.3 282.5,2820.2 283.2,2818.9 283.8,2817.6 284.5,2816.2 285.1,2814.9 285.7,2813.7 286.3,2812.5 286.9,2811.3 287.5,2809.9 288.1,2808.3 288.7,2807.0 289.3,2806.5 290.5,2804.5 291.7,2802.7 292.9,2801.9 294.0,2801.1 295.2,2800.2 296.4,2799.7 297.6,2799.3 299.0,2799.0 300.4,2799.0 301.8,2799.2 303.2,2799.5 304.5,2800.1 305.8,2800.7 307.0,2801.5 308.2,2802.1 309.3,2802.8 310.4,2804.0 311.6,2805.1 312.7,2805.1 313.7,2804.2 314.6,2803.2 315.6,2801.8 316.6,2800.2 317.5,2798.6 318.5,2797.6 319.6,2797.5 320.6,2797.7 321.5,2797.7 322.4,2797.7 323.4,2798.2 324.6,2799.1 326.0,2799.8 327.8,2800.8 328.6,2801.7 329.4,2802.9 330.2,2803.9 331.2,2804.7 332.1,2805.7 333.1,2806.4 334.2,2808.0 335.2,2809.2 336.3,2810.3 337.4,2811.3 338.5,2812.5 339.7,2814.0 340.8,2815.3 341.9,2816.4 342.9,2817.8 344.0,2818.8 345.0,2819.8 346.0,2820.6 347.0,2821.4 348.3,2822.5 349.5,2823.4 350.8,2824.4 352.0,2825.1 353.2,2825.9 354.4,2826.6 355.6,2827.3 356.8,2828.2 357.9,2829.4 359.1,2830.2 360.2,2830.5 361.3,2831.1 362.4,2831.9 363.5,2832.8 364.7,2833.9 365.9,2834.8 367.1,2835.3 368.2,2835.9 369.3,2837.2 370.4,2838.2 371.5,2839.3 372.6,2840.6 373.7,2841.5 374.9,2842.0 376.1,2842.7 377.3,2843.1 378.7,2843.3 380.0,2843.4 381.4,2843.4 382.8,2843.0 384.3,2842.7 385.7,2842.5 387.2,2841.9 388.8,2841.7 390.3,2841.5 392.0,2841.4 393.7,2841.0 395.0,2840.4 396.4,2840.5 397.8,2840.7 399.3,2840.6 400.8,2840.3 402.4,2839.7 403.9,2839.4 405.5,2839.4 407.0,2839.5 408.6,2839.2 410.1,2839.0 411.6,2838.7 413.0,2838.2 414.4,2838.4 415.7,2838.7 417.3,2838.9 418.8,2838.6 420.2,2838.3 421.6,2838.6 423.0,2839.1 424.3,2839.3 425.6,2839.5 426.9,2839.5 428.2,2839.5 429.5,2839.8 430.8,2839.7 432.2,2839.3 433.6,2839.6 435.0,2840.1 436.4,2840.0 437.8,2840.1 439.2,2840.3 440.6,2840.5 442.0,2840.7 443.4,2840.8 444.8,2840.6 446.1,2840.4 447.4,2840.7 448.7,2840.8 450.0,2841.0 451.3,2840.8 452.6,2840.0 453.8,2839.3 455.0,2838.8 456.1,2837.8 457.3,2836.8 458.5,2835.7 459.8,2834.9 461.1,2834.4 462.4,2834.1 463.7,2834.2 465.0,2834.1 466.4,2833.6 467.7,2833.4 469.1,2833.9 470.5,2834.1 472.0,2833.9 473.4,2834.0 474.8,2834.1 476.2,2833.8 477.6,2833.0 478.9,2832.6 480.0,2832.5 481.2,2831.6 482.4,2830.7 483.5,2830.0 484.7,2829.5 485.8,2828.7 487.0,2827.7 488.1,2826.7 489.2,2825.5 490.3,2824.4 491.4,2823.7 492.4,2822.5 493.4,2821.1 494.4,2819.8 495.4,2818.5 496.3,2817.3 497.2,2816.6 498.1,2815.5 499.0,2813.8 499.8,2813.1 500.6,2812.8 501.4,2811.6 502.2,2809.8 503.0,2808.7 503.8,2807.8 504.5,2806.3 505.3,2805.1 506.0,2804.1 506.9,2803.1 507.8,2802.3 508.6,2801.5 509.5,2800.1 510.3,2799.0 511.0,2798.5 511.8,2797.8 512.5,2796.8 513.2,2795.7 513.9,2793.6 514.6,2791.3 514.9,2790.7 515.1,2789.9 515.3,2788.5 515.6,2787.1 515.8,2785.5 516.0,2784.2 516.2,2783.3 516.5,2782.2 516.7,2780.8 516.9,2779.4 517.1,2777.9 517.3,2776.2 517.5,2774.5 517.7,2772.9 517.9,2771.1 518.1,2769.6 518.3,2768.3 518.4,2767.3 518.6,2766.3 518.8,2764.6 519.0,2762.8 519.2,2760.7 519.4,2759.0 519.6,2757.7 519.8,2756.5 520.0,2755.1 520.2,2753.3 520.4,2751.5 520.6,2749.9 520.8,2748.3 521.0,2746.9 521.2,2745.4 521.4,2743.6 521.5,2742.0 521.7,2740.5 521.9,2738.9 522.1,2737.4 522.3,2736.1 522.5,2734.5 522.7,2732.8 522.8,2731.1 523.0,2729.5 523.2,2727.9 523.4,2726.4 523.6,2725.0 523.8,2723.4 524.0,2721.8 524.2,2720.4 524.4,2719.1 524.6,2717.9 524.8,2716.5 525.0,2714.8 525.2,2713.7 525.4,2712.6 525.6,2711.2 525.8,2709.7 526.0,2708.4 526.2,2707.2 526.6,2705.5 527.0,2703.6 527.4,2701.9 527.8,2700.2 528.3,2698.3 528.7,2696.6 529.1,2695.1 529.6,2693.6 530.0,2692.2 530.5,2690.8 530.9,2689.4 531.3,2688.1 531.8,2687.1 532.2,2686.5 532.6,2685.8 533.0,2685.0 533.4,2684.5 534.3,2684.0 535.1,2683.9 535.9,2684.5 536.7,2686.0 537.5,2687.8 538.3,2690.2 539.1,2693.1 539.3,2694.0 539.6,2695.2 539.8,2696.4 540.0,2697.6 540.3,2698.9 540.5,2700.3 540.7,2701.6 541.0,2702.9 541.2,2704.4 541.4,2705.7 541.7,2707.1 541.9,2708.9 542.1,2710.3 542.4,2711.8 542.6,2713.7 542.9,2715.5 543.1,2717.4 543.3,2719.1 543.6,2720.6 543.9,2722.0 544.1,2723.4 544.4,2724.8 544.6,2726.4 544.9,2727.8 545.2,2729.3 545.5,2730.9 545.8,2732.6 546.1,2734.4 546.4,2736.1 546.7,2737.7 547.0,2739.3 547.4,2741.1 547.7,2743.1 548.0,2744.8 548.3,2746.2 548.6,2747.7 549.0,2749.4 549.3,2750.8 549.6,2752.4 550.0,2753.8 550.3,2755.2 550.7,2756.1 551.0,2756.8 551.4,2757.6 551.7,2758.7 552.1,2759.7 553.0,2760.4 554.0,2760.3 554.9,2759.7 555.9,2758.4 557.0,2756.9 558.0,2755.0 558.9,2753.3 559.9,2752.0 560.8,2750.7 561.8,2749.7 562.7,2748.5 563.7,2747.2 564.6,2745.6 565.5,2744.4 566.3,2743.5 567.2,2742.5 568.0,2742.1 569.0,2742.1 570.0,2742.7 570.9,2743.5 571.8,2744.5 572.8,2746.1 573.8,2747.8 574.3,2748.9 574.8,2750.2 575.3,2751.9 575.8,2753.3 576.3,2754.3 576.9,2755.8 577.4,2757.3 578.0,2758.7 578.7,2760.2 579.4,2761.7 580.1,2762.7 581.0,2763.8 582.1,2764.5 583.3,2765.4 584.6,2766.0 586.0,2766.4 587.4,2766.8 588.8,2767.4 590.3,2767.9 591.7,2768.1 593.0,2767.9 594.3,2768.1 595.4,2768.0 596.9,2767.9 598.2,2767.8 599.3,2767.5 600.4,2766.8 601.5,2765.8 602.7,2764.4 604.0,2762.3 604.5,2761.4 605.0,2760.4 605.5,2759.4 606.0,2758.3 606.6,2757.1 607.1,2755.7 607.6,2754.2 608.2,2752.7 608.8,2751.1 609.3,2749.6 609.9,2748.1 610.5,2746.6 611.1,2745.2 611.6,2743.4 612.2,2742.0 612.8,2740.8 613.4,2739.4 613.9,2737.8 614.5,2736.1 615.0,2734.6 615.6,2733.5 616.2,2732.0 616.9,2730.4 617.5,2729.1 618.2,2728.0 618.8,2726.6 619.5,2725.2 620.1,2723.8 620.8,2722.4 621.4,2720.9 622.1,2719.5 622.7,2718.2 623.4,2716.9 624.0,2715.6 624.6,2714.6 625.3,2713.8 625.9,2712.7 626.5,2711.6 627.1,2710.5 628.2,2708.8 629.3,2707.2 630.3,2705.9 631.4,2704.9 632.4,2703.7 633.4,2702.3 634.4,2701.4 635.4,2700.7 636.3,2700.3 637.2,2700.1 638.4,2700.1 639.4,2700.6 640.3,2701.5 641.3,2702.6 642.2,2704.4 643.2,2706.0 644.4,2707.4 645.0,2708.2 645.7,2709.4 646.3,2710.9 647.0,2712.5 647.7,2714.0 648.4,2715.2 649.1,2716.4 649.8,2718.0 650.6,2719.5 651.3,2720.9 652.1,2722.1 652.9,2723.1 653.7,2724.0 654.5,2724.8 655.8,2725.8 657.2,2726.7 658.6,2727.4 660.0,2727.8 661.5,2728.2 663.0,2728.1 664.5,2727.7 666.0,2727.2 667.5,2726.3 668.4,2725.3 669.3,2724.7 670.2,2723.9 671.1,2722.8 672.0,2721.5 672.9,2720.0 673.9,2718.5 674.8,2717.0 675.7,2715.5 676.6,2714.0 677.6,2712.7 678.5,2711.5 679.4,2710.1 680.2,2709.1 681.1,2708.6 681.9,2708.1 683.5,2707.1 685.1,2706.4 686.6,2706.1 688.1,2706.2 689.6,2706.5 691.0,2706.4 692.3,2706.2 693.5,2706.0 694.8,2705.6 695.9,2705.4 696.9,2705.6 697.8,2705.5 698.8,2704.6 699.7,2702.6 700.7,2699.1 700.9,2698.2 701.1,2696.9 701.3,2695.8 701.5,2694.9 701.7,2694.0 701.9,2692.7 702.0,2691.4 702.2,2690.2 702.4,2688.7 702.6,2687.3 702.8,2685.9 703.0,2684.4 703.2,2682.9 703.4,2681.5 703.6,2679.9 703.7,2678.3 703.9,2676.7 704.1,2675.2 704.3,2673.5 704.5,2672.0 704.7,2670.4 704.9,2668.5 705.1,2666.5 705.3,2664.7 705.5,2662.8 705.7,2661.1 705.9,2659.7 706.1,2658.2 706.3,2656.6 706.5,2654.9 706.7,2653.1 706.9,2651.4 707.1,2649.8 707.3,2648.3 707.5,2647.1 707.7,2645.8 707.9,2644.3 708.1,2642.7 708.3,2641.0 708.6,2639.3 708.8,2637.8 709.0,2636.5 709.2,2635.0 709.5,2633.4 709.7,2631.6 709.9,2630.0 710.1,2628.7 710.4,2627.1 710.6,2625.4 710.8,2624.2 711.1,2622.8 711.3,2621.1 711.5,2619.5 711.8,2617.9 712.0,2616.4 712.3,2615.0 712.5,2613.6 712.7,2612.0 713.0,2610.3 713.2,2608.9 713.5,2607.6 713.7,2606.2 714.0,2604.7 714.2,2603.2 714.5,2602.1 714.7,2600.8 715.0,2599.4 715.2,2598.3 715.5,2596.9 715.7,2595.6 716.0,2594.4 716.2,2593.4 716.5,2592.2 717.0,2590.0 717.4,2588.0 717.9,2585.9 718.4,2584.1 718.9,2582.6 719.4,2581.1 719.9,2579.4 720.4,2577.7 720.9,2576.0 721.4,2574.4 721.9,2572.9 722.4,2571.5 722.9,2570.2 723.4,2569.2 723.9,2568.3 724.4,2567.2 724.8,2566.2 725.3,2565.1 725.7,2564.0 726.2,2563.5 726.6,2563.4 727.4,2562.7 728.2,2562.5 728.9,2563.1 729.6,2563.9 730.3,2564.9 731.0,2566.5 731.6,2568.3 732.3,2570.5 733.0,2572.8 733.8,2575.0 734.1,2576.1 734.4,2577.1 734.7,2577.9 735.1,2579.0 735.4,2580.3 735.7,2581.7 736.0,2582.9 736.4,2584.3 736.7,2585.9 737.0,2587.2 737.4,2588.5 737.7,2590.0 738.1,2591.5 738.4,2593.1 738.7,2595.1 739.1,2596.8 739.4,2598.2 739.8,2600.0 740.1,2601.4 740.5,2602.6 740.8,2604.0 741.1,2605.8 741.5,2607.7 741.8,2609.0 742.2,2610.6 742.5,2612.4 742.8,2613.7 743.1,2615.1 743.4,2616.4 743.8,2618.0 744.1,2619.5 744.4,2621.1 744.7,2622.7 745.1,2624.4 745.4,2625.8 745.7,2627.8 746.1,2629.8 746.4,2631.4 746.7,2632.7 747.0,2634.6 747.4,2636.3 747.7,2637.9 748.0,2639.3 748.3,2641.0 748.6,2642.3 748.9,2643.4 749.2,2644.8 749.5,2646.3 749.8,2647.7 750.1,2649.0 750.4,2650.0 750.7,2650.8 750.9,2651.7 751.2,2652.5 752.3,2655.5 753.2,2657.3 754.0,2658.2 754.9,2658.5 755.8,2658.2 756.9,2658.1 757.8,2657.8 758.9,2657.1 759.9,2656.4 761.1,2655.2 762.2,2653.8 763.4,2652.7 764.5,2651.8 765.6,2651.2 767.0,2651.0 768.5,2651.2 769.9,2651.6 771.3,2651.7 772.8,2651.0 774.2,2649.5 774.7,2648.9 775.1,2647.8 775.6,2647.0 776.0,2646.2 776.5,2645.0 776.9,2643.6 777.4,2642.0 777.9,2640.6 778.3,2639.2 778.8,2637.6 779.2,2636.1 779.7,2634.6 780.2,2633.1 780.6,2631.2 781.1,2629.5 781.5,2628.1 782.0,2626.4 782.4,2625.0 782.9,2623.7 783.4,2622.3 783.8,2620.8 784.3,2619.4 784.8,2617.7 785.2,2616.3 785.7,2614.8 786.2,2613.3 786.7,2611.9 787.1,2610.5 787.6,2609.0 788.1,2607.7 788.5,2606.1 789.0,2604.8 789.4,2603.4 789.9,2602.1 790.3,2601.0 790.7,2599.9 791.1,2598.8 791.5,2598.3 792.6,2596.0 793.5,2593.7 794.4,2592.3 795.3,2591.8 796.2,2591.9 797.3,2592.7 797.9,2593.2 798.5,2594.0 799.1,2594.9 799.8,2595.4 800.4,2596.4 801.1,2597.8 801.8,2599.1 802.5,2600.3 803.2,2601.8 803.9,2603.4 804.6,2605.0 805.3,2607.1 806.0,2609.3 806.3,2610.2 806.6,2611.2 806.9,2612.7 807.2,2614.2 807.5,2615.3 807.8,2616.2 808.1,2617.4 808.4,2618.7 808.7,2619.8 809.0,2621.0 809.2,2622.3 809.5,2623.8 809.8,2625.2 810.1,2626.5 810.4,2628.1 810.7,2629.6 811.0,2630.8 811.3,2632.2 811.6,2634.1 811.9,2636.1 812.2,2637.4 812.6,2638.9 812.9,2640.7 813.2,2642.3 813.6,2644.1 813.9,2646.2 814.2,2648.2 814.6,2650.0 814.8,2651.1 815.1,2652.2 815.3,2653.3 815.5,2654.7 815.8,2656.4 816.0,2657.6 816.3,2658.9 816.5,2660.2 816.8,2661.6 817.0,2663.1 817.3,2664.3 817.6,2666.0 817.8,2667.6 818.1,2669.3 818.4,2670.9 818.6,2672.3 818.9,2673.7 819.2,2675.5 819.4,2677.2 819.7,2678.9 820.0,2680.4 820.3,2682.1 820.5,2683.4 820.8,2684.7 821.1,2686.1 821.4,2688.0 821.6,2689.9 821.9,2691.4 822.2,2693.0 822.4,2694.8 822.7,2696.4 823.0,2697.8 823.2,2699.5 823.5,2701.2 823.8,2702.8 824.0,2703.8 824.3,2704.9 824.5,2706.5 824.8,2707.9 825.0,2709.3 825.3,2710.9 825.5,2712.3 825.7,2713.7 826.0,2715.0 826.2,2716.3 826.5,2718.0 826.8,2720.0 827.1,2721.8 827.4,2723.4 827.7,2725.2 828.0,2726.7 828.2,2728.2 828.5,2730.0 828.8,2731.8 829.0,2733.1 829.3,2734.6 829.5,2736.5 829.8,2737.9 830.0,2739.1 830.3,2740.7 830.5,2742.2 830.8,2743.7 831.0,2745.3 831.2,2746.8 831.5,2748.1 831.7,2749.4 832.0,2750.8 832.3,2752.1 832.5,2753.1 832.8,2754.4 833.1,2756.0 833.3,2757.0 833.6,2758.0 833.9,2759.3 834.2,2760.2 834.5,2761.0 834.8,2762.1 835.6,2764.5 836.4,2766.5 837.2,2767.9 838.0,2769.4 838.9,2770.5 839.7,2771.2 840.6,2772.3 841.5,2773.3 842.4,2774.0 843.4,2774.5 844.3,2775.1 845.3,2775.9 846.3,2776.6 847.5,2777.4 848.8,2778.3 850.1,2778.9 851.5,2779.4 852.9,2780.0 854.2,2780.4 855.6,2781.0 857.0,2781.8 858.3,2781.9 859.6,2782.0 860.8,2782.8 862.1,2783.6 863.3,2784.0 864.5,2784.5 865.6,2785.7 866.7,2786.6 867.8,2787.7 868.9,2789.2 870.0,2790.1 871.2,2790.7 872.3,2791.2 873.7,2791.2 875.0,2790.7 876.2,2789.7 877.5,2788.9 878.9,2788.5 880.3,2788.3 881.9,2787.5 883.8,2787.3 885.0,2787.2 886.2,2787.7 887.4,2787.7 888.7,2788.0 890.1,2788.9 891.5,2789.5 892.9,2789.6 894.4,2789.8 895.9,2790.5 897.5,2791.3 899.0,2791.2 900.7,2791.3 902.3,2791.9 904.0,2791.8 905.3,2792.3 906.6,2793.0 907.9,2793.2 909.2,2793.8 910.6,2794.0 911.9,2793.0 913.3,2792.7 914.7,2793.0 916.2,2793.2 917.6,2793.6 919.1,2794.7 920.6,2795.4 922.1,2795.4 923.6,2795.0 925.1,2794.6 926.7,2794.6 928.2,2795.3 929.8,2795.4 931.4,2795.2 932.7,2794.8 934.1,2794.7 935.5,2795.5 936.9,2795.6 938.4,2795.1 939.9,2795.0 941.4,2795.2 942.9,2795.5 944.4,2796.0 945.9,2795.8 947.5,2795.5 949.0,2795.6 950.5,2795.3 952.0,2795.0 953.5,2794.9 955.0,2794.8 956.4,2795.0 957.9,2795.3 959.2,2795.4 960.6,2795.5 961.9,2795.1 963.2,2794.4 964.4,2793.8 966.0,2793.2 967.5,2792.5 968.9,2791.9 970.2,2791.9 971.4,2791.9 972.5,2790.9 973.6,2789.2 974.7,2788.5 975.9,2788.6 977.0,2787.8 978.3,2786.2 979.6,2785.4 981.1,2785.3 982.7,2785.1 984.4,2785.0 986.4,2784.6 987.5,2783.7 988.7,2783.7 990.0,2784.0 991.3,2783.4 992.7,2782.5 994.1,2782.2 995.6,2782.7 997.1,2782.6 998.7,2783.1 1000.2,2783.3 1001.8,2783.0 1003.4,2783.3 1005.1,2783.0 1006.7,2783.0 1008.4,2783.7 1010.0,2783.3 1011.6,2782.7 1013.3,2781.8 1014.9,2781.7 1016.5,2781.2 1018.0,2780.5 1019.6,2780.2 1021.1,2780.3 1022.6,2780.1 1024.0,2780.1 1025.4,2779.7 1026.7,2778.8 1028.0,2778.5 1029.2,2778.8 1030.3,2778.8 1032.4,2778.9 1034.2,2779.0 1035.8,2779.6 1037.3,2779.5 1038.6,2779.2 1039.9,2779.8 1041.1,2780.4 1042.2,2781.2 1043.4,2781.5 1044.6,2781.6 1045.8,2782.1 1047.2,2782.0 1048.7,2781.2 1050.4,2781.5 1052.3,2782.5 1053.4,2782.2 1054.6,2781.2 1055.9,2781.1 1057.1,2781.0 1058.4,2780.3 1059.7,2780.3 1061.1,2780.5 1062.5,2781.3 1063.9,2782.8 1065.4,2783.8 1066.8,2783.7 1068.3,2783.5 1069.8,2783.2 1071.3,2783.5 1072.8,2783.5 1074.3,2783.0 1075.8,2783.6 1077.4,2784.6 1078.9,2784.7 1080.4,2784.6 1081.9,2785.0 1083.4,2785.3 1084.9,2785.6 1086.4,2785.5 1087.9,2786.1 1089.4,2787.1 1090.8,2787.9 1092.3,2787.9 1093.8,2787.2 1095.3,2787.6 1096.8,2787.9 1098.4,2787.7 1099.9,2787.0 1101.4,2787.0 1103.0,2787.7 1104.5,2787.6 1106.1,2787.7 1107.6,2787.8 1109.2,2787.2 1110.7,2786.8 1112.2,2787.0 1113.7,2787.5 1115.2,2788.7 1116.7,2789.7 1118.2,2790.2 1119.6,2790.2 1121.1,2789.6 1122.5,2788.6 1123.9,2787.9 1125.3,2788.0 1126.6,2788.6 1127.9,2788.7 1129.2,2788.8 1130.9,2788.4 1132.5,2787.9 1134.1,2788.2 1135.6,2788.3 1137.1,2789.6 1138.5,2790.6 1139.9,2790.2 1141.3,2791.0 1142.6,2791.8 1144.0,2791.3 1145.3,2791.4 1146.6,2792.1 1148.0,2793.0 1149.3,2793.4 1150.7,2793.4 1152.2,2793.2 1153.6,2792.7 1155.1,2792.3 1156.7,2792.3 1158.0,2793.0 1159.3,2793.2 1160.6,2792.3 1161.8,2791.7 1163.1,2791.5 1164.4,2791.2 1165.6,2790.7 1166.9,2789.9 1168.2,2789.1 1169.5,2789.3 1170.8,2788.9 1172.2,2788.4 1173.5,2788.4 1174.9,2788.5 1176.4,2787.9 1177.9,2787.6 1179.4,2787.0 1181.0,2786.5 1182.6,2786.6 1184.3,2786.8 1186.0,2786.6 1187.8,2785.7 1189.7,2785.0 1190.9,2784.7 1192.2,2784.2 1193.5,2783.9 1194.8,2784.0 1196.1,2783.9 1197.5,2783.8 1199.0,2783.8 1200.4,2783.1 1201.9,2782.6 1203.4,2782.2 1204.9,2781.9 1206.5,2781.8 1208.0,2781.6 1209.6,2782.1 1211.2,2782.3 1212.8,2781.6 1214.4,2781.3 1216.0,2782.1 1217.6,2783.1 1219.2,2782.7 1220.8,2782.4 1222.4,2782.1 1224.1,2781.7 1225.6,2782.0 1227.2,2782.4 1228.8,2782.5 1230.4,2782.8 1231.9,2782.5 1233.4,2782.6 1234.9,2782.8 1236.4,2782.4 1237.8,2782.2 1239.3,2782.3 1240.6,2782.4 1242.0,2782.3 1243.3,2782.1 1244.6,2782.4 1246.3,2782.8 1248.0,2783.6 1249.6,2783.5 1251.1,2782.5 1252.7,2782.3 1254.2,2782.6 1255.6,2783.3 1257.0,2783.5 1258.4,2783.5 1259.8,2783.8 1261.2,2784.4 1262.5,2784.7 1263.9,2784.6 1265.2,2785.1 1266.5,2785.7 1267.8,2786.8 1269.2,2787.5 1270.5,2787.6 1271.8,2788.1 1273.1,2788.6 1274.5,2789.6 1275.9,2790.7 1277.3,2791.2 1278.7,2791.4 1280.1,2790.9 1281.6,2790.3 1283.1,2790.7 1284.5,2791.1 1285.9,2791.1 1287.3,2790.2 1288.8,2789.7 1290.2,2789.8 1291.7,2789.7 1293.2,2789.2 1294.7,2789.1 1296.2,2789.5 1297.7,2789.4 1299.3,2788.8 1300.8,2788.7 1302.3,2788.6 1303.9,2787.8 1305.4,2787.7 1306.9,2787.2 1308.4,2786.4 1310.0,2786.6 1311.5,2786.8 1313.0,2786.5 1314.5,2786.7 1315.9,2787.2 1317.4,2786.6 1318.8,2786.0 1320.3,2786.3 1321.7,2786.6 1323.0,2786.3 1324.4,2785.2 1325.7,2785.0 1327.0,2785.6 1328.8,2785.4 1330.5,2784.3 1332.3,2784.5 1334.0,2784.5 1335.7,2784.4 1337.5,2784.8 1339.2,2785.1 1340.8,2785.5 1342.5,2785.9 1344.1,2786.3 1345.7,2786.3 1347.3,2786.1 1348.8,2786.2 1350.3,2786.3 1351.7,2786.4 1353.1,2786.5 1354.4,2785.8 1355.7,2785.4 1356.8,2785.8 1358.0,2786.1 1359.0,2786.0 1360.0,2785.9 1362.5,2786.6 1364.1,2787.2 1365.2,2787.7 1366.0,2788.2 1366.6,2788.5 1367.2,2788.7 1368.2,2788.0 1369.0,2787.5 1369.8,2786.7 1370.6,2785.2 1371.4,2783.6 1372.2,2782.2 1373.0,2780.3 1373.8,2778.8 1374.7,2777.9 1375.6,2777.3 1376.5,2776.6 1377.4,2776.7 1378.3,2777.7 1379.1,2778.7 1379.9,2780.1 1380.8,2780.9 1381.8,2781.8 1382.9,2783.3 1384.2,2784.2 1385.7,2784.4 1387.5,2784.0 1388.4,2783.5 1389.3,2784.0 1390.3,2783.9 1391.3,2783.2 1392.4,2782.4 1393.5,2782.3 1394.6,2781.7 1395.8,2780.2 1397.0,2779.4 1398.2,2778.0 1399.5,2777.0 1400.8,2775.9 1402.1,2775.0 1403.4,2774.8 1404.8,2773.8 1406.2,2772.5 1407.6,2771.6 1409.0,2771.4 1410.5,2771.0 1411.9,2770.1 1413.4,2768.9 1414.9,2768.2 1416.1,2767.9 1417.4,2767.4 1418.8,2767.1 1420.2,2766.5 1421.6,2765.3 1423.0,2764.6 1424.5,2764.5 1426.0,2764.1 1427.5,2763.8 1429.1,2763.2 1430.6,2762.8 1432.2,2763.0 1433.7,2762.7 1435.3,2762.7 1436.8,2762.6 1438.3,2762.0 1439.9,2761.6 1441.4,2761.0 1442.9,2760.4 1444.3,2760.5 1445.7,2761.0 1447.1,2761.0 1448.5,2759.9 1449.8,2758.9 1451.0,2759.1 1452.3,2760.0 1453.4,2760.2 1455.2,2759.8 1456.9,2759.8 1458.5,2760.5 1460.1,2761.3 1461.5,2761.7 1462.9,2762.0 1464.2,2762.3 1465.4,2763.1 1466.7,2764.0 1467.9,2764.7 1469.1,2765.6 1470.3,2766.2 1471.5,2766.4 1472.8,2765.5 1474.1,2765.1 1475.4,2765.5 1476.8,2765.8 1478.2,2765.7 1479.5,2765.4 1480.8,2765.1 1482.1,2764.5 1483.4,2763.8 1484.7,2763.9 1486.0,2763.8 1487.4,2763.2 1488.9,2762.7 1490.4,2762.5 1492.0,2762.5 1493.6,2762.4 1495.5,2762.2 1497.4,2762.3 1498.5,2762.6 1499.7,2762.9 1501.0,2763.1 1502.3,2763.1 1503.6,2762.9 1504.9,2763.1 1506.3,2763.5 1507.7,2763.5 1509.2,2764.3 1510.7,2764.7 1512.1,2764.5 1513.6,2765.3 1515.2,2766.0 1516.7,2766.6 1518.2,2766.4 1519.7,2766.4 1521.3,2767.3 1522.8,2768.4 1524.3,2768.6 1525.8,2768.4 1527.3,2768.6 1528.8,2769.0 1530.2,2769.2 1531.7,2769.2 1533.1,2769.2 1534.5,2769.2 1535.8,2769.2 1537.3,2769.2 1538.9,2768.8 1540.4,2767.9 1541.9,2767.6 1543.4,2767.3 1544.9,2767.1 1546.4,2767.1 1547.9,2766.6 1549.4,2766.5 1550.8,2766.8 1552.3,2767.1 1553.7,2766.7 1555.1,2766.3 1556.5,2765.9 1557.9,2765.6 1559.3,2765.4 1560.7,2765.0 1562.1,2764.3 1563.5,2764.3 1564.8,2764.5 1566.1,2764.4 1567.5,2764.1 1568.8,2763.6 1570.4,2763.3 1572.0,2763.5 1573.6,2763.0 1575.2,2762.3 1576.9,2762.4 1578.5,2762.4 1580.0,2762.1 1581.6,2761.3 1583.2,2760.7 1584.7,2760.6 1586.2,2760.3 1587.6,2759.5 1589.0,2758.8 1590.4,2758.8 1591.7,2759.0 1592.9,2758.6 1594.1,2758.0 1595.2,2756.6 1596.3,2756.3 1598.2,2756.4 1599.6,2756.5 1600.8,2757.5 1601.7,2758.8 1602.6,2760.0 1603.4,2761.3 1604.4,2762.4 1605.7,2762.6 1607.3,2762.9 1608.5,2763.6 1609.7,2763.9 1611.1,2763.4 1612.5,2762.4 1614.0,2761.8 1615.5,2762.0 1617.1,2762.1 1618.7,2761.6 1620.3,2760.4 1621.9,2760.6 1623.5,2761.3 1625.0,2760.6 1626.5,2760.0 1627.9,2760.5 1629.2,2760.7 1630.4,2761.5 1631.6,2762.4 1632.9,2762.7 1634.1,2763.3 1635.3,2764.9 1636.5,2766.9 1637.7,2768.1 1638.8,2768.8 1639.9,2769.7 1641.0,2771.2 1641.9,2772.2 1642.9,2772.7 1643.7,2773.3 1644.5,2773.9 1645.1,2775.0 1645.7,2775.7" fill="none" stroke="#ff0010" stroke-width="4.3" stroke-linejoin="round" stroke-linecap="round"/>
<text transform="translate(620.06,1705.90) scale(0.9750,1)" font-size="59.0">D</text>
<text transform="translate(766.41,1685.61) scale(0.9750,1)" font-size="59.0">G</text>
<text transform="translate(1464.15,1864.91) scale(0.9750,1)" font-size="59.0">GO</text>
<text transform="translate(1448.44,2113.11) scale(0.9750,1)" font-size="59.0">RGO</text>
<text transform="translate(1428.68,2439.80) scale(0.9750,1)" font-size="59.0">PANI</text>
<text transform="translate(1311.82,2722.01) scale(0.9750,1)" font-size="59.0">PANI-RGO</text>
<text transform="translate(946.04,1899.70) scale(0.9500,1)" font-size="59.9">I</text>
<text transform="translate(962.14,1921.60) scale(1.0188,1)" font-size="32.8">D</text>
<text transform="translate(986.60,1899.70) scale(0.9349,1)" font-size="59.9">/I</text>
<text transform="translate(1016.79,1921.67) scale(1.1027,1)" font-size="32.8">G</text>
<text transform="translate(1043.09,1899.70) scale(0.9397,1)" font-size="59.9">=0.88</text>
<text transform="translate(941.14,2152.80) scale(0.9500,1)" font-size="59.9">I</text>
<text transform="translate(957.24,2174.70) scale(1.0188,1)" font-size="32.8">D</text>
<text transform="translate(981.70,2152.80) scale(0.9349,1)" font-size="59.9">/I</text>
<text transform="translate(1011.89,2174.77) scale(1.1027,1)" font-size="32.8">G</text>
<text transform="translate(1038.18,2152.80) scale(0.9426,1)" font-size="59.9">=1.07</text>
<text transform="translate(495.57,2380.80)" font-size="40.3">1164</text>
<text transform="translate(595.56,2401.00)" font-size="40.3">1337</text>
<text transform="translate(673.21,2290.00)" font-size="40.3">1485</text>
<text transform="translate(767.71,2278.40)" font-size="40.3">1598</text>
<text transform="translate(489.52,2672.50)" font-size="40.3">1162</text>
<text transform="translate(594.61,2690.40)" font-size="40.3">1335</text>
<text transform="translate(684.01,2549.90)" font-size="40.3">1480</text>
<text transform="translate(775.61,2580.80)" font-size="40.3">1595</text>
<text transform="translate(645.75,3036.3) scale(0.964,1)" font-size="64.7">Raman shift(cm<tspan font-size="39.1" dy="-32.9">-1</tspan><tspan dy="32.9">)</tspan></text>
<text transform="translate(74,2243.0) rotate(-90) scale(0.968,1) translate(-196.93,0)" font-size="64.7">Intensity(a.u.)</text>
</svg>
</body></html>
